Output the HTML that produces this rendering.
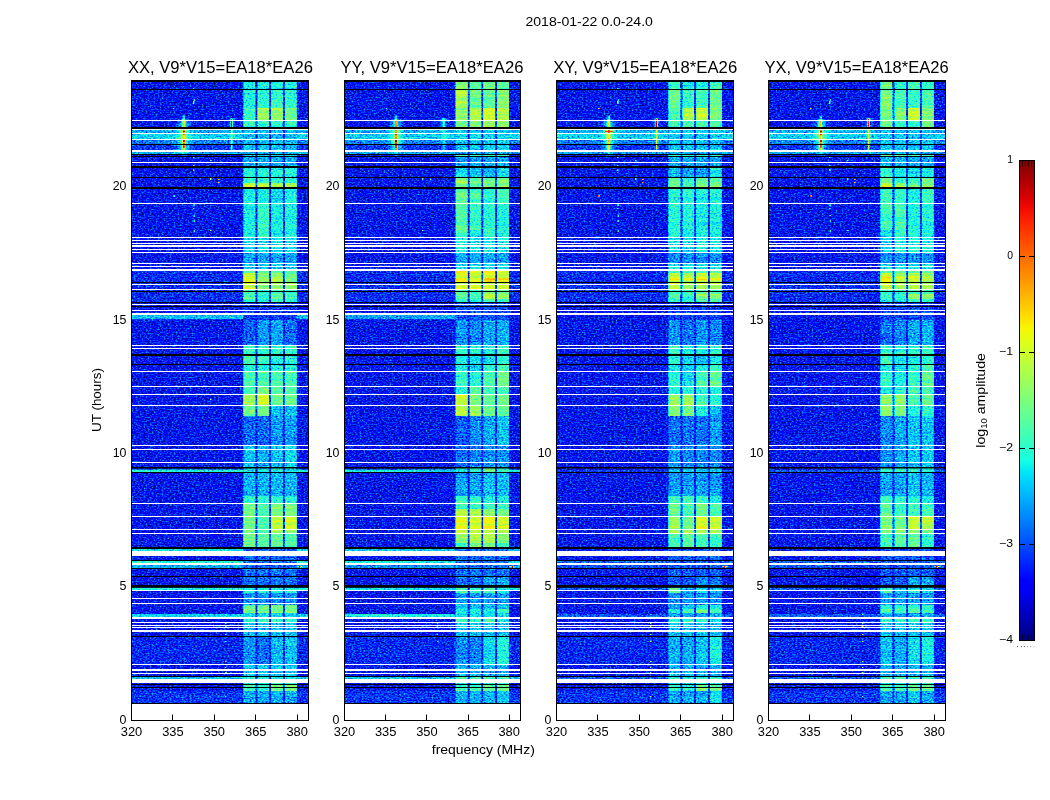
<!DOCTYPE html><html><head><meta charset="utf-8"><title>2018-01-22 0.0-24.0</title>
<style>html,body{margin:0;padding:0;background:#fff;overflow:hidden}svg{display:block}text{font-family:"Liberation Sans",sans-serif;fill:#000;opacity:.995}</style></head><body>
<svg width="1050" height="800" viewBox="0 0 1050 800">
<defs>
<filter id="jet0" filterUnits="userSpaceOnUse" x="131.5" y="80" width="177" height="623.2" color-interpolation-filters="sRGB">
<feTurbulence type="fractalNoise" baseFrequency="0.5 0.75" numOctaves="2" seed="3" result="n0"/>
<feColorMatrix in="n0" type="matrix" values="1 0 0 0 0 1 0 0 0 0 1 0 0 0 0 0 0 0 0 1" result="n1"/>
<feComponentTransfer in="n1" result="n2"><feFuncR type="gamma" exponent="0.55"/><feFuncG type="gamma" exponent="0.55"/><feFuncB type="gamma" exponent="0.55"/></feComponentTransfer>
<feTurbulence type="fractalNoise" baseFrequency="0.012 0.42" numOctaves="2" seed="11" result="m0"/>
<feColorMatrix in="m0" type="matrix" values="1 0 0 0 0 1 0 0 0 0 1 0 0 0 0 0 0 0 0 1" result="m1"/>
<feComposite in="SourceGraphic" in2="m1" operator="arithmetic" k1="0.3" k2="0.85" k3="0" k4="0" result="sA"/>
<feComposite in="sA" in2="n2" operator="arithmetic" k1="-0.936" k2="1.63648" k3="0.72" k4="-0.4896" result="c"/>
<feComponentTransfer in="c"><feFuncR type="table" tableValues="0 0 0 0 0 0 0 0 0 0 0 0 0 0 0 0 0 0 0 0 0 0 0 0 0 0 0 0 0 0 0 0 0 0 0 0 0.0323 0.0645 0.0968 0.129 0.161 0.194 0.226 0.258 0.29 0.323 0.355 0.387 0.419 0.452 0.484 0.516 0.548 0.581 0.613 0.645 0.677 0.71 0.742 0.774 0.806 0.839 0.871 0.903 0.935 0.968 1 1 1 1 1 1 1 1 1 1 1 1 1 1 1 1 1 1 1 1 1 1 1 1 0.955 0.909 0.864 0.818 0.773 0.727 0.682 0.636 0.591 0.545 0.5"/><feFuncG type="table" tableValues="0 0 0 0 0 0 0 0 0 0 0 0 0 0.02 0.06 0.1 0.14 0.18 0.22 0.26 0.3 0.34 0.38 0.42 0.46 0.5 0.54 0.58 0.62 0.66 0.7 0.74 0.78 0.82 0.86 0.9 0.94 0.98 1 1 1 1 1 1 1 1 1 1 1 1 1 1 1 1 1 1 1 1 1 1 1 1 1 1 1 0.963 0.926 0.889 0.852 0.815 0.778 0.741 0.704 0.667 0.63 0.593 0.556 0.519 0.481 0.444 0.407 0.37 0.333 0.296 0.259 0.222 0.185 0.148 0.111 0.0741 0.037 0 0 0 0 0 0 0 0 0 0"/><feFuncB type="table" tableValues="0.5 0.545 0.591 0.636 0.682 0.727 0.773 0.818 0.864 0.909 0.955 1 1 1 1 1 1 1 1 1 1 1 1 1 1 1 1 1 1 1 1 1 1 1 1 0.968 0.935 0.903 0.871 0.839 0.806 0.774 0.742 0.71 0.677 0.645 0.613 0.581 0.548 0.516 0.484 0.452 0.419 0.387 0.355 0.323 0.29 0.258 0.226 0.194 0.161 0.129 0.0968 0.0645 0.0323 0 0 0 0 0 0 0 0 0 0 0 0 0 0 0 0 0 0 0 0 0 0 0 0 0 0 0 0 0 0 0 0 0 0 0 0"/><feFuncA type="linear" slope="0" intercept="1"/></feComponentTransfer>
</filter>
<linearGradient id="p0b0" gradientUnits="userSpaceOnUse" x1="0" y1="80" x2="0" y2="703.2"><stop offset="0.0005" stop-color="#585858"/><stop offset="0.0140" stop-color="#585858"/><stop offset="0.0149" stop-color="#5a5a5a"/><stop offset="0.0444" stop-color="#5a5a5a"/><stop offset="0.0454" stop-color="#626262"/><stop offset="0.0637" stop-color="#626262"/><stop offset="0.0647" stop-color="#626262"/><stop offset="0.0754" stop-color="#626262"/><stop offset="0.0764" stop-color="#4a4a4a"/><stop offset="0.1151" stop-color="#4a4a4a"/><stop offset="0.1160" stop-color="#454545"/><stop offset="0.1186" stop-color="#454545"/><stop offset="0.1195" stop-color="#535353"/><stop offset="0.1223" stop-color="#535353"/><stop offset="0.1232" stop-color="#454545"/><stop offset="0.1383" stop-color="#454545"/><stop offset="0.1393" stop-color="#5b5b5b"/><stop offset="0.1560" stop-color="#5b5b5b"/><stop offset="0.1569" stop-color="#5e5e5e"/><stop offset="0.1648" stop-color="#5e5e5e"/><stop offset="0.1658" stop-color="#8e8e8e"/><stop offset="0.1717" stop-color="#8e8e8e"/><stop offset="0.1727" stop-color="#585858"/><stop offset="0.1977" stop-color="#585858"/><stop offset="0.1987" stop-color="#585858"/><stop offset="0.2402" stop-color="#585858"/><stop offset="0.2412" stop-color="#585858"/><stop offset="0.2514" stop-color="#585858"/><stop offset="0.2524" stop-color="#525252"/><stop offset="0.2771" stop-color="#525252"/><stop offset="0.2781" stop-color="#454545"/><stop offset="0.2940" stop-color="#454545"/><stop offset="0.2949" stop-color="#4c4c4c"/><stop offset="0.3060" stop-color="#4c4c4c"/><stop offset="0.3070" stop-color="#6a6a6a"/><stop offset="0.3092" stop-color="#6a6a6a"/><stop offset="0.3102" stop-color="#8e8e8e"/><stop offset="0.3164" stop-color="#8e8e8e"/><stop offset="0.3174" stop-color="#959595"/><stop offset="0.3212" stop-color="#959595"/><stop offset="0.3222" stop-color="#8e8e8e"/><stop offset="0.3253" stop-color="#8e8e8e"/><stop offset="0.3262" stop-color="#8e8e8e"/><stop offset="0.3357" stop-color="#8e8e8e"/><stop offset="0.3366" stop-color="#656565"/><stop offset="0.3429" stop-color="#656565"/><stop offset="0.3439" stop-color="#6a6a6a"/><stop offset="0.3509" stop-color="#6a6a6a"/><stop offset="0.3519" stop-color="#5e5e5e"/><stop offset="0.3562" stop-color="#5e5e5e"/><stop offset="0.3572" stop-color="#2b2b2b"/><stop offset="0.3846" stop-color="#2b2b2b"/><stop offset="0.3856" stop-color="#333333"/><stop offset="0.4252" stop-color="#333333"/><stop offset="0.4262" stop-color="#626262"/><stop offset="0.4400" stop-color="#626262"/><stop offset="0.4409" stop-color="#676767"/><stop offset="0.4552" stop-color="#676767"/><stop offset="0.4562" stop-color="#5b5b5b"/><stop offset="0.4673" stop-color="#5b5b5b"/><stop offset="0.4682" stop-color="#676767"/><stop offset="0.4913" stop-color="#676767"/><stop offset="0.4923" stop-color="#676767"/><stop offset="0.5042" stop-color="#676767"/><stop offset="0.5051" stop-color="#818181"/><stop offset="0.5218" stop-color="#818181"/><stop offset="0.5228" stop-color="#747474"/><stop offset="0.5387" stop-color="#747474"/><stop offset="0.5396" stop-color="#363636"/><stop offset="0.5852" stop-color="#363636"/><stop offset="0.5862" stop-color="#4c4c4c"/><stop offset="0.6224" stop-color="#4c4c4c"/><stop offset="0.6234" stop-color="#555555"/><stop offset="0.6293" stop-color="#555555"/><stop offset="0.6303" stop-color="#474747"/><stop offset="0.6670" stop-color="#474747"/><stop offset="0.6680" stop-color="#5e5e5e"/><stop offset="0.6791" stop-color="#5e5e5e"/><stop offset="0.6800" stop-color="#747474"/><stop offset="0.6879" stop-color="#747474"/><stop offset="0.6889" stop-color="#747474"/><stop offset="0.6999" stop-color="#747474"/><stop offset="0.7009" stop-color="#747474"/><stop offset="0.7208" stop-color="#747474"/><stop offset="0.7218" stop-color="#747474"/><stop offset="0.7272" stop-color="#747474"/><stop offset="0.7282" stop-color="#747474"/><stop offset="0.7425" stop-color="#747474"/><stop offset="0.7434" stop-color="#747474"/><stop offset="0.7492" stop-color="#747474"/><stop offset="0.7502" stop-color="#363636"/><stop offset="0.7954" stop-color="#363636"/><stop offset="0.7964" stop-color="#383838"/><stop offset="0.8147" stop-color="#383838"/><stop offset="0.8156" stop-color="#5b5b5b"/><stop offset="0.8227" stop-color="#5b5b5b"/><stop offset="0.8237" stop-color="#404040"/><stop offset="0.8419" stop-color="#404040"/><stop offset="0.8429" stop-color="#747474"/><stop offset="0.8484" stop-color="#747474"/><stop offset="0.8493" stop-color="#747474"/><stop offset="0.8548" stop-color="#747474"/><stop offset="0.8557" stop-color="#535353"/><stop offset="0.8612" stop-color="#535353"/><stop offset="0.8622" stop-color="#626262"/><stop offset="0.8692" stop-color="#626262"/><stop offset="0.8702" stop-color="#4c4c4c"/><stop offset="0.8925" stop-color="#4c4c4c"/><stop offset="0.8935" stop-color="#404040"/><stop offset="0.9366" stop-color="#404040"/><stop offset="0.9376" stop-color="#4c4c4c"/><stop offset="0.9575" stop-color="#4c4c4c"/><stop offset="0.9584" stop-color="#5e5e5e"/><stop offset="0.9615" stop-color="#5e5e5e"/><stop offset="0.9625" stop-color="#4c4c4c"/><stop offset="0.9679" stop-color="#4c4c4c"/><stop offset="0.9689" stop-color="#676767"/><stop offset="0.9799" stop-color="#676767"/><stop offset="0.9809" stop-color="#454545"/><stop offset="0.9997" stop-color="#454545"/></linearGradient>
<linearGradient id="p0b1" gradientUnits="userSpaceOnUse" x1="0" y1="80" x2="0" y2="703.2"><stop offset="0.0005" stop-color="#585858"/><stop offset="0.0140" stop-color="#585858"/><stop offset="0.0149" stop-color="#5e5e5e"/><stop offset="0.0444" stop-color="#5e5e5e"/><stop offset="0.0454" stop-color="#818181"/><stop offset="0.0637" stop-color="#818181"/><stop offset="0.0647" stop-color="#626262"/><stop offset="0.0754" stop-color="#626262"/><stop offset="0.0764" stop-color="#4a4a4a"/><stop offset="0.1151" stop-color="#4a4a4a"/><stop offset="0.1160" stop-color="#454545"/><stop offset="0.1186" stop-color="#454545"/><stop offset="0.1195" stop-color="#535353"/><stop offset="0.1223" stop-color="#535353"/><stop offset="0.1232" stop-color="#454545"/><stop offset="0.1383" stop-color="#454545"/><stop offset="0.1393" stop-color="#5b5b5b"/><stop offset="0.1560" stop-color="#5b5b5b"/><stop offset="0.1569" stop-color="#5e5e5e"/><stop offset="0.1648" stop-color="#5e5e5e"/><stop offset="0.1658" stop-color="#888888"/><stop offset="0.1717" stop-color="#888888"/><stop offset="0.1727" stop-color="#585858"/><stop offset="0.1977" stop-color="#585858"/><stop offset="0.1987" stop-color="#626262"/><stop offset="0.2402" stop-color="#626262"/><stop offset="0.2412" stop-color="#626262"/><stop offset="0.2514" stop-color="#626262"/><stop offset="0.2524" stop-color="#525252"/><stop offset="0.2771" stop-color="#525252"/><stop offset="0.2781" stop-color="#454545"/><stop offset="0.2940" stop-color="#454545"/><stop offset="0.2949" stop-color="#4c4c4c"/><stop offset="0.3060" stop-color="#4c4c4c"/><stop offset="0.3070" stop-color="#6a6a6a"/><stop offset="0.3092" stop-color="#6a6a6a"/><stop offset="0.3102" stop-color="#7c7c7c"/><stop offset="0.3164" stop-color="#7c7c7c"/><stop offset="0.3174" stop-color="#818181"/><stop offset="0.3212" stop-color="#818181"/><stop offset="0.3222" stop-color="#797979"/><stop offset="0.3253" stop-color="#797979"/><stop offset="0.3262" stop-color="#7c7c7c"/><stop offset="0.3357" stop-color="#7c7c7c"/><stop offset="0.3366" stop-color="#5e5e5e"/><stop offset="0.3429" stop-color="#5e5e5e"/><stop offset="0.3439" stop-color="#5e5e5e"/><stop offset="0.3509" stop-color="#5e5e5e"/><stop offset="0.3519" stop-color="#585858"/><stop offset="0.3562" stop-color="#585858"/><stop offset="0.3572" stop-color="#2b2b2b"/><stop offset="0.3846" stop-color="#2b2b2b"/><stop offset="0.3856" stop-color="#424242"/><stop offset="0.4252" stop-color="#424242"/><stop offset="0.4262" stop-color="#626262"/><stop offset="0.4400" stop-color="#626262"/><stop offset="0.4409" stop-color="#626262"/><stop offset="0.4552" stop-color="#626262"/><stop offset="0.4562" stop-color="#5b5b5b"/><stop offset="0.4673" stop-color="#5b5b5b"/><stop offset="0.4682" stop-color="#676767"/><stop offset="0.4913" stop-color="#676767"/><stop offset="0.4923" stop-color="#747474"/><stop offset="0.5042" stop-color="#747474"/><stop offset="0.5051" stop-color="#939393"/><stop offset="0.5218" stop-color="#939393"/><stop offset="0.5228" stop-color="#747474"/><stop offset="0.5387" stop-color="#747474"/><stop offset="0.5396" stop-color="#363636"/><stop offset="0.5852" stop-color="#363636"/><stop offset="0.5862" stop-color="#474747"/><stop offset="0.6224" stop-color="#474747"/><stop offset="0.6234" stop-color="#555555"/><stop offset="0.6293" stop-color="#555555"/><stop offset="0.6303" stop-color="#474747"/><stop offset="0.6670" stop-color="#474747"/><stop offset="0.6680" stop-color="#5e5e5e"/><stop offset="0.6791" stop-color="#5e5e5e"/><stop offset="0.6800" stop-color="#676767"/><stop offset="0.6879" stop-color="#676767"/><stop offset="0.6889" stop-color="#676767"/><stop offset="0.6999" stop-color="#676767"/><stop offset="0.7009" stop-color="#676767"/><stop offset="0.7208" stop-color="#676767"/><stop offset="0.7218" stop-color="#676767"/><stop offset="0.7272" stop-color="#676767"/><stop offset="0.7282" stop-color="#6c6c6c"/><stop offset="0.7425" stop-color="#6c6c6c"/><stop offset="0.7434" stop-color="#6c6c6c"/><stop offset="0.7492" stop-color="#6c6c6c"/><stop offset="0.7502" stop-color="#363636"/><stop offset="0.7954" stop-color="#363636"/><stop offset="0.7964" stop-color="#383838"/><stop offset="0.8147" stop-color="#383838"/><stop offset="0.8156" stop-color="#5b5b5b"/><stop offset="0.8227" stop-color="#5b5b5b"/><stop offset="0.8237" stop-color="#404040"/><stop offset="0.8419" stop-color="#404040"/><stop offset="0.8429" stop-color="#747474"/><stop offset="0.8484" stop-color="#747474"/><stop offset="0.8493" stop-color="#747474"/><stop offset="0.8548" stop-color="#747474"/><stop offset="0.8557" stop-color="#535353"/><stop offset="0.8612" stop-color="#535353"/><stop offset="0.8622" stop-color="#626262"/><stop offset="0.8692" stop-color="#626262"/><stop offset="0.8702" stop-color="#4c4c4c"/><stop offset="0.8925" stop-color="#4c4c4c"/><stop offset="0.8935" stop-color="#383838"/><stop offset="0.9366" stop-color="#383838"/><stop offset="0.9376" stop-color="#4c4c4c"/><stop offset="0.9575" stop-color="#4c4c4c"/><stop offset="0.9584" stop-color="#5e5e5e"/><stop offset="0.9615" stop-color="#5e5e5e"/><stop offset="0.9625" stop-color="#4c4c4c"/><stop offset="0.9679" stop-color="#4c4c4c"/><stop offset="0.9689" stop-color="#626262"/><stop offset="0.9799" stop-color="#626262"/><stop offset="0.9809" stop-color="#454545"/><stop offset="0.9997" stop-color="#454545"/></linearGradient>
<linearGradient id="p0b2" gradientUnits="userSpaceOnUse" x1="0" y1="80" x2="0" y2="703.2"><stop offset="0.0005" stop-color="#585858"/><stop offset="0.0140" stop-color="#585858"/><stop offset="0.0149" stop-color="#626262"/><stop offset="0.0444" stop-color="#626262"/><stop offset="0.0454" stop-color="#818181"/><stop offset="0.0637" stop-color="#818181"/><stop offset="0.0647" stop-color="#626262"/><stop offset="0.0754" stop-color="#626262"/><stop offset="0.0764" stop-color="#4a4a4a"/><stop offset="0.1151" stop-color="#4a4a4a"/><stop offset="0.1160" stop-color="#454545"/><stop offset="0.1186" stop-color="#454545"/><stop offset="0.1195" stop-color="#535353"/><stop offset="0.1223" stop-color="#535353"/><stop offset="0.1232" stop-color="#454545"/><stop offset="0.1383" stop-color="#454545"/><stop offset="0.1393" stop-color="#5b5b5b"/><stop offset="0.1560" stop-color="#5b5b5b"/><stop offset="0.1569" stop-color="#5e5e5e"/><stop offset="0.1648" stop-color="#5e5e5e"/><stop offset="0.1658" stop-color="#818181"/><stop offset="0.1717" stop-color="#818181"/><stop offset="0.1727" stop-color="#4f4f4f"/><stop offset="0.1977" stop-color="#4f4f4f"/><stop offset="0.1987" stop-color="#585858"/><stop offset="0.2402" stop-color="#585858"/><stop offset="0.2412" stop-color="#585858"/><stop offset="0.2514" stop-color="#585858"/><stop offset="0.2524" stop-color="#525252"/><stop offset="0.2771" stop-color="#525252"/><stop offset="0.2781" stop-color="#454545"/><stop offset="0.2940" stop-color="#454545"/><stop offset="0.2949" stop-color="#4c4c4c"/><stop offset="0.3060" stop-color="#4c4c4c"/><stop offset="0.3070" stop-color="#6a6a6a"/><stop offset="0.3092" stop-color="#6a6a6a"/><stop offset="0.3102" stop-color="#818181"/><stop offset="0.3164" stop-color="#818181"/><stop offset="0.3174" stop-color="#888888"/><stop offset="0.3212" stop-color="#888888"/><stop offset="0.3222" stop-color="#818181"/><stop offset="0.3253" stop-color="#818181"/><stop offset="0.3262" stop-color="#818181"/><stop offset="0.3357" stop-color="#818181"/><stop offset="0.3366" stop-color="#656565"/><stop offset="0.3429" stop-color="#656565"/><stop offset="0.3439" stop-color="#6f6f6f"/><stop offset="0.3509" stop-color="#6f6f6f"/><stop offset="0.3519" stop-color="#626262"/><stop offset="0.3562" stop-color="#626262"/><stop offset="0.3572" stop-color="#2b2b2b"/><stop offset="0.3846" stop-color="#2b2b2b"/><stop offset="0.3856" stop-color="#454545"/><stop offset="0.4252" stop-color="#454545"/><stop offset="0.4262" stop-color="#626262"/><stop offset="0.4400" stop-color="#626262"/><stop offset="0.4409" stop-color="#585858"/><stop offset="0.4552" stop-color="#585858"/><stop offset="0.4562" stop-color="#5b5b5b"/><stop offset="0.4673" stop-color="#5b5b5b"/><stop offset="0.4682" stop-color="#676767"/><stop offset="0.4913" stop-color="#676767"/><stop offset="0.4923" stop-color="#676767"/><stop offset="0.5042" stop-color="#676767"/><stop offset="0.5051" stop-color="#747474"/><stop offset="0.5218" stop-color="#747474"/><stop offset="0.5228" stop-color="#4c4c4c"/><stop offset="0.5387" stop-color="#4c4c4c"/><stop offset="0.5396" stop-color="#424242"/><stop offset="0.5852" stop-color="#424242"/><stop offset="0.5862" stop-color="#4c4c4c"/><stop offset="0.6224" stop-color="#4c4c4c"/><stop offset="0.6234" stop-color="#555555"/><stop offset="0.6293" stop-color="#555555"/><stop offset="0.6303" stop-color="#474747"/><stop offset="0.6670" stop-color="#474747"/><stop offset="0.6680" stop-color="#5e5e5e"/><stop offset="0.6791" stop-color="#5e5e5e"/><stop offset="0.6800" stop-color="#747474"/><stop offset="0.6879" stop-color="#747474"/><stop offset="0.6889" stop-color="#747474"/><stop offset="0.6999" stop-color="#747474"/><stop offset="0.7009" stop-color="#888888"/><stop offset="0.7208" stop-color="#888888"/><stop offset="0.7218" stop-color="#818181"/><stop offset="0.7272" stop-color="#818181"/><stop offset="0.7282" stop-color="#6f6f6f"/><stop offset="0.7425" stop-color="#6f6f6f"/><stop offset="0.7434" stop-color="#6f6f6f"/><stop offset="0.7492" stop-color="#6f6f6f"/><stop offset="0.7502" stop-color="#363636"/><stop offset="0.7954" stop-color="#363636"/><stop offset="0.7964" stop-color="#383838"/><stop offset="0.8147" stop-color="#383838"/><stop offset="0.8156" stop-color="#5b5b5b"/><stop offset="0.8227" stop-color="#5b5b5b"/><stop offset="0.8237" stop-color="#404040"/><stop offset="0.8419" stop-color="#404040"/><stop offset="0.8429" stop-color="#747474"/><stop offset="0.8484" stop-color="#747474"/><stop offset="0.8493" stop-color="#747474"/><stop offset="0.8548" stop-color="#747474"/><stop offset="0.8557" stop-color="#535353"/><stop offset="0.8612" stop-color="#535353"/><stop offset="0.8622" stop-color="#626262"/><stop offset="0.8692" stop-color="#626262"/><stop offset="0.8702" stop-color="#4c4c4c"/><stop offset="0.8925" stop-color="#4c4c4c"/><stop offset="0.8935" stop-color="#4a4a4a"/><stop offset="0.9366" stop-color="#4a4a4a"/><stop offset="0.9376" stop-color="#4c4c4c"/><stop offset="0.9575" stop-color="#4c4c4c"/><stop offset="0.9584" stop-color="#5e5e5e"/><stop offset="0.9615" stop-color="#5e5e5e"/><stop offset="0.9625" stop-color="#4c4c4c"/><stop offset="0.9679" stop-color="#4c4c4c"/><stop offset="0.9689" stop-color="#797979"/><stop offset="0.9799" stop-color="#797979"/><stop offset="0.9809" stop-color="#454545"/><stop offset="0.9997" stop-color="#454545"/></linearGradient>
<linearGradient id="p0b3" gradientUnits="userSpaceOnUse" x1="0" y1="80" x2="0" y2="703.2"><stop offset="0.0005" stop-color="#585858"/><stop offset="0.0140" stop-color="#585858"/><stop offset="0.0149" stop-color="#5e5e5e"/><stop offset="0.0444" stop-color="#5e5e5e"/><stop offset="0.0454" stop-color="#747474"/><stop offset="0.0637" stop-color="#747474"/><stop offset="0.0647" stop-color="#626262"/><stop offset="0.0754" stop-color="#626262"/><stop offset="0.0764" stop-color="#4a4a4a"/><stop offset="0.1151" stop-color="#4a4a4a"/><stop offset="0.1160" stop-color="#454545"/><stop offset="0.1186" stop-color="#454545"/><stop offset="0.1195" stop-color="#535353"/><stop offset="0.1223" stop-color="#535353"/><stop offset="0.1232" stop-color="#454545"/><stop offset="0.1383" stop-color="#454545"/><stop offset="0.1393" stop-color="#5b5b5b"/><stop offset="0.1560" stop-color="#5b5b5b"/><stop offset="0.1569" stop-color="#5e5e5e"/><stop offset="0.1648" stop-color="#5e5e5e"/><stop offset="0.1658" stop-color="#818181"/><stop offset="0.1717" stop-color="#818181"/><stop offset="0.1727" stop-color="#585858"/><stop offset="0.1977" stop-color="#585858"/><stop offset="0.1987" stop-color="#5b5b5b"/><stop offset="0.2402" stop-color="#5b5b5b"/><stop offset="0.2412" stop-color="#5b5b5b"/><stop offset="0.2514" stop-color="#5b5b5b"/><stop offset="0.2524" stop-color="#525252"/><stop offset="0.2771" stop-color="#525252"/><stop offset="0.2781" stop-color="#454545"/><stop offset="0.2940" stop-color="#454545"/><stop offset="0.2949" stop-color="#4c4c4c"/><stop offset="0.3060" stop-color="#4c4c4c"/><stop offset="0.3070" stop-color="#6a6a6a"/><stop offset="0.3092" stop-color="#6a6a6a"/><stop offset="0.3102" stop-color="#747474"/><stop offset="0.3164" stop-color="#747474"/><stop offset="0.3174" stop-color="#797979"/><stop offset="0.3212" stop-color="#797979"/><stop offset="0.3222" stop-color="#747474"/><stop offset="0.3253" stop-color="#747474"/><stop offset="0.3262" stop-color="#818181"/><stop offset="0.3357" stop-color="#818181"/><stop offset="0.3366" stop-color="#626262"/><stop offset="0.3429" stop-color="#626262"/><stop offset="0.3439" stop-color="#676767"/><stop offset="0.3509" stop-color="#676767"/><stop offset="0.3519" stop-color="#5e5e5e"/><stop offset="0.3562" stop-color="#5e5e5e"/><stop offset="0.3572" stop-color="#2b2b2b"/><stop offset="0.3846" stop-color="#2b2b2b"/><stop offset="0.3856" stop-color="#383838"/><stop offset="0.4252" stop-color="#383838"/><stop offset="0.4262" stop-color="#626262"/><stop offset="0.4400" stop-color="#626262"/><stop offset="0.4409" stop-color="#5b5b5b"/><stop offset="0.4552" stop-color="#5b5b5b"/><stop offset="0.4562" stop-color="#5b5b5b"/><stop offset="0.4673" stop-color="#5b5b5b"/><stop offset="0.4682" stop-color="#676767"/><stop offset="0.4913" stop-color="#676767"/><stop offset="0.4923" stop-color="#676767"/><stop offset="0.5042" stop-color="#676767"/><stop offset="0.5051" stop-color="#747474"/><stop offset="0.5218" stop-color="#747474"/><stop offset="0.5228" stop-color="#4c4c4c"/><stop offset="0.5387" stop-color="#4c4c4c"/><stop offset="0.5396" stop-color="#424242"/><stop offset="0.5852" stop-color="#424242"/><stop offset="0.5862" stop-color="#535353"/><stop offset="0.6224" stop-color="#535353"/><stop offset="0.6234" stop-color="#555555"/><stop offset="0.6293" stop-color="#555555"/><stop offset="0.6303" stop-color="#474747"/><stop offset="0.6670" stop-color="#474747"/><stop offset="0.6680" stop-color="#5e5e5e"/><stop offset="0.6791" stop-color="#5e5e5e"/><stop offset="0.6800" stop-color="#747474"/><stop offset="0.6879" stop-color="#747474"/><stop offset="0.6889" stop-color="#747474"/><stop offset="0.6999" stop-color="#747474"/><stop offset="0.7009" stop-color="#8e8e8e"/><stop offset="0.7208" stop-color="#8e8e8e"/><stop offset="0.7218" stop-color="#818181"/><stop offset="0.7272" stop-color="#818181"/><stop offset="0.7282" stop-color="#676767"/><stop offset="0.7425" stop-color="#676767"/><stop offset="0.7434" stop-color="#676767"/><stop offset="0.7492" stop-color="#676767"/><stop offset="0.7502" stop-color="#363636"/><stop offset="0.7954" stop-color="#363636"/><stop offset="0.7964" stop-color="#383838"/><stop offset="0.8147" stop-color="#383838"/><stop offset="0.8156" stop-color="#5b5b5b"/><stop offset="0.8227" stop-color="#5b5b5b"/><stop offset="0.8237" stop-color="#404040"/><stop offset="0.8419" stop-color="#404040"/><stop offset="0.8429" stop-color="#747474"/><stop offset="0.8484" stop-color="#747474"/><stop offset="0.8493" stop-color="#747474"/><stop offset="0.8548" stop-color="#747474"/><stop offset="0.8557" stop-color="#535353"/><stop offset="0.8612" stop-color="#535353"/><stop offset="0.8622" stop-color="#626262"/><stop offset="0.8692" stop-color="#626262"/><stop offset="0.8702" stop-color="#4c4c4c"/><stop offset="0.8925" stop-color="#4c4c4c"/><stop offset="0.8935" stop-color="#4c4c4c"/><stop offset="0.9366" stop-color="#4c4c4c"/><stop offset="0.9376" stop-color="#4c4c4c"/><stop offset="0.9575" stop-color="#4c4c4c"/><stop offset="0.9584" stop-color="#5e5e5e"/><stop offset="0.9615" stop-color="#5e5e5e"/><stop offset="0.9625" stop-color="#4c4c4c"/><stop offset="0.9679" stop-color="#4c4c4c"/><stop offset="0.9689" stop-color="#797979"/><stop offset="0.9799" stop-color="#797979"/><stop offset="0.9809" stop-color="#454545"/><stop offset="0.9997" stop-color="#454545"/></linearGradient>
<linearGradient id="p0g" gradientUnits="userSpaceOnUse" x1="0" y1="80" x2="0" y2="703.2"><stop offset="0.0005" stop-color="#252525"/><stop offset="0.0140" stop-color="#252525"/><stop offset="0.0149" stop-color="#262626"/><stop offset="0.0444" stop-color="#262626"/><stop offset="0.0454" stop-color="#282828"/><stop offset="0.0637" stop-color="#282828"/><stop offset="0.0647" stop-color="#262626"/><stop offset="0.0754" stop-color="#262626"/><stop offset="0.0764" stop-color="#242424"/><stop offset="0.1151" stop-color="#242424"/><stop offset="0.1160" stop-color="#242424"/><stop offset="0.1186" stop-color="#242424"/><stop offset="0.1195" stop-color="#252525"/><stop offset="0.1223" stop-color="#252525"/><stop offset="0.1232" stop-color="#242424"/><stop offset="0.1383" stop-color="#242424"/><stop offset="0.1393" stop-color="#262626"/><stop offset="0.1560" stop-color="#262626"/><stop offset="0.1569" stop-color="#262626"/><stop offset="0.1648" stop-color="#262626"/><stop offset="0.1658" stop-color="#2a2a2a"/><stop offset="0.1717" stop-color="#2a2a2a"/><stop offset="0.1727" stop-color="#252525"/><stop offset="0.1977" stop-color="#252525"/><stop offset="0.1987" stop-color="#262626"/><stop offset="0.2402" stop-color="#262626"/><stop offset="0.2412" stop-color="#262626"/><stop offset="0.2514" stop-color="#262626"/><stop offset="0.2524" stop-color="#252525"/><stop offset="0.2771" stop-color="#252525"/><stop offset="0.2781" stop-color="#242424"/><stop offset="0.2940" stop-color="#242424"/><stop offset="0.2949" stop-color="#242424"/><stop offset="0.3060" stop-color="#242424"/><stop offset="0.3070" stop-color="#272727"/><stop offset="0.3092" stop-color="#272727"/><stop offset="0.3102" stop-color="#292929"/><stop offset="0.3164" stop-color="#292929"/><stop offset="0.3174" stop-color="#2a2a2a"/><stop offset="0.3212" stop-color="#2a2a2a"/><stop offset="0.3222" stop-color="#292929"/><stop offset="0.3253" stop-color="#292929"/><stop offset="0.3262" stop-color="#2a2a2a"/><stop offset="0.3357" stop-color="#2a2a2a"/><stop offset="0.3366" stop-color="#272727"/><stop offset="0.3429" stop-color="#272727"/><stop offset="0.3439" stop-color="#272727"/><stop offset="0.3509" stop-color="#272727"/><stop offset="0.3519" stop-color="#262626"/><stop offset="0.3562" stop-color="#262626"/><stop offset="0.3572" stop-color="#212121"/><stop offset="0.3846" stop-color="#212121"/><stop offset="0.3856" stop-color="#232323"/><stop offset="0.4252" stop-color="#232323"/><stop offset="0.4262" stop-color="#262626"/><stop offset="0.4400" stop-color="#262626"/><stop offset="0.4409" stop-color="#262626"/><stop offset="0.4552" stop-color="#262626"/><stop offset="0.4562" stop-color="#262626"/><stop offset="0.4673" stop-color="#262626"/><stop offset="0.4682" stop-color="#272727"/><stop offset="0.4913" stop-color="#272727"/><stop offset="0.4923" stop-color="#272727"/><stop offset="0.5042" stop-color="#272727"/><stop offset="0.5051" stop-color="#292929"/><stop offset="0.5218" stop-color="#292929"/><stop offset="0.5228" stop-color="#262626"/><stop offset="0.5387" stop-color="#262626"/><stop offset="0.5396" stop-color="#232323"/><stop offset="0.5852" stop-color="#232323"/><stop offset="0.5862" stop-color="#242424"/><stop offset="0.6224" stop-color="#242424"/><stop offset="0.6234" stop-color="#252525"/><stop offset="0.6293" stop-color="#252525"/><stop offset="0.6303" stop-color="#242424"/><stop offset="0.6670" stop-color="#242424"/><stop offset="0.6680" stop-color="#262626"/><stop offset="0.6791" stop-color="#262626"/><stop offset="0.6800" stop-color="#282828"/><stop offset="0.6879" stop-color="#282828"/><stop offset="0.6889" stop-color="#282828"/><stop offset="0.6999" stop-color="#282828"/><stop offset="0.7009" stop-color="#292929"/><stop offset="0.7208" stop-color="#292929"/><stop offset="0.7218" stop-color="#292929"/><stop offset="0.7272" stop-color="#292929"/><stop offset="0.7282" stop-color="#282828"/><stop offset="0.7425" stop-color="#282828"/><stop offset="0.7434" stop-color="#282828"/><stop offset="0.7492" stop-color="#282828"/><stop offset="0.7502" stop-color="#222222"/><stop offset="0.7954" stop-color="#222222"/><stop offset="0.7964" stop-color="#222222"/><stop offset="0.8147" stop-color="#222222"/><stop offset="0.8156" stop-color="#262626"/><stop offset="0.8227" stop-color="#262626"/><stop offset="0.8237" stop-color="#232323"/><stop offset="0.8419" stop-color="#232323"/><stop offset="0.8429" stop-color="#282828"/><stop offset="0.8484" stop-color="#282828"/><stop offset="0.8493" stop-color="#282828"/><stop offset="0.8548" stop-color="#282828"/><stop offset="0.8557" stop-color="#252525"/><stop offset="0.8612" stop-color="#252525"/><stop offset="0.8622" stop-color="#262626"/><stop offset="0.8692" stop-color="#262626"/><stop offset="0.8702" stop-color="#242424"/><stop offset="0.8925" stop-color="#242424"/><stop offset="0.8935" stop-color="#232323"/><stop offset="0.9366" stop-color="#232323"/><stop offset="0.9376" stop-color="#242424"/><stop offset="0.9575" stop-color="#242424"/><stop offset="0.9584" stop-color="#262626"/><stop offset="0.9615" stop-color="#262626"/><stop offset="0.9625" stop-color="#242424"/><stop offset="0.9679" stop-color="#242424"/><stop offset="0.9689" stop-color="#282828"/><stop offset="0.9799" stop-color="#282828"/><stop offset="0.9809" stop-color="#242424"/><stop offset="0.9997" stop-color="#242424"/></linearGradient>
<filter id="jet1" filterUnits="userSpaceOnUse" x="344.5" y="80" width="176" height="623.2" color-interpolation-filters="sRGB">
<feTurbulence type="fractalNoise" baseFrequency="0.5 0.75" numOctaves="2" seed="10" result="n0"/>
<feColorMatrix in="n0" type="matrix" values="1 0 0 0 0 1 0 0 0 0 1 0 0 0 0 0 0 0 0 1" result="n1"/>
<feComponentTransfer in="n1" result="n2"><feFuncR type="gamma" exponent="0.55"/><feFuncG type="gamma" exponent="0.55"/><feFuncB type="gamma" exponent="0.55"/></feComponentTransfer>
<feTurbulence type="fractalNoise" baseFrequency="0.012 0.42" numOctaves="2" seed="12" result="m0"/>
<feColorMatrix in="m0" type="matrix" values="1 0 0 0 0 1 0 0 0 0 1 0 0 0 0 0 0 0 0 1" result="m1"/>
<feComposite in="SourceGraphic" in2="m1" operator="arithmetic" k1="0.3" k2="0.85" k3="0" k4="0" result="sA"/>
<feComposite in="sA" in2="n2" operator="arithmetic" k1="-0.936" k2="1.63648" k3="0.72" k4="-0.4896" result="c"/>
<feComponentTransfer in="c"><feFuncR type="table" tableValues="0 0 0 0 0 0 0 0 0 0 0 0 0 0 0 0 0 0 0 0 0 0 0 0 0 0 0 0 0 0 0 0 0 0 0 0 0.0323 0.0645 0.0968 0.129 0.161 0.194 0.226 0.258 0.29 0.323 0.355 0.387 0.419 0.452 0.484 0.516 0.548 0.581 0.613 0.645 0.677 0.71 0.742 0.774 0.806 0.839 0.871 0.903 0.935 0.968 1 1 1 1 1 1 1 1 1 1 1 1 1 1 1 1 1 1 1 1 1 1 1 1 0.955 0.909 0.864 0.818 0.773 0.727 0.682 0.636 0.591 0.545 0.5"/><feFuncG type="table" tableValues="0 0 0 0 0 0 0 0 0 0 0 0 0 0.02 0.06 0.1 0.14 0.18 0.22 0.26 0.3 0.34 0.38 0.42 0.46 0.5 0.54 0.58 0.62 0.66 0.7 0.74 0.78 0.82 0.86 0.9 0.94 0.98 1 1 1 1 1 1 1 1 1 1 1 1 1 1 1 1 1 1 1 1 1 1 1 1 1 1 1 0.963 0.926 0.889 0.852 0.815 0.778 0.741 0.704 0.667 0.63 0.593 0.556 0.519 0.481 0.444 0.407 0.37 0.333 0.296 0.259 0.222 0.185 0.148 0.111 0.0741 0.037 0 0 0 0 0 0 0 0 0 0"/><feFuncB type="table" tableValues="0.5 0.545 0.591 0.636 0.682 0.727 0.773 0.818 0.864 0.909 0.955 1 1 1 1 1 1 1 1 1 1 1 1 1 1 1 1 1 1 1 1 1 1 1 1 0.968 0.935 0.903 0.871 0.839 0.806 0.774 0.742 0.71 0.677 0.645 0.613 0.581 0.548 0.516 0.484 0.452 0.419 0.387 0.355 0.323 0.29 0.258 0.226 0.194 0.161 0.129 0.0968 0.0645 0.0323 0 0 0 0 0 0 0 0 0 0 0 0 0 0 0 0 0 0 0 0 0 0 0 0 0 0 0 0 0 0 0 0 0 0 0 0"/><feFuncA type="linear" slope="0" intercept="1"/></feComponentTransfer>
</filter>
<linearGradient id="p1b0" gradientUnits="userSpaceOnUse" x1="0" y1="80" x2="0" y2="703.2"><stop offset="0.0005" stop-color="#797979"/><stop offset="0.0140" stop-color="#797979"/><stop offset="0.0149" stop-color="#888888"/><stop offset="0.0444" stop-color="#888888"/><stop offset="0.0454" stop-color="#7c7c7c"/><stop offset="0.0637" stop-color="#7c7c7c"/><stop offset="0.0647" stop-color="#6f6f6f"/><stop offset="0.0754" stop-color="#6f6f6f"/><stop offset="0.0764" stop-color="#4f4f4f"/><stop offset="0.1151" stop-color="#4f4f4f"/><stop offset="0.1160" stop-color="#454545"/><stop offset="0.1186" stop-color="#454545"/><stop offset="0.1195" stop-color="#626262"/><stop offset="0.1223" stop-color="#626262"/><stop offset="0.1232" stop-color="#454545"/><stop offset="0.1383" stop-color="#454545"/><stop offset="0.1393" stop-color="#535353"/><stop offset="0.1560" stop-color="#535353"/><stop offset="0.1569" stop-color="#818181"/><stop offset="0.1648" stop-color="#818181"/><stop offset="0.1658" stop-color="#747474"/><stop offset="0.1717" stop-color="#747474"/><stop offset="0.1727" stop-color="#6f6f6f"/><stop offset="0.1977" stop-color="#6f6f6f"/><stop offset="0.1987" stop-color="#6c6c6c"/><stop offset="0.2402" stop-color="#6c6c6c"/><stop offset="0.2412" stop-color="#676767"/><stop offset="0.2514" stop-color="#676767"/><stop offset="0.2524" stop-color="#5b5b5b"/><stop offset="0.2771" stop-color="#5b5b5b"/><stop offset="0.2781" stop-color="#454545"/><stop offset="0.2940" stop-color="#454545"/><stop offset="0.2949" stop-color="#535353"/><stop offset="0.3060" stop-color="#535353"/><stop offset="0.3070" stop-color="#9d9d9d"/><stop offset="0.3092" stop-color="#9d9d9d"/><stop offset="0.3102" stop-color="#8e8e8e"/><stop offset="0.3164" stop-color="#8e8e8e"/><stop offset="0.3174" stop-color="#9f9f9f"/><stop offset="0.3212" stop-color="#9f9f9f"/><stop offset="0.3222" stop-color="#939393"/><stop offset="0.3253" stop-color="#939393"/><stop offset="0.3262" stop-color="#8e8e8e"/><stop offset="0.3357" stop-color="#8e8e8e"/><stop offset="0.3366" stop-color="#6a6a6a"/><stop offset="0.3429" stop-color="#6a6a6a"/><stop offset="0.3439" stop-color="#6c6c6c"/><stop offset="0.3509" stop-color="#6c6c6c"/><stop offset="0.3519" stop-color="#5e5e5e"/><stop offset="0.3562" stop-color="#5e5e5e"/><stop offset="0.3572" stop-color="#303030"/><stop offset="0.3846" stop-color="#303030"/><stop offset="0.3856" stop-color="#404040"/><stop offset="0.4252" stop-color="#404040"/><stop offset="0.4262" stop-color="#626262"/><stop offset="0.4400" stop-color="#626262"/><stop offset="0.4409" stop-color="#5b5b5b"/><stop offset="0.4552" stop-color="#5b5b5b"/><stop offset="0.4562" stop-color="#585858"/><stop offset="0.4673" stop-color="#585858"/><stop offset="0.4682" stop-color="#626262"/><stop offset="0.4913" stop-color="#626262"/><stop offset="0.4923" stop-color="#5e5e5e"/><stop offset="0.5042" stop-color="#5e5e5e"/><stop offset="0.5051" stop-color="#888888"/><stop offset="0.5218" stop-color="#888888"/><stop offset="0.5228" stop-color="#888888"/><stop offset="0.5387" stop-color="#888888"/><stop offset="0.5396" stop-color="#333333"/><stop offset="0.5852" stop-color="#333333"/><stop offset="0.5862" stop-color="#383838"/><stop offset="0.6224" stop-color="#383838"/><stop offset="0.6234" stop-color="#585858"/><stop offset="0.6293" stop-color="#585858"/><stop offset="0.6303" stop-color="#424242"/><stop offset="0.6670" stop-color="#424242"/><stop offset="0.6680" stop-color="#676767"/><stop offset="0.6791" stop-color="#676767"/><stop offset="0.6800" stop-color="#626262"/><stop offset="0.6879" stop-color="#626262"/><stop offset="0.6889" stop-color="#868686"/><stop offset="0.6999" stop-color="#868686"/><stop offset="0.7009" stop-color="#939393"/><stop offset="0.7208" stop-color="#939393"/><stop offset="0.7218" stop-color="#868686"/><stop offset="0.7272" stop-color="#868686"/><stop offset="0.7282" stop-color="#7e7e7e"/><stop offset="0.7425" stop-color="#7e7e7e"/><stop offset="0.7434" stop-color="#626262"/><stop offset="0.7492" stop-color="#626262"/><stop offset="0.7502" stop-color="#383838"/><stop offset="0.7954" stop-color="#383838"/><stop offset="0.7964" stop-color="#383838"/><stop offset="0.8147" stop-color="#383838"/><stop offset="0.8156" stop-color="#676767"/><stop offset="0.8227" stop-color="#676767"/><stop offset="0.8237" stop-color="#444444"/><stop offset="0.8419" stop-color="#444444"/><stop offset="0.8429" stop-color="#4c4c4c"/><stop offset="0.8484" stop-color="#4c4c4c"/><stop offset="0.8493" stop-color="#535353"/><stop offset="0.8548" stop-color="#535353"/><stop offset="0.8557" stop-color="#535353"/><stop offset="0.8612" stop-color="#535353"/><stop offset="0.8622" stop-color="#676767"/><stop offset="0.8692" stop-color="#676767"/><stop offset="0.8702" stop-color="#4c4c4c"/><stop offset="0.8925" stop-color="#4c4c4c"/><stop offset="0.8935" stop-color="#404040"/><stop offset="0.9366" stop-color="#404040"/><stop offset="0.9376" stop-color="#474747"/><stop offset="0.9575" stop-color="#474747"/><stop offset="0.9584" stop-color="#676767"/><stop offset="0.9615" stop-color="#676767"/><stop offset="0.9625" stop-color="#4c4c4c"/><stop offset="0.9679" stop-color="#4c4c4c"/><stop offset="0.9689" stop-color="#676767"/><stop offset="0.9799" stop-color="#676767"/><stop offset="0.9809" stop-color="#474747"/><stop offset="0.9997" stop-color="#474747"/></linearGradient>
<linearGradient id="p1b1" gradientUnits="userSpaceOnUse" x1="0" y1="80" x2="0" y2="703.2"><stop offset="0.0005" stop-color="#6c6c6c"/><stop offset="0.0140" stop-color="#6c6c6c"/><stop offset="0.0149" stop-color="#747474"/><stop offset="0.0444" stop-color="#747474"/><stop offset="0.0454" stop-color="#868686"/><stop offset="0.0637" stop-color="#868686"/><stop offset="0.0647" stop-color="#747474"/><stop offset="0.0754" stop-color="#747474"/><stop offset="0.0764" stop-color="#4f4f4f"/><stop offset="0.1151" stop-color="#4f4f4f"/><stop offset="0.1160" stop-color="#454545"/><stop offset="0.1186" stop-color="#454545"/><stop offset="0.1195" stop-color="#626262"/><stop offset="0.1223" stop-color="#626262"/><stop offset="0.1232" stop-color="#454545"/><stop offset="0.1383" stop-color="#454545"/><stop offset="0.1393" stop-color="#4c4c4c"/><stop offset="0.1560" stop-color="#4c4c4c"/><stop offset="0.1569" stop-color="#747474"/><stop offset="0.1648" stop-color="#747474"/><stop offset="0.1658" stop-color="#6a6a6a"/><stop offset="0.1717" stop-color="#6a6a6a"/><stop offset="0.1727" stop-color="#676767"/><stop offset="0.1977" stop-color="#676767"/><stop offset="0.1987" stop-color="#626262"/><stop offset="0.2402" stop-color="#626262"/><stop offset="0.2412" stop-color="#585858"/><stop offset="0.2514" stop-color="#585858"/><stop offset="0.2524" stop-color="#535353"/><stop offset="0.2771" stop-color="#535353"/><stop offset="0.2781" stop-color="#454545"/><stop offset="0.2940" stop-color="#454545"/><stop offset="0.2949" stop-color="#535353"/><stop offset="0.3060" stop-color="#535353"/><stop offset="0.3070" stop-color="#939393"/><stop offset="0.3092" stop-color="#939393"/><stop offset="0.3102" stop-color="#888888"/><stop offset="0.3164" stop-color="#888888"/><stop offset="0.3174" stop-color="#959595"/><stop offset="0.3212" stop-color="#959595"/><stop offset="0.3222" stop-color="#8e8e8e"/><stop offset="0.3253" stop-color="#8e8e8e"/><stop offset="0.3262" stop-color="#8e8e8e"/><stop offset="0.3357" stop-color="#8e8e8e"/><stop offset="0.3366" stop-color="#626262"/><stop offset="0.3429" stop-color="#626262"/><stop offset="0.3439" stop-color="#656565"/><stop offset="0.3509" stop-color="#656565"/><stop offset="0.3519" stop-color="#5b5b5b"/><stop offset="0.3562" stop-color="#5b5b5b"/><stop offset="0.3572" stop-color="#303030"/><stop offset="0.3846" stop-color="#303030"/><stop offset="0.3856" stop-color="#3d3d3d"/><stop offset="0.4252" stop-color="#3d3d3d"/><stop offset="0.4262" stop-color="#5e5e5e"/><stop offset="0.4400" stop-color="#5e5e5e"/><stop offset="0.4409" stop-color="#535353"/><stop offset="0.4552" stop-color="#535353"/><stop offset="0.4562" stop-color="#4c4c4c"/><stop offset="0.4673" stop-color="#4c4c4c"/><stop offset="0.4682" stop-color="#5b5b5b"/><stop offset="0.4913" stop-color="#5b5b5b"/><stop offset="0.4923" stop-color="#6f6f6f"/><stop offset="0.5042" stop-color="#6f6f6f"/><stop offset="0.5051" stop-color="#747474"/><stop offset="0.5218" stop-color="#747474"/><stop offset="0.5228" stop-color="#818181"/><stop offset="0.5387" stop-color="#818181"/><stop offset="0.5396" stop-color="#3d3d3d"/><stop offset="0.5852" stop-color="#3d3d3d"/><stop offset="0.5862" stop-color="#3d3d3d"/><stop offset="0.6224" stop-color="#3d3d3d"/><stop offset="0.6234" stop-color="#5e5e5e"/><stop offset="0.6293" stop-color="#5e5e5e"/><stop offset="0.6303" stop-color="#424242"/><stop offset="0.6670" stop-color="#424242"/><stop offset="0.6680" stop-color="#626262"/><stop offset="0.6791" stop-color="#626262"/><stop offset="0.6800" stop-color="#626262"/><stop offset="0.6879" stop-color="#626262"/><stop offset="0.6889" stop-color="#838383"/><stop offset="0.6999" stop-color="#838383"/><stop offset="0.7009" stop-color="#8e8e8e"/><stop offset="0.7208" stop-color="#8e8e8e"/><stop offset="0.7218" stop-color="#868686"/><stop offset="0.7272" stop-color="#868686"/><stop offset="0.7282" stop-color="#888888"/><stop offset="0.7425" stop-color="#888888"/><stop offset="0.7434" stop-color="#747474"/><stop offset="0.7492" stop-color="#747474"/><stop offset="0.7502" stop-color="#383838"/><stop offset="0.7954" stop-color="#383838"/><stop offset="0.7964" stop-color="#383838"/><stop offset="0.8147" stop-color="#383838"/><stop offset="0.8156" stop-color="#5e5e5e"/><stop offset="0.8227" stop-color="#5e5e5e"/><stop offset="0.8237" stop-color="#444444"/><stop offset="0.8419" stop-color="#444444"/><stop offset="0.8429" stop-color="#4c4c4c"/><stop offset="0.8484" stop-color="#4c4c4c"/><stop offset="0.8493" stop-color="#565656"/><stop offset="0.8548" stop-color="#565656"/><stop offset="0.8557" stop-color="#535353"/><stop offset="0.8612" stop-color="#535353"/><stop offset="0.8622" stop-color="#626262"/><stop offset="0.8692" stop-color="#626262"/><stop offset="0.8702" stop-color="#4c4c4c"/><stop offset="0.8925" stop-color="#4c4c4c"/><stop offset="0.8935" stop-color="#3d3d3d"/><stop offset="0.9366" stop-color="#3d3d3d"/><stop offset="0.9376" stop-color="#474747"/><stop offset="0.9575" stop-color="#474747"/><stop offset="0.9584" stop-color="#676767"/><stop offset="0.9615" stop-color="#676767"/><stop offset="0.9625" stop-color="#4c4c4c"/><stop offset="0.9679" stop-color="#4c4c4c"/><stop offset="0.9689" stop-color="#676767"/><stop offset="0.9799" stop-color="#676767"/><stop offset="0.9809" stop-color="#474747"/><stop offset="0.9997" stop-color="#474747"/></linearGradient>
<linearGradient id="p1b2" gradientUnits="userSpaceOnUse" x1="0" y1="80" x2="0" y2="703.2"><stop offset="0.0005" stop-color="#717171"/><stop offset="0.0140" stop-color="#717171"/><stop offset="0.0149" stop-color="#6f6f6f"/><stop offset="0.0444" stop-color="#6f6f6f"/><stop offset="0.0454" stop-color="#909090"/><stop offset="0.0637" stop-color="#909090"/><stop offset="0.0647" stop-color="#7c7c7c"/><stop offset="0.0754" stop-color="#7c7c7c"/><stop offset="0.0764" stop-color="#4f4f4f"/><stop offset="0.1151" stop-color="#4f4f4f"/><stop offset="0.1160" stop-color="#454545"/><stop offset="0.1186" stop-color="#454545"/><stop offset="0.1195" stop-color="#626262"/><stop offset="0.1223" stop-color="#626262"/><stop offset="0.1232" stop-color="#454545"/><stop offset="0.1383" stop-color="#454545"/><stop offset="0.1393" stop-color="#474747"/><stop offset="0.1560" stop-color="#474747"/><stop offset="0.1569" stop-color="#747474"/><stop offset="0.1648" stop-color="#747474"/><stop offset="0.1658" stop-color="#747474"/><stop offset="0.1717" stop-color="#747474"/><stop offset="0.1727" stop-color="#5e5e5e"/><stop offset="0.1977" stop-color="#5e5e5e"/><stop offset="0.1987" stop-color="#5e5e5e"/><stop offset="0.2402" stop-color="#5e5e5e"/><stop offset="0.2412" stop-color="#626262"/><stop offset="0.2514" stop-color="#626262"/><stop offset="0.2524" stop-color="#585858"/><stop offset="0.2771" stop-color="#585858"/><stop offset="0.2781" stop-color="#454545"/><stop offset="0.2940" stop-color="#454545"/><stop offset="0.2949" stop-color="#535353"/><stop offset="0.3060" stop-color="#535353"/><stop offset="0.3070" stop-color="#a2a2a2"/><stop offset="0.3092" stop-color="#a2a2a2"/><stop offset="0.3102" stop-color="#8e8e8e"/><stop offset="0.3164" stop-color="#8e8e8e"/><stop offset="0.3174" stop-color="#a7a7a7"/><stop offset="0.3212" stop-color="#a7a7a7"/><stop offset="0.3222" stop-color="#989898"/><stop offset="0.3253" stop-color="#989898"/><stop offset="0.3262" stop-color="#8e8e8e"/><stop offset="0.3357" stop-color="#8e8e8e"/><stop offset="0.3366" stop-color="#747474"/><stop offset="0.3429" stop-color="#747474"/><stop offset="0.3439" stop-color="#888888"/><stop offset="0.3509" stop-color="#888888"/><stop offset="0.3519" stop-color="#676767"/><stop offset="0.3562" stop-color="#676767"/><stop offset="0.3572" stop-color="#303030"/><stop offset="0.3846" stop-color="#303030"/><stop offset="0.3856" stop-color="#454545"/><stop offset="0.4252" stop-color="#454545"/><stop offset="0.4262" stop-color="#5b5b5b"/><stop offset="0.4400" stop-color="#5b5b5b"/><stop offset="0.4409" stop-color="#535353"/><stop offset="0.4552" stop-color="#535353"/><stop offset="0.4562" stop-color="#5e5e5e"/><stop offset="0.4673" stop-color="#5e5e5e"/><stop offset="0.4682" stop-color="#676767"/><stop offset="0.4913" stop-color="#676767"/><stop offset="0.4923" stop-color="#676767"/><stop offset="0.5042" stop-color="#676767"/><stop offset="0.5051" stop-color="#6f6f6f"/><stop offset="0.5218" stop-color="#6f6f6f"/><stop offset="0.5228" stop-color="#747474"/><stop offset="0.5387" stop-color="#747474"/><stop offset="0.5396" stop-color="#454545"/><stop offset="0.5852" stop-color="#454545"/><stop offset="0.5862" stop-color="#404040"/><stop offset="0.6224" stop-color="#404040"/><stop offset="0.6234" stop-color="#747474"/><stop offset="0.6293" stop-color="#747474"/><stop offset="0.6303" stop-color="#4a4a4a"/><stop offset="0.6670" stop-color="#4a4a4a"/><stop offset="0.6680" stop-color="#5b5b5b"/><stop offset="0.6791" stop-color="#5b5b5b"/><stop offset="0.6800" stop-color="#626262"/><stop offset="0.6879" stop-color="#626262"/><stop offset="0.6889" stop-color="#797979"/><stop offset="0.6999" stop-color="#797979"/><stop offset="0.7009" stop-color="#989898"/><stop offset="0.7208" stop-color="#989898"/><stop offset="0.7218" stop-color="#868686"/><stop offset="0.7272" stop-color="#868686"/><stop offset="0.7282" stop-color="#888888"/><stop offset="0.7425" stop-color="#888888"/><stop offset="0.7434" stop-color="#747474"/><stop offset="0.7492" stop-color="#747474"/><stop offset="0.7502" stop-color="#383838"/><stop offset="0.7954" stop-color="#383838"/><stop offset="0.7964" stop-color="#454545"/><stop offset="0.8147" stop-color="#454545"/><stop offset="0.8156" stop-color="#676767"/><stop offset="0.8227" stop-color="#676767"/><stop offset="0.8237" stop-color="#444444"/><stop offset="0.8419" stop-color="#444444"/><stop offset="0.8429" stop-color="#4c4c4c"/><stop offset="0.8484" stop-color="#4c4c4c"/><stop offset="0.8493" stop-color="#565656"/><stop offset="0.8548" stop-color="#565656"/><stop offset="0.8557" stop-color="#535353"/><stop offset="0.8612" stop-color="#535353"/><stop offset="0.8622" stop-color="#676767"/><stop offset="0.8692" stop-color="#676767"/><stop offset="0.8702" stop-color="#4c4c4c"/><stop offset="0.8925" stop-color="#4c4c4c"/><stop offset="0.8935" stop-color="#525252"/><stop offset="0.9366" stop-color="#525252"/><stop offset="0.9376" stop-color="#474747"/><stop offset="0.9575" stop-color="#474747"/><stop offset="0.9584" stop-color="#676767"/><stop offset="0.9615" stop-color="#676767"/><stop offset="0.9625" stop-color="#4c4c4c"/><stop offset="0.9679" stop-color="#4c4c4c"/><stop offset="0.9689" stop-color="#6f6f6f"/><stop offset="0.9799" stop-color="#6f6f6f"/><stop offset="0.9809" stop-color="#474747"/><stop offset="0.9997" stop-color="#474747"/></linearGradient>
<linearGradient id="p1b3" gradientUnits="userSpaceOnUse" x1="0" y1="80" x2="0" y2="703.2"><stop offset="0.0005" stop-color="#6c6c6c"/><stop offset="0.0140" stop-color="#6c6c6c"/><stop offset="0.0149" stop-color="#797979"/><stop offset="0.0444" stop-color="#797979"/><stop offset="0.0454" stop-color="#888888"/><stop offset="0.0637" stop-color="#888888"/><stop offset="0.0647" stop-color="#7c7c7c"/><stop offset="0.0754" stop-color="#7c7c7c"/><stop offset="0.0764" stop-color="#4f4f4f"/><stop offset="0.1151" stop-color="#4f4f4f"/><stop offset="0.1160" stop-color="#454545"/><stop offset="0.1186" stop-color="#454545"/><stop offset="0.1195" stop-color="#626262"/><stop offset="0.1223" stop-color="#626262"/><stop offset="0.1232" stop-color="#454545"/><stop offset="0.1383" stop-color="#454545"/><stop offset="0.1393" stop-color="#535353"/><stop offset="0.1560" stop-color="#535353"/><stop offset="0.1569" stop-color="#797979"/><stop offset="0.1648" stop-color="#797979"/><stop offset="0.1658" stop-color="#797979"/><stop offset="0.1717" stop-color="#797979"/><stop offset="0.1727" stop-color="#676767"/><stop offset="0.1977" stop-color="#676767"/><stop offset="0.1987" stop-color="#5a5a5a"/><stop offset="0.2402" stop-color="#5a5a5a"/><stop offset="0.2412" stop-color="#5b5b5b"/><stop offset="0.2514" stop-color="#5b5b5b"/><stop offset="0.2524" stop-color="#585858"/><stop offset="0.2771" stop-color="#585858"/><stop offset="0.2781" stop-color="#454545"/><stop offset="0.2940" stop-color="#454545"/><stop offset="0.2949" stop-color="#535353"/><stop offset="0.3060" stop-color="#535353"/><stop offset="0.3070" stop-color="#989898"/><stop offset="0.3092" stop-color="#989898"/><stop offset="0.3102" stop-color="#888888"/><stop offset="0.3164" stop-color="#888888"/><stop offset="0.3174" stop-color="#9f9f9f"/><stop offset="0.3212" stop-color="#9f9f9f"/><stop offset="0.3222" stop-color="#909090"/><stop offset="0.3253" stop-color="#909090"/><stop offset="0.3262" stop-color="#8e8e8e"/><stop offset="0.3357" stop-color="#8e8e8e"/><stop offset="0.3366" stop-color="#6f6f6f"/><stop offset="0.3429" stop-color="#6f6f6f"/><stop offset="0.3439" stop-color="#818181"/><stop offset="0.3509" stop-color="#818181"/><stop offset="0.3519" stop-color="#626262"/><stop offset="0.3562" stop-color="#626262"/><stop offset="0.3572" stop-color="#303030"/><stop offset="0.3846" stop-color="#303030"/><stop offset="0.3856" stop-color="#474747"/><stop offset="0.4252" stop-color="#474747"/><stop offset="0.4262" stop-color="#626262"/><stop offset="0.4400" stop-color="#626262"/><stop offset="0.4409" stop-color="#5e5e5e"/><stop offset="0.4552" stop-color="#5e5e5e"/><stop offset="0.4562" stop-color="#676767"/><stop offset="0.4673" stop-color="#676767"/><stop offset="0.4682" stop-color="#747474"/><stop offset="0.4913" stop-color="#747474"/><stop offset="0.4923" stop-color="#676767"/><stop offset="0.5042" stop-color="#676767"/><stop offset="0.5051" stop-color="#747474"/><stop offset="0.5218" stop-color="#747474"/><stop offset="0.5228" stop-color="#6f6f6f"/><stop offset="0.5387" stop-color="#6f6f6f"/><stop offset="0.5396" stop-color="#4c4c4c"/><stop offset="0.5852" stop-color="#4c4c4c"/><stop offset="0.5862" stop-color="#404040"/><stop offset="0.6224" stop-color="#404040"/><stop offset="0.6234" stop-color="#626262"/><stop offset="0.6293" stop-color="#626262"/><stop offset="0.6303" stop-color="#4a4a4a"/><stop offset="0.6670" stop-color="#4a4a4a"/><stop offset="0.6680" stop-color="#585858"/><stop offset="0.6791" stop-color="#585858"/><stop offset="0.6800" stop-color="#626262"/><stop offset="0.6879" stop-color="#626262"/><stop offset="0.6889" stop-color="#747474"/><stop offset="0.6999" stop-color="#747474"/><stop offset="0.7009" stop-color="#909090"/><stop offset="0.7208" stop-color="#909090"/><stop offset="0.7218" stop-color="#868686"/><stop offset="0.7272" stop-color="#868686"/><stop offset="0.7282" stop-color="#797979"/><stop offset="0.7425" stop-color="#797979"/><stop offset="0.7434" stop-color="#626262"/><stop offset="0.7492" stop-color="#626262"/><stop offset="0.7502" stop-color="#383838"/><stop offset="0.7954" stop-color="#383838"/><stop offset="0.7964" stop-color="#454545"/><stop offset="0.8147" stop-color="#454545"/><stop offset="0.8156" stop-color="#585858"/><stop offset="0.8227" stop-color="#585858"/><stop offset="0.8237" stop-color="#444444"/><stop offset="0.8419" stop-color="#444444"/><stop offset="0.8429" stop-color="#4c4c4c"/><stop offset="0.8484" stop-color="#4c4c4c"/><stop offset="0.8493" stop-color="#626262"/><stop offset="0.8548" stop-color="#626262"/><stop offset="0.8557" stop-color="#535353"/><stop offset="0.8612" stop-color="#535353"/><stop offset="0.8622" stop-color="#585858"/><stop offset="0.8692" stop-color="#585858"/><stop offset="0.8702" stop-color="#4c4c4c"/><stop offset="0.8925" stop-color="#4c4c4c"/><stop offset="0.8935" stop-color="#5b5b5b"/><stop offset="0.9366" stop-color="#5b5b5b"/><stop offset="0.9376" stop-color="#474747"/><stop offset="0.9575" stop-color="#474747"/><stop offset="0.9584" stop-color="#676767"/><stop offset="0.9615" stop-color="#676767"/><stop offset="0.9625" stop-color="#4c4c4c"/><stop offset="0.9679" stop-color="#4c4c4c"/><stop offset="0.9689" stop-color="#747474"/><stop offset="0.9799" stop-color="#747474"/><stop offset="0.9809" stop-color="#4c4c4c"/><stop offset="0.9997" stop-color="#4c4c4c"/></linearGradient>
<linearGradient id="p1g" gradientUnits="userSpaceOnUse" x1="0" y1="80" x2="0" y2="703.2"><stop offset="0.0005" stop-color="#282828"/><stop offset="0.0140" stop-color="#282828"/><stop offset="0.0149" stop-color="#292929"/><stop offset="0.0444" stop-color="#292929"/><stop offset="0.0454" stop-color="#2a2a2a"/><stop offset="0.0637" stop-color="#2a2a2a"/><stop offset="0.0647" stop-color="#292929"/><stop offset="0.0754" stop-color="#292929"/><stop offset="0.0764" stop-color="#252525"/><stop offset="0.1151" stop-color="#252525"/><stop offset="0.1160" stop-color="#242424"/><stop offset="0.1186" stop-color="#242424"/><stop offset="0.1195" stop-color="#262626"/><stop offset="0.1223" stop-color="#262626"/><stop offset="0.1232" stop-color="#242424"/><stop offset="0.1383" stop-color="#242424"/><stop offset="0.1393" stop-color="#252525"/><stop offset="0.1560" stop-color="#252525"/><stop offset="0.1569" stop-color="#292929"/><stop offset="0.1648" stop-color="#292929"/><stop offset="0.1658" stop-color="#282828"/><stop offset="0.1717" stop-color="#282828"/><stop offset="0.1727" stop-color="#272727"/><stop offset="0.1977" stop-color="#272727"/><stop offset="0.1987" stop-color="#262626"/><stop offset="0.2402" stop-color="#262626"/><stop offset="0.2412" stop-color="#262626"/><stop offset="0.2514" stop-color="#262626"/><stop offset="0.2524" stop-color="#252525"/><stop offset="0.2771" stop-color="#252525"/><stop offset="0.2781" stop-color="#242424"/><stop offset="0.2940" stop-color="#242424"/><stop offset="0.2949" stop-color="#252525"/><stop offset="0.3060" stop-color="#252525"/><stop offset="0.3070" stop-color="#2c2c2c"/><stop offset="0.3092" stop-color="#2c2c2c"/><stop offset="0.3102" stop-color="#2b2b2b"/><stop offset="0.3164" stop-color="#2b2b2b"/><stop offset="0.3174" stop-color="#2d2d2d"/><stop offset="0.3212" stop-color="#2d2d2d"/><stop offset="0.3222" stop-color="#2b2b2b"/><stop offset="0.3253" stop-color="#2b2b2b"/><stop offset="0.3262" stop-color="#2b2b2b"/><stop offset="0.3357" stop-color="#2b2b2b"/><stop offset="0.3366" stop-color="#272727"/><stop offset="0.3429" stop-color="#272727"/><stop offset="0.3439" stop-color="#292929"/><stop offset="0.3509" stop-color="#292929"/><stop offset="0.3519" stop-color="#262626"/><stop offset="0.3562" stop-color="#262626"/><stop offset="0.3572" stop-color="#222222"/><stop offset="0.3846" stop-color="#222222"/><stop offset="0.3856" stop-color="#232323"/><stop offset="0.4252" stop-color="#232323"/><stop offset="0.4262" stop-color="#262626"/><stop offset="0.4400" stop-color="#262626"/><stop offset="0.4409" stop-color="#252525"/><stop offset="0.4552" stop-color="#252525"/><stop offset="0.4562" stop-color="#262626"/><stop offset="0.4673" stop-color="#262626"/><stop offset="0.4682" stop-color="#272727"/><stop offset="0.4913" stop-color="#272727"/><stop offset="0.4923" stop-color="#272727"/><stop offset="0.5042" stop-color="#272727"/><stop offset="0.5051" stop-color="#292929"/><stop offset="0.5218" stop-color="#292929"/><stop offset="0.5228" stop-color="#292929"/><stop offset="0.5387" stop-color="#292929"/><stop offset="0.5396" stop-color="#232323"/><stop offset="0.5852" stop-color="#232323"/><stop offset="0.5862" stop-color="#232323"/><stop offset="0.6224" stop-color="#232323"/><stop offset="0.6234" stop-color="#272727"/><stop offset="0.6293" stop-color="#272727"/><stop offset="0.6303" stop-color="#242424"/><stop offset="0.6670" stop-color="#242424"/><stop offset="0.6680" stop-color="#262626"/><stop offset="0.6791" stop-color="#262626"/><stop offset="0.6800" stop-color="#262626"/><stop offset="0.6879" stop-color="#262626"/><stop offset="0.6889" stop-color="#292929"/><stop offset="0.6999" stop-color="#292929"/><stop offset="0.7009" stop-color="#2b2b2b"/><stop offset="0.7208" stop-color="#2b2b2b"/><stop offset="0.7218" stop-color="#2a2a2a"/><stop offset="0.7272" stop-color="#2a2a2a"/><stop offset="0.7282" stop-color="#2a2a2a"/><stop offset="0.7425" stop-color="#2a2a2a"/><stop offset="0.7434" stop-color="#272727"/><stop offset="0.7492" stop-color="#272727"/><stop offset="0.7502" stop-color="#222222"/><stop offset="0.7954" stop-color="#222222"/><stop offset="0.7964" stop-color="#232323"/><stop offset="0.8147" stop-color="#232323"/><stop offset="0.8156" stop-color="#262626"/><stop offset="0.8227" stop-color="#262626"/><stop offset="0.8237" stop-color="#232323"/><stop offset="0.8419" stop-color="#232323"/><stop offset="0.8429" stop-color="#242424"/><stop offset="0.8484" stop-color="#242424"/><stop offset="0.8493" stop-color="#262626"/><stop offset="0.8548" stop-color="#262626"/><stop offset="0.8557" stop-color="#252525"/><stop offset="0.8612" stop-color="#252525"/><stop offset="0.8622" stop-color="#262626"/><stop offset="0.8692" stop-color="#262626"/><stop offset="0.8702" stop-color="#242424"/><stop offset="0.8925" stop-color="#242424"/><stop offset="0.8935" stop-color="#242424"/><stop offset="0.9366" stop-color="#242424"/><stop offset="0.9376" stop-color="#242424"/><stop offset="0.9575" stop-color="#242424"/><stop offset="0.9584" stop-color="#272727"/><stop offset="0.9615" stop-color="#272727"/><stop offset="0.9625" stop-color="#242424"/><stop offset="0.9679" stop-color="#242424"/><stop offset="0.9689" stop-color="#282828"/><stop offset="0.9799" stop-color="#282828"/><stop offset="0.9809" stop-color="#242424"/><stop offset="0.9997" stop-color="#242424"/></linearGradient>
<filter id="jet2" filterUnits="userSpaceOnUse" x="556.5" y="80" width="177" height="623.2" color-interpolation-filters="sRGB">
<feTurbulence type="fractalNoise" baseFrequency="0.5 0.75" numOctaves="2" seed="17" result="n0"/>
<feColorMatrix in="n0" type="matrix" values="1 0 0 0 0 1 0 0 0 0 1 0 0 0 0 0 0 0 0 1" result="n1"/>
<feComponentTransfer in="n1" result="n2"><feFuncR type="gamma" exponent="0.55"/><feFuncG type="gamma" exponent="0.55"/><feFuncB type="gamma" exponent="0.55"/></feComponentTransfer>
<feTurbulence type="fractalNoise" baseFrequency="0.012 0.42" numOctaves="2" seed="13" result="m0"/>
<feColorMatrix in="m0" type="matrix" values="1 0 0 0 0 1 0 0 0 0 1 0 0 0 0 0 0 0 0 1" result="m1"/>
<feComposite in="SourceGraphic" in2="m1" operator="arithmetic" k1="0.3" k2="0.85" k3="0" k4="0" result="sA"/>
<feComposite in="sA" in2="n2" operator="arithmetic" k1="-0.936" k2="1.63648" k3="0.72" k4="-0.4896" result="c"/>
<feComponentTransfer in="c"><feFuncR type="table" tableValues="0 0 0 0 0 0 0 0 0 0 0 0 0 0 0 0 0 0 0 0 0 0 0 0 0 0 0 0 0 0 0 0 0 0 0 0 0.0323 0.0645 0.0968 0.129 0.161 0.194 0.226 0.258 0.29 0.323 0.355 0.387 0.419 0.452 0.484 0.516 0.548 0.581 0.613 0.645 0.677 0.71 0.742 0.774 0.806 0.839 0.871 0.903 0.935 0.968 1 1 1 1 1 1 1 1 1 1 1 1 1 1 1 1 1 1 1 1 1 1 1 1 0.955 0.909 0.864 0.818 0.773 0.727 0.682 0.636 0.591 0.545 0.5"/><feFuncG type="table" tableValues="0 0 0 0 0 0 0 0 0 0 0 0 0 0.02 0.06 0.1 0.14 0.18 0.22 0.26 0.3 0.34 0.38 0.42 0.46 0.5 0.54 0.58 0.62 0.66 0.7 0.74 0.78 0.82 0.86 0.9 0.94 0.98 1 1 1 1 1 1 1 1 1 1 1 1 1 1 1 1 1 1 1 1 1 1 1 1 1 1 1 0.963 0.926 0.889 0.852 0.815 0.778 0.741 0.704 0.667 0.63 0.593 0.556 0.519 0.481 0.444 0.407 0.37 0.333 0.296 0.259 0.222 0.185 0.148 0.111 0.0741 0.037 0 0 0 0 0 0 0 0 0 0"/><feFuncB type="table" tableValues="0.5 0.545 0.591 0.636 0.682 0.727 0.773 0.818 0.864 0.909 0.955 1 1 1 1 1 1 1 1 1 1 1 1 1 1 1 1 1 1 1 1 1 1 1 1 0.968 0.935 0.903 0.871 0.839 0.806 0.774 0.742 0.71 0.677 0.645 0.613 0.581 0.548 0.516 0.484 0.452 0.419 0.387 0.355 0.323 0.29 0.258 0.226 0.194 0.161 0.129 0.0968 0.0645 0.0323 0 0 0 0 0 0 0 0 0 0 0 0 0 0 0 0 0 0 0 0 0 0 0 0 0 0 0 0 0 0 0 0 0 0 0 0"/><feFuncA type="linear" slope="0" intercept="1"/></feComponentTransfer>
</filter>
<linearGradient id="p2b0" gradientUnits="userSpaceOnUse" x1="0" y1="80" x2="0" y2="703.2"><stop offset="0.0005" stop-color="#626262"/><stop offset="0.0140" stop-color="#626262"/><stop offset="0.0149" stop-color="#747474"/><stop offset="0.0444" stop-color="#747474"/><stop offset="0.0454" stop-color="#676767"/><stop offset="0.0637" stop-color="#676767"/><stop offset="0.0647" stop-color="#676767"/><stop offset="0.0754" stop-color="#676767"/><stop offset="0.0764" stop-color="#4c4c4c"/><stop offset="0.1151" stop-color="#4c4c4c"/><stop offset="0.1160" stop-color="#454545"/><stop offset="0.1186" stop-color="#454545"/><stop offset="0.1195" stop-color="#5e5e5e"/><stop offset="0.1223" stop-color="#5e5e5e"/><stop offset="0.1232" stop-color="#454545"/><stop offset="0.1383" stop-color="#454545"/><stop offset="0.1393" stop-color="#4c4c4c"/><stop offset="0.1560" stop-color="#4c4c4c"/><stop offset="0.1569" stop-color="#747474"/><stop offset="0.1648" stop-color="#747474"/><stop offset="0.1658" stop-color="#747474"/><stop offset="0.1717" stop-color="#747474"/><stop offset="0.1727" stop-color="#5e5e5e"/><stop offset="0.1977" stop-color="#5e5e5e"/><stop offset="0.1987" stop-color="#5e5e5e"/><stop offset="0.2402" stop-color="#5e5e5e"/><stop offset="0.2412" stop-color="#5e5e5e"/><stop offset="0.2514" stop-color="#5e5e5e"/><stop offset="0.2524" stop-color="#535353"/><stop offset="0.2771" stop-color="#535353"/><stop offset="0.2781" stop-color="#3d3d3d"/><stop offset="0.2940" stop-color="#3d3d3d"/><stop offset="0.2949" stop-color="#585858"/><stop offset="0.3060" stop-color="#585858"/><stop offset="0.3070" stop-color="#6a6a6a"/><stop offset="0.3092" stop-color="#6a6a6a"/><stop offset="0.3102" stop-color="#888888"/><stop offset="0.3164" stop-color="#888888"/><stop offset="0.3174" stop-color="#989898"/><stop offset="0.3212" stop-color="#989898"/><stop offset="0.3222" stop-color="#888888"/><stop offset="0.3253" stop-color="#888888"/><stop offset="0.3262" stop-color="#8e8e8e"/><stop offset="0.3357" stop-color="#8e8e8e"/><stop offset="0.3366" stop-color="#626262"/><stop offset="0.3429" stop-color="#626262"/><stop offset="0.3439" stop-color="#6c6c6c"/><stop offset="0.3509" stop-color="#6c6c6c"/><stop offset="0.3519" stop-color="#5e5e5e"/><stop offset="0.3562" stop-color="#5e5e5e"/><stop offset="0.3572" stop-color="#2b2b2b"/><stop offset="0.3846" stop-color="#2b2b2b"/><stop offset="0.3856" stop-color="#404040"/><stop offset="0.4252" stop-color="#404040"/><stop offset="0.4262" stop-color="#676767"/><stop offset="0.4400" stop-color="#676767"/><stop offset="0.4409" stop-color="#5e5e5e"/><stop offset="0.4552" stop-color="#5e5e5e"/><stop offset="0.4562" stop-color="#535353"/><stop offset="0.4673" stop-color="#535353"/><stop offset="0.4682" stop-color="#5e5e5e"/><stop offset="0.4913" stop-color="#5e5e5e"/><stop offset="0.4923" stop-color="#5b5b5b"/><stop offset="0.5042" stop-color="#5b5b5b"/><stop offset="0.5051" stop-color="#818181"/><stop offset="0.5218" stop-color="#818181"/><stop offset="0.5228" stop-color="#797979"/><stop offset="0.5387" stop-color="#797979"/><stop offset="0.5396" stop-color="#383838"/><stop offset="0.5852" stop-color="#383838"/><stop offset="0.5862" stop-color="#424242"/><stop offset="0.6224" stop-color="#424242"/><stop offset="0.6234" stop-color="#4c4c4c"/><stop offset="0.6293" stop-color="#4c4c4c"/><stop offset="0.6303" stop-color="#424242"/><stop offset="0.6670" stop-color="#424242"/><stop offset="0.6680" stop-color="#676767"/><stop offset="0.6791" stop-color="#676767"/><stop offset="0.6800" stop-color="#747474"/><stop offset="0.6879" stop-color="#747474"/><stop offset="0.6889" stop-color="#747474"/><stop offset="0.6999" stop-color="#747474"/><stop offset="0.7009" stop-color="#818181"/><stop offset="0.7208" stop-color="#818181"/><stop offset="0.7218" stop-color="#818181"/><stop offset="0.7272" stop-color="#818181"/><stop offset="0.7282" stop-color="#676767"/><stop offset="0.7425" stop-color="#676767"/><stop offset="0.7434" stop-color="#676767"/><stop offset="0.7492" stop-color="#676767"/><stop offset="0.7502" stop-color="#333333"/><stop offset="0.7954" stop-color="#333333"/><stop offset="0.7964" stop-color="#333333"/><stop offset="0.8147" stop-color="#333333"/><stop offset="0.8156" stop-color="#6f6f6f"/><stop offset="0.8227" stop-color="#6f6f6f"/><stop offset="0.8237" stop-color="#404040"/><stop offset="0.8419" stop-color="#404040"/><stop offset="0.8429" stop-color="#454545"/><stop offset="0.8484" stop-color="#454545"/><stop offset="0.8493" stop-color="#585858"/><stop offset="0.8548" stop-color="#585858"/><stop offset="0.8557" stop-color="#454545"/><stop offset="0.8612" stop-color="#454545"/><stop offset="0.8622" stop-color="#626262"/><stop offset="0.8692" stop-color="#626262"/><stop offset="0.8702" stop-color="#4c4c4c"/><stop offset="0.8925" stop-color="#4c4c4c"/><stop offset="0.8935" stop-color="#474747"/><stop offset="0.9366" stop-color="#474747"/><stop offset="0.9376" stop-color="#474747"/><stop offset="0.9575" stop-color="#474747"/><stop offset="0.9584" stop-color="#626262"/><stop offset="0.9615" stop-color="#626262"/><stop offset="0.9625" stop-color="#4c4c4c"/><stop offset="0.9679" stop-color="#4c4c4c"/><stop offset="0.9689" stop-color="#626262"/><stop offset="0.9799" stop-color="#626262"/><stop offset="0.9809" stop-color="#454545"/><stop offset="0.9997" stop-color="#454545"/></linearGradient>
<linearGradient id="p2b1" gradientUnits="userSpaceOnUse" x1="0" y1="80" x2="0" y2="703.2"><stop offset="0.0005" stop-color="#585858"/><stop offset="0.0140" stop-color="#585858"/><stop offset="0.0149" stop-color="#626262"/><stop offset="0.0444" stop-color="#626262"/><stop offset="0.0454" stop-color="#888888"/><stop offset="0.0637" stop-color="#888888"/><stop offset="0.0647" stop-color="#676767"/><stop offset="0.0754" stop-color="#676767"/><stop offset="0.0764" stop-color="#4c4c4c"/><stop offset="0.1151" stop-color="#4c4c4c"/><stop offset="0.1160" stop-color="#454545"/><stop offset="0.1186" stop-color="#454545"/><stop offset="0.1195" stop-color="#5e5e5e"/><stop offset="0.1223" stop-color="#5e5e5e"/><stop offset="0.1232" stop-color="#454545"/><stop offset="0.1383" stop-color="#454545"/><stop offset="0.1393" stop-color="#454545"/><stop offset="0.1560" stop-color="#454545"/><stop offset="0.1569" stop-color="#676767"/><stop offset="0.1648" stop-color="#676767"/><stop offset="0.1658" stop-color="#676767"/><stop offset="0.1717" stop-color="#676767"/><stop offset="0.1727" stop-color="#5e5e5e"/><stop offset="0.1977" stop-color="#5e5e5e"/><stop offset="0.1987" stop-color="#5a5a5a"/><stop offset="0.2402" stop-color="#5a5a5a"/><stop offset="0.2412" stop-color="#565656"/><stop offset="0.2514" stop-color="#565656"/><stop offset="0.2524" stop-color="#535353"/><stop offset="0.2771" stop-color="#535353"/><stop offset="0.2781" stop-color="#3d3d3d"/><stop offset="0.2940" stop-color="#3d3d3d"/><stop offset="0.2949" stop-color="#585858"/><stop offset="0.3060" stop-color="#585858"/><stop offset="0.3070" stop-color="#6a6a6a"/><stop offset="0.3092" stop-color="#6a6a6a"/><stop offset="0.3102" stop-color="#818181"/><stop offset="0.3164" stop-color="#818181"/><stop offset="0.3174" stop-color="#939393"/><stop offset="0.3212" stop-color="#939393"/><stop offset="0.3222" stop-color="#818181"/><stop offset="0.3253" stop-color="#818181"/><stop offset="0.3262" stop-color="#838383"/><stop offset="0.3357" stop-color="#838383"/><stop offset="0.3366" stop-color="#5e5e5e"/><stop offset="0.3429" stop-color="#5e5e5e"/><stop offset="0.3439" stop-color="#626262"/><stop offset="0.3509" stop-color="#626262"/><stop offset="0.3519" stop-color="#5b5b5b"/><stop offset="0.3562" stop-color="#5b5b5b"/><stop offset="0.3572" stop-color="#2b2b2b"/><stop offset="0.3846" stop-color="#2b2b2b"/><stop offset="0.3856" stop-color="#383838"/><stop offset="0.4252" stop-color="#383838"/><stop offset="0.4262" stop-color="#5e5e5e"/><stop offset="0.4400" stop-color="#5e5e5e"/><stop offset="0.4409" stop-color="#535353"/><stop offset="0.4552" stop-color="#535353"/><stop offset="0.4562" stop-color="#4c4c4c"/><stop offset="0.4673" stop-color="#4c4c4c"/><stop offset="0.4682" stop-color="#535353"/><stop offset="0.4913" stop-color="#535353"/><stop offset="0.4923" stop-color="#626262"/><stop offset="0.5042" stop-color="#626262"/><stop offset="0.5051" stop-color="#818181"/><stop offset="0.5218" stop-color="#818181"/><stop offset="0.5228" stop-color="#747474"/><stop offset="0.5387" stop-color="#747474"/><stop offset="0.5396" stop-color="#383838"/><stop offset="0.5852" stop-color="#383838"/><stop offset="0.5862" stop-color="#3d3d3d"/><stop offset="0.6224" stop-color="#3d3d3d"/><stop offset="0.6234" stop-color="#4c4c4c"/><stop offset="0.6293" stop-color="#4c4c4c"/><stop offset="0.6303" stop-color="#424242"/><stop offset="0.6670" stop-color="#424242"/><stop offset="0.6680" stop-color="#676767"/><stop offset="0.6791" stop-color="#676767"/><stop offset="0.6800" stop-color="#676767"/><stop offset="0.6879" stop-color="#676767"/><stop offset="0.6889" stop-color="#676767"/><stop offset="0.6999" stop-color="#676767"/><stop offset="0.7009" stop-color="#747474"/><stop offset="0.7208" stop-color="#747474"/><stop offset="0.7218" stop-color="#818181"/><stop offset="0.7272" stop-color="#818181"/><stop offset="0.7282" stop-color="#6f6f6f"/><stop offset="0.7425" stop-color="#6f6f6f"/><stop offset="0.7434" stop-color="#6f6f6f"/><stop offset="0.7492" stop-color="#6f6f6f"/><stop offset="0.7502" stop-color="#333333"/><stop offset="0.7954" stop-color="#333333"/><stop offset="0.7964" stop-color="#333333"/><stop offset="0.8147" stop-color="#333333"/><stop offset="0.8156" stop-color="#4c4c4c"/><stop offset="0.8227" stop-color="#4c4c4c"/><stop offset="0.8237" stop-color="#404040"/><stop offset="0.8419" stop-color="#404040"/><stop offset="0.8429" stop-color="#535353"/><stop offset="0.8484" stop-color="#535353"/><stop offset="0.8493" stop-color="#676767"/><stop offset="0.8548" stop-color="#676767"/><stop offset="0.8557" stop-color="#454545"/><stop offset="0.8612" stop-color="#454545"/><stop offset="0.8622" stop-color="#626262"/><stop offset="0.8692" stop-color="#626262"/><stop offset="0.8702" stop-color="#4c4c4c"/><stop offset="0.8925" stop-color="#4c4c4c"/><stop offset="0.8935" stop-color="#454545"/><stop offset="0.9366" stop-color="#454545"/><stop offset="0.9376" stop-color="#474747"/><stop offset="0.9575" stop-color="#474747"/><stop offset="0.9584" stop-color="#626262"/><stop offset="0.9615" stop-color="#626262"/><stop offset="0.9625" stop-color="#4c4c4c"/><stop offset="0.9679" stop-color="#4c4c4c"/><stop offset="0.9689" stop-color="#5e5e5e"/><stop offset="0.9799" stop-color="#5e5e5e"/><stop offset="0.9809" stop-color="#454545"/><stop offset="0.9997" stop-color="#454545"/></linearGradient>
<linearGradient id="p2b2" gradientUnits="userSpaceOnUse" x1="0" y1="80" x2="0" y2="703.2"><stop offset="0.0005" stop-color="#5b5b5b"/><stop offset="0.0140" stop-color="#5b5b5b"/><stop offset="0.0149" stop-color="#676767"/><stop offset="0.0444" stop-color="#676767"/><stop offset="0.0454" stop-color="#8e8e8e"/><stop offset="0.0637" stop-color="#8e8e8e"/><stop offset="0.0647" stop-color="#676767"/><stop offset="0.0754" stop-color="#676767"/><stop offset="0.0764" stop-color="#4c4c4c"/><stop offset="0.1151" stop-color="#4c4c4c"/><stop offset="0.1160" stop-color="#454545"/><stop offset="0.1186" stop-color="#454545"/><stop offset="0.1195" stop-color="#5e5e5e"/><stop offset="0.1223" stop-color="#5e5e5e"/><stop offset="0.1232" stop-color="#454545"/><stop offset="0.1383" stop-color="#454545"/><stop offset="0.1393" stop-color="#454545"/><stop offset="0.1560" stop-color="#454545"/><stop offset="0.1569" stop-color="#747474"/><stop offset="0.1648" stop-color="#747474"/><stop offset="0.1658" stop-color="#747474"/><stop offset="0.1717" stop-color="#747474"/><stop offset="0.1727" stop-color="#585858"/><stop offset="0.1977" stop-color="#585858"/><stop offset="0.1987" stop-color="#565656"/><stop offset="0.2402" stop-color="#565656"/><stop offset="0.2412" stop-color="#585858"/><stop offset="0.2514" stop-color="#585858"/><stop offset="0.2524" stop-color="#585858"/><stop offset="0.2771" stop-color="#585858"/><stop offset="0.2781" stop-color="#3d3d3d"/><stop offset="0.2940" stop-color="#3d3d3d"/><stop offset="0.2949" stop-color="#585858"/><stop offset="0.3060" stop-color="#585858"/><stop offset="0.3070" stop-color="#6a6a6a"/><stop offset="0.3092" stop-color="#6a6a6a"/><stop offset="0.3102" stop-color="#888888"/><stop offset="0.3164" stop-color="#888888"/><stop offset="0.3174" stop-color="#989898"/><stop offset="0.3212" stop-color="#989898"/><stop offset="0.3222" stop-color="#888888"/><stop offset="0.3253" stop-color="#888888"/><stop offset="0.3262" stop-color="#888888"/><stop offset="0.3357" stop-color="#888888"/><stop offset="0.3366" stop-color="#676767"/><stop offset="0.3429" stop-color="#676767"/><stop offset="0.3439" stop-color="#7e7e7e"/><stop offset="0.3509" stop-color="#7e7e7e"/><stop offset="0.3519" stop-color="#626262"/><stop offset="0.3562" stop-color="#626262"/><stop offset="0.3572" stop-color="#2b2b2b"/><stop offset="0.3846" stop-color="#2b2b2b"/><stop offset="0.3856" stop-color="#404040"/><stop offset="0.4252" stop-color="#404040"/><stop offset="0.4262" stop-color="#5e5e5e"/><stop offset="0.4400" stop-color="#5e5e5e"/><stop offset="0.4409" stop-color="#4c4c4c"/><stop offset="0.4552" stop-color="#4c4c4c"/><stop offset="0.4562" stop-color="#585858"/><stop offset="0.4673" stop-color="#585858"/><stop offset="0.4682" stop-color="#676767"/><stop offset="0.4913" stop-color="#676767"/><stop offset="0.4923" stop-color="#5e5e5e"/><stop offset="0.5042" stop-color="#5e5e5e"/><stop offset="0.5051" stop-color="#676767"/><stop offset="0.5218" stop-color="#676767"/><stop offset="0.5228" stop-color="#585858"/><stop offset="0.5387" stop-color="#585858"/><stop offset="0.5396" stop-color="#383838"/><stop offset="0.5852" stop-color="#383838"/><stop offset="0.5862" stop-color="#3d3d3d"/><stop offset="0.6224" stop-color="#3d3d3d"/><stop offset="0.6234" stop-color="#4c4c4c"/><stop offset="0.6293" stop-color="#4c4c4c"/><stop offset="0.6303" stop-color="#424242"/><stop offset="0.6670" stop-color="#424242"/><stop offset="0.6680" stop-color="#626262"/><stop offset="0.6791" stop-color="#626262"/><stop offset="0.6800" stop-color="#747474"/><stop offset="0.6879" stop-color="#747474"/><stop offset="0.6889" stop-color="#747474"/><stop offset="0.6999" stop-color="#747474"/><stop offset="0.7009" stop-color="#939393"/><stop offset="0.7208" stop-color="#939393"/><stop offset="0.7218" stop-color="#818181"/><stop offset="0.7272" stop-color="#818181"/><stop offset="0.7282" stop-color="#676767"/><stop offset="0.7425" stop-color="#676767"/><stop offset="0.7434" stop-color="#676767"/><stop offset="0.7492" stop-color="#676767"/><stop offset="0.7502" stop-color="#333333"/><stop offset="0.7954" stop-color="#333333"/><stop offset="0.7964" stop-color="#404040"/><stop offset="0.8147" stop-color="#404040"/><stop offset="0.8156" stop-color="#535353"/><stop offset="0.8227" stop-color="#535353"/><stop offset="0.8237" stop-color="#404040"/><stop offset="0.8419" stop-color="#404040"/><stop offset="0.8429" stop-color="#5e5e5e"/><stop offset="0.8484" stop-color="#5e5e5e"/><stop offset="0.8493" stop-color="#747474"/><stop offset="0.8548" stop-color="#747474"/><stop offset="0.8557" stop-color="#454545"/><stop offset="0.8612" stop-color="#454545"/><stop offset="0.8622" stop-color="#626262"/><stop offset="0.8692" stop-color="#626262"/><stop offset="0.8702" stop-color="#4c4c4c"/><stop offset="0.8925" stop-color="#4c4c4c"/><stop offset="0.8935" stop-color="#4c4c4c"/><stop offset="0.9366" stop-color="#4c4c4c"/><stop offset="0.9376" stop-color="#474747"/><stop offset="0.9575" stop-color="#474747"/><stop offset="0.9584" stop-color="#626262"/><stop offset="0.9615" stop-color="#626262"/><stop offset="0.9625" stop-color="#4c4c4c"/><stop offset="0.9679" stop-color="#4c4c4c"/><stop offset="0.9689" stop-color="#797979"/><stop offset="0.9799" stop-color="#797979"/><stop offset="0.9809" stop-color="#454545"/><stop offset="0.9997" stop-color="#454545"/></linearGradient>
<linearGradient id="p2b3" gradientUnits="userSpaceOnUse" x1="0" y1="80" x2="0" y2="703.2"><stop offset="0.0005" stop-color="#676767"/><stop offset="0.0140" stop-color="#676767"/><stop offset="0.0149" stop-color="#747474"/><stop offset="0.0444" stop-color="#747474"/><stop offset="0.0454" stop-color="#797979"/><stop offset="0.0637" stop-color="#797979"/><stop offset="0.0647" stop-color="#676767"/><stop offset="0.0754" stop-color="#676767"/><stop offset="0.0764" stop-color="#4c4c4c"/><stop offset="0.1151" stop-color="#4c4c4c"/><stop offset="0.1160" stop-color="#454545"/><stop offset="0.1186" stop-color="#454545"/><stop offset="0.1195" stop-color="#5e5e5e"/><stop offset="0.1223" stop-color="#5e5e5e"/><stop offset="0.1232" stop-color="#454545"/><stop offset="0.1383" stop-color="#454545"/><stop offset="0.1393" stop-color="#585858"/><stop offset="0.1560" stop-color="#585858"/><stop offset="0.1569" stop-color="#747474"/><stop offset="0.1648" stop-color="#747474"/><stop offset="0.1658" stop-color="#747474"/><stop offset="0.1717" stop-color="#747474"/><stop offset="0.1727" stop-color="#5b5b5b"/><stop offset="0.1977" stop-color="#5b5b5b"/><stop offset="0.1987" stop-color="#585858"/><stop offset="0.2402" stop-color="#585858"/><stop offset="0.2412" stop-color="#585858"/><stop offset="0.2514" stop-color="#585858"/><stop offset="0.2524" stop-color="#535353"/><stop offset="0.2771" stop-color="#535353"/><stop offset="0.2781" stop-color="#3d3d3d"/><stop offset="0.2940" stop-color="#3d3d3d"/><stop offset="0.2949" stop-color="#585858"/><stop offset="0.3060" stop-color="#585858"/><stop offset="0.3070" stop-color="#6a6a6a"/><stop offset="0.3092" stop-color="#6a6a6a"/><stop offset="0.3102" stop-color="#838383"/><stop offset="0.3164" stop-color="#838383"/><stop offset="0.3174" stop-color="#8e8e8e"/><stop offset="0.3212" stop-color="#8e8e8e"/><stop offset="0.3222" stop-color="#818181"/><stop offset="0.3253" stop-color="#818181"/><stop offset="0.3262" stop-color="#868686"/><stop offset="0.3357" stop-color="#868686"/><stop offset="0.3366" stop-color="#676767"/><stop offset="0.3429" stop-color="#676767"/><stop offset="0.3439" stop-color="#7e7e7e"/><stop offset="0.3509" stop-color="#7e7e7e"/><stop offset="0.3519" stop-color="#626262"/><stop offset="0.3562" stop-color="#626262"/><stop offset="0.3572" stop-color="#2b2b2b"/><stop offset="0.3846" stop-color="#2b2b2b"/><stop offset="0.3856" stop-color="#3d3d3d"/><stop offset="0.4252" stop-color="#3d3d3d"/><stop offset="0.4262" stop-color="#626262"/><stop offset="0.4400" stop-color="#626262"/><stop offset="0.4409" stop-color="#585858"/><stop offset="0.4552" stop-color="#585858"/><stop offset="0.4562" stop-color="#626262"/><stop offset="0.4673" stop-color="#626262"/><stop offset="0.4682" stop-color="#6f6f6f"/><stop offset="0.4913" stop-color="#6f6f6f"/><stop offset="0.4923" stop-color="#5b5b5b"/><stop offset="0.5042" stop-color="#5b5b5b"/><stop offset="0.5051" stop-color="#5e5e5e"/><stop offset="0.5218" stop-color="#5e5e5e"/><stop offset="0.5228" stop-color="#474747"/><stop offset="0.5387" stop-color="#474747"/><stop offset="0.5396" stop-color="#424242"/><stop offset="0.5852" stop-color="#424242"/><stop offset="0.5862" stop-color="#3d3d3d"/><stop offset="0.6224" stop-color="#3d3d3d"/><stop offset="0.6234" stop-color="#4c4c4c"/><stop offset="0.6293" stop-color="#4c4c4c"/><stop offset="0.6303" stop-color="#424242"/><stop offset="0.6670" stop-color="#424242"/><stop offset="0.6680" stop-color="#585858"/><stop offset="0.6791" stop-color="#585858"/><stop offset="0.6800" stop-color="#676767"/><stop offset="0.6879" stop-color="#676767"/><stop offset="0.6889" stop-color="#676767"/><stop offset="0.6999" stop-color="#676767"/><stop offset="0.7009" stop-color="#8e8e8e"/><stop offset="0.7208" stop-color="#8e8e8e"/><stop offset="0.7218" stop-color="#818181"/><stop offset="0.7272" stop-color="#818181"/><stop offset="0.7282" stop-color="#626262"/><stop offset="0.7425" stop-color="#626262"/><stop offset="0.7434" stop-color="#626262"/><stop offset="0.7492" stop-color="#626262"/><stop offset="0.7502" stop-color="#333333"/><stop offset="0.7954" stop-color="#333333"/><stop offset="0.7964" stop-color="#383838"/><stop offset="0.8147" stop-color="#383838"/><stop offset="0.8156" stop-color="#4c4c4c"/><stop offset="0.8227" stop-color="#4c4c4c"/><stop offset="0.8237" stop-color="#404040"/><stop offset="0.8419" stop-color="#404040"/><stop offset="0.8429" stop-color="#585858"/><stop offset="0.8484" stop-color="#585858"/><stop offset="0.8493" stop-color="#6a6a6a"/><stop offset="0.8548" stop-color="#6a6a6a"/><stop offset="0.8557" stop-color="#454545"/><stop offset="0.8612" stop-color="#454545"/><stop offset="0.8622" stop-color="#535353"/><stop offset="0.8692" stop-color="#535353"/><stop offset="0.8702" stop-color="#4c4c4c"/><stop offset="0.8925" stop-color="#4c4c4c"/><stop offset="0.8935" stop-color="#585858"/><stop offset="0.9366" stop-color="#585858"/><stop offset="0.9376" stop-color="#474747"/><stop offset="0.9575" stop-color="#474747"/><stop offset="0.9584" stop-color="#626262"/><stop offset="0.9615" stop-color="#626262"/><stop offset="0.9625" stop-color="#4c4c4c"/><stop offset="0.9679" stop-color="#4c4c4c"/><stop offset="0.9689" stop-color="#747474"/><stop offset="0.9799" stop-color="#747474"/><stop offset="0.9809" stop-color="#535353"/><stop offset="0.9997" stop-color="#535353"/></linearGradient>
<linearGradient id="p2g" gradientUnits="userSpaceOnUse" x1="0" y1="80" x2="0" y2="703.2"><stop offset="0.0005" stop-color="#262626"/><stop offset="0.0140" stop-color="#262626"/><stop offset="0.0149" stop-color="#282828"/><stop offset="0.0444" stop-color="#282828"/><stop offset="0.0454" stop-color="#292929"/><stop offset="0.0637" stop-color="#292929"/><stop offset="0.0647" stop-color="#272727"/><stop offset="0.0754" stop-color="#272727"/><stop offset="0.0764" stop-color="#242424"/><stop offset="0.1151" stop-color="#242424"/><stop offset="0.1160" stop-color="#242424"/><stop offset="0.1186" stop-color="#242424"/><stop offset="0.1195" stop-color="#262626"/><stop offset="0.1223" stop-color="#262626"/><stop offset="0.1232" stop-color="#242424"/><stop offset="0.1383" stop-color="#242424"/><stop offset="0.1393" stop-color="#242424"/><stop offset="0.1560" stop-color="#242424"/><stop offset="0.1569" stop-color="#282828"/><stop offset="0.1648" stop-color="#282828"/><stop offset="0.1658" stop-color="#282828"/><stop offset="0.1717" stop-color="#282828"/><stop offset="0.1727" stop-color="#262626"/><stop offset="0.1977" stop-color="#262626"/><stop offset="0.1987" stop-color="#262626"/><stop offset="0.2402" stop-color="#262626"/><stop offset="0.2412" stop-color="#262626"/><stop offset="0.2514" stop-color="#262626"/><stop offset="0.2524" stop-color="#252525"/><stop offset="0.2771" stop-color="#252525"/><stop offset="0.2781" stop-color="#232323"/><stop offset="0.2940" stop-color="#232323"/><stop offset="0.2949" stop-color="#252525"/><stop offset="0.3060" stop-color="#252525"/><stop offset="0.3070" stop-color="#272727"/><stop offset="0.3092" stop-color="#272727"/><stop offset="0.3102" stop-color="#2a2a2a"/><stop offset="0.3164" stop-color="#2a2a2a"/><stop offset="0.3174" stop-color="#2b2b2b"/><stop offset="0.3212" stop-color="#2b2b2b"/><stop offset="0.3222" stop-color="#2a2a2a"/><stop offset="0.3253" stop-color="#2a2a2a"/><stop offset="0.3262" stop-color="#2a2a2a"/><stop offset="0.3357" stop-color="#2a2a2a"/><stop offset="0.3366" stop-color="#272727"/><stop offset="0.3429" stop-color="#272727"/><stop offset="0.3439" stop-color="#282828"/><stop offset="0.3509" stop-color="#282828"/><stop offset="0.3519" stop-color="#262626"/><stop offset="0.3562" stop-color="#262626"/><stop offset="0.3572" stop-color="#212121"/><stop offset="0.3846" stop-color="#212121"/><stop offset="0.3856" stop-color="#232323"/><stop offset="0.4252" stop-color="#232323"/><stop offset="0.4262" stop-color="#262626"/><stop offset="0.4400" stop-color="#262626"/><stop offset="0.4409" stop-color="#252525"/><stop offset="0.4552" stop-color="#252525"/><stop offset="0.4562" stop-color="#252525"/><stop offset="0.4673" stop-color="#252525"/><stop offset="0.4682" stop-color="#262626"/><stop offset="0.4913" stop-color="#262626"/><stop offset="0.4923" stop-color="#262626"/><stop offset="0.5042" stop-color="#262626"/><stop offset="0.5051" stop-color="#282828"/><stop offset="0.5218" stop-color="#282828"/><stop offset="0.5228" stop-color="#272727"/><stop offset="0.5387" stop-color="#272727"/><stop offset="0.5396" stop-color="#232323"/><stop offset="0.5852" stop-color="#232323"/><stop offset="0.5862" stop-color="#232323"/><stop offset="0.6224" stop-color="#232323"/><stop offset="0.6234" stop-color="#242424"/><stop offset="0.6293" stop-color="#242424"/><stop offset="0.6303" stop-color="#232323"/><stop offset="0.6670" stop-color="#232323"/><stop offset="0.6680" stop-color="#262626"/><stop offset="0.6791" stop-color="#262626"/><stop offset="0.6800" stop-color="#282828"/><stop offset="0.6879" stop-color="#282828"/><stop offset="0.6889" stop-color="#282828"/><stop offset="0.6999" stop-color="#282828"/><stop offset="0.7009" stop-color="#2a2a2a"/><stop offset="0.7208" stop-color="#2a2a2a"/><stop offset="0.7218" stop-color="#2a2a2a"/><stop offset="0.7272" stop-color="#2a2a2a"/><stop offset="0.7282" stop-color="#272727"/><stop offset="0.7425" stop-color="#272727"/><stop offset="0.7434" stop-color="#272727"/><stop offset="0.7492" stop-color="#272727"/><stop offset="0.7502" stop-color="#222222"/><stop offset="0.7954" stop-color="#222222"/><stop offset="0.7964" stop-color="#222222"/><stop offset="0.8147" stop-color="#222222"/><stop offset="0.8156" stop-color="#252525"/><stop offset="0.8227" stop-color="#252525"/><stop offset="0.8237" stop-color="#232323"/><stop offset="0.8419" stop-color="#232323"/><stop offset="0.8429" stop-color="#252525"/><stop offset="0.8484" stop-color="#252525"/><stop offset="0.8493" stop-color="#272727"/><stop offset="0.8548" stop-color="#272727"/><stop offset="0.8557" stop-color="#242424"/><stop offset="0.8612" stop-color="#242424"/><stop offset="0.8622" stop-color="#262626"/><stop offset="0.8692" stop-color="#262626"/><stop offset="0.8702" stop-color="#242424"/><stop offset="0.8925" stop-color="#242424"/><stop offset="0.8935" stop-color="#242424"/><stop offset="0.9366" stop-color="#242424"/><stop offset="0.9376" stop-color="#242424"/><stop offset="0.9575" stop-color="#242424"/><stop offset="0.9584" stop-color="#262626"/><stop offset="0.9615" stop-color="#262626"/><stop offset="0.9625" stop-color="#242424"/><stop offset="0.9679" stop-color="#242424"/><stop offset="0.9689" stop-color="#272727"/><stop offset="0.9799" stop-color="#272727"/><stop offset="0.9809" stop-color="#242424"/><stop offset="0.9997" stop-color="#242424"/></linearGradient>
<filter id="jet3" filterUnits="userSpaceOnUse" x="768.5" y="80" width="177" height="623.2" color-interpolation-filters="sRGB">
<feTurbulence type="fractalNoise" baseFrequency="0.5 0.75" numOctaves="2" seed="24" result="n0"/>
<feColorMatrix in="n0" type="matrix" values="1 0 0 0 0 1 0 0 0 0 1 0 0 0 0 0 0 0 0 1" result="n1"/>
<feComponentTransfer in="n1" result="n2"><feFuncR type="gamma" exponent="0.55"/><feFuncG type="gamma" exponent="0.55"/><feFuncB type="gamma" exponent="0.55"/></feComponentTransfer>
<feTurbulence type="fractalNoise" baseFrequency="0.012 0.42" numOctaves="2" seed="14" result="m0"/>
<feColorMatrix in="m0" type="matrix" values="1 0 0 0 0 1 0 0 0 0 1 0 0 0 0 0 0 0 0 1" result="m1"/>
<feComposite in="SourceGraphic" in2="m1" operator="arithmetic" k1="0.3" k2="0.85" k3="0" k4="0" result="sA"/>
<feComposite in="sA" in2="n2" operator="arithmetic" k1="-0.936" k2="1.63648" k3="0.72" k4="-0.4896" result="c"/>
<feComponentTransfer in="c"><feFuncR type="table" tableValues="0 0 0 0 0 0 0 0 0 0 0 0 0 0 0 0 0 0 0 0 0 0 0 0 0 0 0 0 0 0 0 0 0 0 0 0 0.0323 0.0645 0.0968 0.129 0.161 0.194 0.226 0.258 0.29 0.323 0.355 0.387 0.419 0.452 0.484 0.516 0.548 0.581 0.613 0.645 0.677 0.71 0.742 0.774 0.806 0.839 0.871 0.903 0.935 0.968 1 1 1 1 1 1 1 1 1 1 1 1 1 1 1 1 1 1 1 1 1 1 1 1 0.955 0.909 0.864 0.818 0.773 0.727 0.682 0.636 0.591 0.545 0.5"/><feFuncG type="table" tableValues="0 0 0 0 0 0 0 0 0 0 0 0 0 0.02 0.06 0.1 0.14 0.18 0.22 0.26 0.3 0.34 0.38 0.42 0.46 0.5 0.54 0.58 0.62 0.66 0.7 0.74 0.78 0.82 0.86 0.9 0.94 0.98 1 1 1 1 1 1 1 1 1 1 1 1 1 1 1 1 1 1 1 1 1 1 1 1 1 1 1 0.963 0.926 0.889 0.852 0.815 0.778 0.741 0.704 0.667 0.63 0.593 0.556 0.519 0.481 0.444 0.407 0.37 0.333 0.296 0.259 0.222 0.185 0.148 0.111 0.0741 0.037 0 0 0 0 0 0 0 0 0 0"/><feFuncB type="table" tableValues="0.5 0.545 0.591 0.636 0.682 0.727 0.773 0.818 0.864 0.909 0.955 1 1 1 1 1 1 1 1 1 1 1 1 1 1 1 1 1 1 1 1 1 1 1 1 0.968 0.935 0.903 0.871 0.839 0.806 0.774 0.742 0.71 0.677 0.645 0.613 0.581 0.548 0.516 0.484 0.452 0.419 0.387 0.355 0.323 0.29 0.258 0.226 0.194 0.161 0.129 0.0968 0.0645 0.0323 0 0 0 0 0 0 0 0 0 0 0 0 0 0 0 0 0 0 0 0 0 0 0 0 0 0 0 0 0 0 0 0 0 0 0 0"/><feFuncA type="linear" slope="0" intercept="1"/></feComponentTransfer>
</filter>
<linearGradient id="p3b0" gradientUnits="userSpaceOnUse" x1="0" y1="80" x2="0" y2="703.2"><stop offset="0.0005" stop-color="#747474"/><stop offset="0.0140" stop-color="#747474"/><stop offset="0.0149" stop-color="#797979"/><stop offset="0.0444" stop-color="#797979"/><stop offset="0.0454" stop-color="#747474"/><stop offset="0.0637" stop-color="#747474"/><stop offset="0.0647" stop-color="#747474"/><stop offset="0.0754" stop-color="#747474"/><stop offset="0.0764" stop-color="#4c4c4c"/><stop offset="0.1151" stop-color="#4c4c4c"/><stop offset="0.1160" stop-color="#474747"/><stop offset="0.1186" stop-color="#474747"/><stop offset="0.1195" stop-color="#676767"/><stop offset="0.1223" stop-color="#676767"/><stop offset="0.1232" stop-color="#474747"/><stop offset="0.1383" stop-color="#474747"/><stop offset="0.1393" stop-color="#626262"/><stop offset="0.1560" stop-color="#626262"/><stop offset="0.1569" stop-color="#747474"/><stop offset="0.1648" stop-color="#747474"/><stop offset="0.1658" stop-color="#939393"/><stop offset="0.1717" stop-color="#939393"/><stop offset="0.1727" stop-color="#676767"/><stop offset="0.1977" stop-color="#676767"/><stop offset="0.1987" stop-color="#676767"/><stop offset="0.2402" stop-color="#676767"/><stop offset="0.2412" stop-color="#535353"/><stop offset="0.2514" stop-color="#535353"/><stop offset="0.2524" stop-color="#4c4c4c"/><stop offset="0.2771" stop-color="#4c4c4c"/><stop offset="0.2781" stop-color="#404040"/><stop offset="0.2940" stop-color="#404040"/><stop offset="0.2949" stop-color="#535353"/><stop offset="0.3060" stop-color="#535353"/><stop offset="0.3070" stop-color="#6a6a6a"/><stop offset="0.3092" stop-color="#6a6a6a"/><stop offset="0.3102" stop-color="#8e8e8e"/><stop offset="0.3164" stop-color="#8e8e8e"/><stop offset="0.3174" stop-color="#989898"/><stop offset="0.3212" stop-color="#989898"/><stop offset="0.3222" stop-color="#8e8e8e"/><stop offset="0.3253" stop-color="#8e8e8e"/><stop offset="0.3262" stop-color="#8e8e8e"/><stop offset="0.3357" stop-color="#8e8e8e"/><stop offset="0.3366" stop-color="#626262"/><stop offset="0.3429" stop-color="#626262"/><stop offset="0.3439" stop-color="#676767"/><stop offset="0.3509" stop-color="#676767"/><stop offset="0.3519" stop-color="#5e5e5e"/><stop offset="0.3562" stop-color="#5e5e5e"/><stop offset="0.3572" stop-color="#2e2e2e"/><stop offset="0.3846" stop-color="#2e2e2e"/><stop offset="0.3856" stop-color="#383838"/><stop offset="0.4252" stop-color="#383838"/><stop offset="0.4262" stop-color="#626262"/><stop offset="0.4400" stop-color="#626262"/><stop offset="0.4409" stop-color="#676767"/><stop offset="0.4552" stop-color="#676767"/><stop offset="0.4562" stop-color="#585858"/><stop offset="0.4673" stop-color="#585858"/><stop offset="0.4682" stop-color="#626262"/><stop offset="0.4913" stop-color="#626262"/><stop offset="0.4923" stop-color="#585858"/><stop offset="0.5042" stop-color="#585858"/><stop offset="0.5051" stop-color="#797979"/><stop offset="0.5218" stop-color="#797979"/><stop offset="0.5228" stop-color="#818181"/><stop offset="0.5387" stop-color="#818181"/><stop offset="0.5396" stop-color="#3d3d3d"/><stop offset="0.5852" stop-color="#3d3d3d"/><stop offset="0.5862" stop-color="#404040"/><stop offset="0.6224" stop-color="#404040"/><stop offset="0.6234" stop-color="#5e5e5e"/><stop offset="0.6293" stop-color="#5e5e5e"/><stop offset="0.6303" stop-color="#454545"/><stop offset="0.6670" stop-color="#454545"/><stop offset="0.6680" stop-color="#626262"/><stop offset="0.6791" stop-color="#626262"/><stop offset="0.6800" stop-color="#6f6f6f"/><stop offset="0.6879" stop-color="#6f6f6f"/><stop offset="0.6889" stop-color="#6f6f6f"/><stop offset="0.6999" stop-color="#6f6f6f"/><stop offset="0.7009" stop-color="#797979"/><stop offset="0.7208" stop-color="#797979"/><stop offset="0.7218" stop-color="#747474"/><stop offset="0.7272" stop-color="#747474"/><stop offset="0.7282" stop-color="#676767"/><stop offset="0.7425" stop-color="#676767"/><stop offset="0.7434" stop-color="#676767"/><stop offset="0.7492" stop-color="#676767"/><stop offset="0.7502" stop-color="#333333"/><stop offset="0.7954" stop-color="#333333"/><stop offset="0.7964" stop-color="#333333"/><stop offset="0.8147" stop-color="#333333"/><stop offset="0.8156" stop-color="#676767"/><stop offset="0.8227" stop-color="#676767"/><stop offset="0.8237" stop-color="#424242"/><stop offset="0.8419" stop-color="#424242"/><stop offset="0.8429" stop-color="#5b5b5b"/><stop offset="0.8484" stop-color="#5b5b5b"/><stop offset="0.8493" stop-color="#6a6a6a"/><stop offset="0.8548" stop-color="#6a6a6a"/><stop offset="0.8557" stop-color="#454545"/><stop offset="0.8612" stop-color="#454545"/><stop offset="0.8622" stop-color="#676767"/><stop offset="0.8692" stop-color="#676767"/><stop offset="0.8702" stop-color="#4c4c4c"/><stop offset="0.8925" stop-color="#4c4c4c"/><stop offset="0.8935" stop-color="#4c4c4c"/><stop offset="0.9366" stop-color="#4c4c4c"/><stop offset="0.9376" stop-color="#474747"/><stop offset="0.9575" stop-color="#474747"/><stop offset="0.9584" stop-color="#676767"/><stop offset="0.9615" stop-color="#676767"/><stop offset="0.9625" stop-color="#4c4c4c"/><stop offset="0.9679" stop-color="#4c4c4c"/><stop offset="0.9689" stop-color="#676767"/><stop offset="0.9799" stop-color="#676767"/><stop offset="0.9809" stop-color="#454545"/><stop offset="0.9997" stop-color="#454545"/></linearGradient>
<linearGradient id="p3b1" gradientUnits="userSpaceOnUse" x1="0" y1="80" x2="0" y2="703.2"><stop offset="0.0005" stop-color="#5e5e5e"/><stop offset="0.0140" stop-color="#5e5e5e"/><stop offset="0.0149" stop-color="#676767"/><stop offset="0.0444" stop-color="#676767"/><stop offset="0.0454" stop-color="#797979"/><stop offset="0.0637" stop-color="#797979"/><stop offset="0.0647" stop-color="#626262"/><stop offset="0.0754" stop-color="#626262"/><stop offset="0.0764" stop-color="#4c4c4c"/><stop offset="0.1151" stop-color="#4c4c4c"/><stop offset="0.1160" stop-color="#474747"/><stop offset="0.1186" stop-color="#474747"/><stop offset="0.1195" stop-color="#676767"/><stop offset="0.1223" stop-color="#676767"/><stop offset="0.1232" stop-color="#474747"/><stop offset="0.1383" stop-color="#474747"/><stop offset="0.1393" stop-color="#585858"/><stop offset="0.1560" stop-color="#585858"/><stop offset="0.1569" stop-color="#626262"/><stop offset="0.1648" stop-color="#626262"/><stop offset="0.1658" stop-color="#818181"/><stop offset="0.1717" stop-color="#818181"/><stop offset="0.1727" stop-color="#626262"/><stop offset="0.1977" stop-color="#626262"/><stop offset="0.1987" stop-color="#676767"/><stop offset="0.2402" stop-color="#676767"/><stop offset="0.2412" stop-color="#626262"/><stop offset="0.2514" stop-color="#626262"/><stop offset="0.2524" stop-color="#585858"/><stop offset="0.2771" stop-color="#585858"/><stop offset="0.2781" stop-color="#404040"/><stop offset="0.2940" stop-color="#404040"/><stop offset="0.2949" stop-color="#535353"/><stop offset="0.3060" stop-color="#535353"/><stop offset="0.3070" stop-color="#6a6a6a"/><stop offset="0.3092" stop-color="#6a6a6a"/><stop offset="0.3102" stop-color="#818181"/><stop offset="0.3164" stop-color="#818181"/><stop offset="0.3174" stop-color="#8e8e8e"/><stop offset="0.3212" stop-color="#8e8e8e"/><stop offset="0.3222" stop-color="#818181"/><stop offset="0.3253" stop-color="#818181"/><stop offset="0.3262" stop-color="#838383"/><stop offset="0.3357" stop-color="#838383"/><stop offset="0.3366" stop-color="#5e5e5e"/><stop offset="0.3429" stop-color="#5e5e5e"/><stop offset="0.3439" stop-color="#626262"/><stop offset="0.3509" stop-color="#626262"/><stop offset="0.3519" stop-color="#5b5b5b"/><stop offset="0.3562" stop-color="#5b5b5b"/><stop offset="0.3572" stop-color="#2e2e2e"/><stop offset="0.3846" stop-color="#2e2e2e"/><stop offset="0.3856" stop-color="#3d3d3d"/><stop offset="0.4252" stop-color="#3d3d3d"/><stop offset="0.4262" stop-color="#5e5e5e"/><stop offset="0.4400" stop-color="#5e5e5e"/><stop offset="0.4409" stop-color="#585858"/><stop offset="0.4552" stop-color="#585858"/><stop offset="0.4562" stop-color="#535353"/><stop offset="0.4673" stop-color="#535353"/><stop offset="0.4682" stop-color="#585858"/><stop offset="0.4913" stop-color="#585858"/><stop offset="0.4923" stop-color="#5e5e5e"/><stop offset="0.5042" stop-color="#5e5e5e"/><stop offset="0.5051" stop-color="#797979"/><stop offset="0.5218" stop-color="#797979"/><stop offset="0.5228" stop-color="#797979"/><stop offset="0.5387" stop-color="#797979"/><stop offset="0.5396" stop-color="#454545"/><stop offset="0.5852" stop-color="#454545"/><stop offset="0.5862" stop-color="#454545"/><stop offset="0.6224" stop-color="#454545"/><stop offset="0.6234" stop-color="#5e5e5e"/><stop offset="0.6293" stop-color="#5e5e5e"/><stop offset="0.6303" stop-color="#454545"/><stop offset="0.6670" stop-color="#454545"/><stop offset="0.6680" stop-color="#5e5e5e"/><stop offset="0.6791" stop-color="#5e5e5e"/><stop offset="0.6800" stop-color="#626262"/><stop offset="0.6879" stop-color="#626262"/><stop offset="0.6889" stop-color="#626262"/><stop offset="0.6999" stop-color="#626262"/><stop offset="0.7009" stop-color="#747474"/><stop offset="0.7208" stop-color="#747474"/><stop offset="0.7218" stop-color="#747474"/><stop offset="0.7272" stop-color="#747474"/><stop offset="0.7282" stop-color="#6f6f6f"/><stop offset="0.7425" stop-color="#6f6f6f"/><stop offset="0.7434" stop-color="#6f6f6f"/><stop offset="0.7492" stop-color="#6f6f6f"/><stop offset="0.7502" stop-color="#333333"/><stop offset="0.7954" stop-color="#333333"/><stop offset="0.7964" stop-color="#333333"/><stop offset="0.8147" stop-color="#333333"/><stop offset="0.8156" stop-color="#4c4c4c"/><stop offset="0.8227" stop-color="#4c4c4c"/><stop offset="0.8237" stop-color="#424242"/><stop offset="0.8419" stop-color="#424242"/><stop offset="0.8429" stop-color="#5e5e5e"/><stop offset="0.8484" stop-color="#5e5e5e"/><stop offset="0.8493" stop-color="#676767"/><stop offset="0.8548" stop-color="#676767"/><stop offset="0.8557" stop-color="#454545"/><stop offset="0.8612" stop-color="#454545"/><stop offset="0.8622" stop-color="#676767"/><stop offset="0.8692" stop-color="#676767"/><stop offset="0.8702" stop-color="#4c4c4c"/><stop offset="0.8925" stop-color="#4c4c4c"/><stop offset="0.8935" stop-color="#474747"/><stop offset="0.9366" stop-color="#474747"/><stop offset="0.9376" stop-color="#474747"/><stop offset="0.9575" stop-color="#474747"/><stop offset="0.9584" stop-color="#676767"/><stop offset="0.9615" stop-color="#676767"/><stop offset="0.9625" stop-color="#4c4c4c"/><stop offset="0.9679" stop-color="#4c4c4c"/><stop offset="0.9689" stop-color="#676767"/><stop offset="0.9799" stop-color="#676767"/><stop offset="0.9809" stop-color="#454545"/><stop offset="0.9997" stop-color="#454545"/></linearGradient>
<linearGradient id="p3b2" gradientUnits="userSpaceOnUse" x1="0" y1="80" x2="0" y2="703.2"><stop offset="0.0005" stop-color="#676767"/><stop offset="0.0140" stop-color="#676767"/><stop offset="0.0149" stop-color="#626262"/><stop offset="0.0444" stop-color="#626262"/><stop offset="0.0454" stop-color="#8e8e8e"/><stop offset="0.0637" stop-color="#8e8e8e"/><stop offset="0.0647" stop-color="#626262"/><stop offset="0.0754" stop-color="#626262"/><stop offset="0.0764" stop-color="#4c4c4c"/><stop offset="0.1151" stop-color="#4c4c4c"/><stop offset="0.1160" stop-color="#474747"/><stop offset="0.1186" stop-color="#474747"/><stop offset="0.1195" stop-color="#676767"/><stop offset="0.1223" stop-color="#676767"/><stop offset="0.1232" stop-color="#474747"/><stop offset="0.1383" stop-color="#474747"/><stop offset="0.1393" stop-color="#535353"/><stop offset="0.1560" stop-color="#535353"/><stop offset="0.1569" stop-color="#626262"/><stop offset="0.1648" stop-color="#626262"/><stop offset="0.1658" stop-color="#747474"/><stop offset="0.1717" stop-color="#747474"/><stop offset="0.1727" stop-color="#585858"/><stop offset="0.1977" stop-color="#585858"/><stop offset="0.1987" stop-color="#5b5b5b"/><stop offset="0.2402" stop-color="#5b5b5b"/><stop offset="0.2412" stop-color="#5e5e5e"/><stop offset="0.2514" stop-color="#5e5e5e"/><stop offset="0.2524" stop-color="#5b5b5b"/><stop offset="0.2771" stop-color="#5b5b5b"/><stop offset="0.2781" stop-color="#404040"/><stop offset="0.2940" stop-color="#404040"/><stop offset="0.2949" stop-color="#535353"/><stop offset="0.3060" stop-color="#535353"/><stop offset="0.3070" stop-color="#6a6a6a"/><stop offset="0.3092" stop-color="#6a6a6a"/><stop offset="0.3102" stop-color="#888888"/><stop offset="0.3164" stop-color="#888888"/><stop offset="0.3174" stop-color="#939393"/><stop offset="0.3212" stop-color="#939393"/><stop offset="0.3222" stop-color="#888888"/><stop offset="0.3253" stop-color="#888888"/><stop offset="0.3262" stop-color="#888888"/><stop offset="0.3357" stop-color="#888888"/><stop offset="0.3366" stop-color="#676767"/><stop offset="0.3429" stop-color="#676767"/><stop offset="0.3439" stop-color="#7e7e7e"/><stop offset="0.3509" stop-color="#7e7e7e"/><stop offset="0.3519" stop-color="#626262"/><stop offset="0.3562" stop-color="#626262"/><stop offset="0.3572" stop-color="#2e2e2e"/><stop offset="0.3846" stop-color="#2e2e2e"/><stop offset="0.3856" stop-color="#454545"/><stop offset="0.4252" stop-color="#454545"/><stop offset="0.4262" stop-color="#5e5e5e"/><stop offset="0.4400" stop-color="#5e5e5e"/><stop offset="0.4409" stop-color="#585858"/><stop offset="0.4552" stop-color="#585858"/><stop offset="0.4562" stop-color="#5e5e5e"/><stop offset="0.4673" stop-color="#5e5e5e"/><stop offset="0.4682" stop-color="#626262"/><stop offset="0.4913" stop-color="#626262"/><stop offset="0.4923" stop-color="#676767"/><stop offset="0.5042" stop-color="#676767"/><stop offset="0.5051" stop-color="#676767"/><stop offset="0.5218" stop-color="#676767"/><stop offset="0.5228" stop-color="#5b5b5b"/><stop offset="0.5387" stop-color="#5b5b5b"/><stop offset="0.5396" stop-color="#4c4c4c"/><stop offset="0.5852" stop-color="#4c4c4c"/><stop offset="0.5862" stop-color="#4c4c4c"/><stop offset="0.6224" stop-color="#4c4c4c"/><stop offset="0.6234" stop-color="#5e5e5e"/><stop offset="0.6293" stop-color="#5e5e5e"/><stop offset="0.6303" stop-color="#4c4c4c"/><stop offset="0.6670" stop-color="#4c4c4c"/><stop offset="0.6680" stop-color="#5e5e5e"/><stop offset="0.6791" stop-color="#5e5e5e"/><stop offset="0.6800" stop-color="#676767"/><stop offset="0.6879" stop-color="#676767"/><stop offset="0.6889" stop-color="#676767"/><stop offset="0.6999" stop-color="#676767"/><stop offset="0.7009" stop-color="#8e8e8e"/><stop offset="0.7208" stop-color="#8e8e8e"/><stop offset="0.7218" stop-color="#747474"/><stop offset="0.7272" stop-color="#747474"/><stop offset="0.7282" stop-color="#6f6f6f"/><stop offset="0.7425" stop-color="#6f6f6f"/><stop offset="0.7434" stop-color="#6f6f6f"/><stop offset="0.7492" stop-color="#6f6f6f"/><stop offset="0.7502" stop-color="#333333"/><stop offset="0.7954" stop-color="#333333"/><stop offset="0.7964" stop-color="#454545"/><stop offset="0.8147" stop-color="#454545"/><stop offset="0.8156" stop-color="#5e5e5e"/><stop offset="0.8227" stop-color="#5e5e5e"/><stop offset="0.8237" stop-color="#424242"/><stop offset="0.8419" stop-color="#424242"/><stop offset="0.8429" stop-color="#626262"/><stop offset="0.8484" stop-color="#626262"/><stop offset="0.8493" stop-color="#6f6f6f"/><stop offset="0.8548" stop-color="#6f6f6f"/><stop offset="0.8557" stop-color="#454545"/><stop offset="0.8612" stop-color="#454545"/><stop offset="0.8622" stop-color="#676767"/><stop offset="0.8692" stop-color="#676767"/><stop offset="0.8702" stop-color="#4c4c4c"/><stop offset="0.8925" stop-color="#4c4c4c"/><stop offset="0.8935" stop-color="#535353"/><stop offset="0.9366" stop-color="#535353"/><stop offset="0.9376" stop-color="#474747"/><stop offset="0.9575" stop-color="#474747"/><stop offset="0.9584" stop-color="#676767"/><stop offset="0.9615" stop-color="#676767"/><stop offset="0.9625" stop-color="#4c4c4c"/><stop offset="0.9679" stop-color="#4c4c4c"/><stop offset="0.9689" stop-color="#747474"/><stop offset="0.9799" stop-color="#747474"/><stop offset="0.9809" stop-color="#4c4c4c"/><stop offset="0.9997" stop-color="#4c4c4c"/></linearGradient>
<linearGradient id="p3b3" gradientUnits="userSpaceOnUse" x1="0" y1="80" x2="0" y2="703.2"><stop offset="0.0005" stop-color="#5e5e5e"/><stop offset="0.0140" stop-color="#5e5e5e"/><stop offset="0.0149" stop-color="#676767"/><stop offset="0.0444" stop-color="#676767"/><stop offset="0.0454" stop-color="#797979"/><stop offset="0.0637" stop-color="#797979"/><stop offset="0.0647" stop-color="#747474"/><stop offset="0.0754" stop-color="#747474"/><stop offset="0.0764" stop-color="#4c4c4c"/><stop offset="0.1151" stop-color="#4c4c4c"/><stop offset="0.1160" stop-color="#474747"/><stop offset="0.1186" stop-color="#474747"/><stop offset="0.1195" stop-color="#676767"/><stop offset="0.1223" stop-color="#676767"/><stop offset="0.1232" stop-color="#474747"/><stop offset="0.1383" stop-color="#474747"/><stop offset="0.1393" stop-color="#585858"/><stop offset="0.1560" stop-color="#585858"/><stop offset="0.1569" stop-color="#747474"/><stop offset="0.1648" stop-color="#747474"/><stop offset="0.1658" stop-color="#797979"/><stop offset="0.1717" stop-color="#797979"/><stop offset="0.1727" stop-color="#626262"/><stop offset="0.1977" stop-color="#626262"/><stop offset="0.1987" stop-color="#5b5b5b"/><stop offset="0.2402" stop-color="#5b5b5b"/><stop offset="0.2412" stop-color="#5b5b5b"/><stop offset="0.2514" stop-color="#5b5b5b"/><stop offset="0.2524" stop-color="#585858"/><stop offset="0.2771" stop-color="#585858"/><stop offset="0.2781" stop-color="#404040"/><stop offset="0.2940" stop-color="#404040"/><stop offset="0.2949" stop-color="#535353"/><stop offset="0.3060" stop-color="#535353"/><stop offset="0.3070" stop-color="#6a6a6a"/><stop offset="0.3092" stop-color="#6a6a6a"/><stop offset="0.3102" stop-color="#818181"/><stop offset="0.3164" stop-color="#818181"/><stop offset="0.3174" stop-color="#8e8e8e"/><stop offset="0.3212" stop-color="#8e8e8e"/><stop offset="0.3222" stop-color="#818181"/><stop offset="0.3253" stop-color="#818181"/><stop offset="0.3262" stop-color="#838383"/><stop offset="0.3357" stop-color="#838383"/><stop offset="0.3366" stop-color="#676767"/><stop offset="0.3429" stop-color="#676767"/><stop offset="0.3439" stop-color="#797979"/><stop offset="0.3509" stop-color="#797979"/><stop offset="0.3519" stop-color="#5e5e5e"/><stop offset="0.3562" stop-color="#5e5e5e"/><stop offset="0.3572" stop-color="#2e2e2e"/><stop offset="0.3846" stop-color="#2e2e2e"/><stop offset="0.3856" stop-color="#474747"/><stop offset="0.4252" stop-color="#474747"/><stop offset="0.4262" stop-color="#626262"/><stop offset="0.4400" stop-color="#626262"/><stop offset="0.4409" stop-color="#5e5e5e"/><stop offset="0.4552" stop-color="#5e5e5e"/><stop offset="0.4562" stop-color="#676767"/><stop offset="0.4673" stop-color="#676767"/><stop offset="0.4682" stop-color="#6f6f6f"/><stop offset="0.4913" stop-color="#6f6f6f"/><stop offset="0.4923" stop-color="#676767"/><stop offset="0.5042" stop-color="#676767"/><stop offset="0.5051" stop-color="#6f6f6f"/><stop offset="0.5218" stop-color="#6f6f6f"/><stop offset="0.5228" stop-color="#5e5e5e"/><stop offset="0.5387" stop-color="#5e5e5e"/><stop offset="0.5396" stop-color="#4c4c4c"/><stop offset="0.5852" stop-color="#4c4c4c"/><stop offset="0.5862" stop-color="#4c4c4c"/><stop offset="0.6224" stop-color="#4c4c4c"/><stop offset="0.6234" stop-color="#5e5e5e"/><stop offset="0.6293" stop-color="#5e5e5e"/><stop offset="0.6303" stop-color="#474747"/><stop offset="0.6670" stop-color="#474747"/><stop offset="0.6680" stop-color="#585858"/><stop offset="0.6791" stop-color="#585858"/><stop offset="0.6800" stop-color="#676767"/><stop offset="0.6879" stop-color="#676767"/><stop offset="0.6889" stop-color="#676767"/><stop offset="0.6999" stop-color="#676767"/><stop offset="0.7009" stop-color="#888888"/><stop offset="0.7208" stop-color="#888888"/><stop offset="0.7218" stop-color="#747474"/><stop offset="0.7272" stop-color="#747474"/><stop offset="0.7282" stop-color="#5e5e5e"/><stop offset="0.7425" stop-color="#5e5e5e"/><stop offset="0.7434" stop-color="#5e5e5e"/><stop offset="0.7492" stop-color="#5e5e5e"/><stop offset="0.7502" stop-color="#333333"/><stop offset="0.7954" stop-color="#333333"/><stop offset="0.7964" stop-color="#454545"/><stop offset="0.8147" stop-color="#454545"/><stop offset="0.8156" stop-color="#535353"/><stop offset="0.8227" stop-color="#535353"/><stop offset="0.8237" stop-color="#424242"/><stop offset="0.8419" stop-color="#424242"/><stop offset="0.8429" stop-color="#5e5e5e"/><stop offset="0.8484" stop-color="#5e5e5e"/><stop offset="0.8493" stop-color="#6a6a6a"/><stop offset="0.8548" stop-color="#6a6a6a"/><stop offset="0.8557" stop-color="#454545"/><stop offset="0.8612" stop-color="#454545"/><stop offset="0.8622" stop-color="#676767"/><stop offset="0.8692" stop-color="#676767"/><stop offset="0.8702" stop-color="#4c4c4c"/><stop offset="0.8925" stop-color="#4c4c4c"/><stop offset="0.8935" stop-color="#585858"/><stop offset="0.9366" stop-color="#585858"/><stop offset="0.9376" stop-color="#474747"/><stop offset="0.9575" stop-color="#474747"/><stop offset="0.9584" stop-color="#676767"/><stop offset="0.9615" stop-color="#676767"/><stop offset="0.9625" stop-color="#4c4c4c"/><stop offset="0.9679" stop-color="#4c4c4c"/><stop offset="0.9689" stop-color="#747474"/><stop offset="0.9799" stop-color="#747474"/><stop offset="0.9809" stop-color="#454545"/><stop offset="0.9997" stop-color="#454545"/></linearGradient>
<linearGradient id="p3g" gradientUnits="userSpaceOnUse" x1="0" y1="80" x2="0" y2="703.2"><stop offset="0.0005" stop-color="#272727"/><stop offset="0.0140" stop-color="#272727"/><stop offset="0.0149" stop-color="#272727"/><stop offset="0.0444" stop-color="#272727"/><stop offset="0.0454" stop-color="#292929"/><stop offset="0.0637" stop-color="#292929"/><stop offset="0.0647" stop-color="#272727"/><stop offset="0.0754" stop-color="#272727"/><stop offset="0.0764" stop-color="#242424"/><stop offset="0.1151" stop-color="#242424"/><stop offset="0.1160" stop-color="#242424"/><stop offset="0.1186" stop-color="#242424"/><stop offset="0.1195" stop-color="#272727"/><stop offset="0.1223" stop-color="#272727"/><stop offset="0.1232" stop-color="#242424"/><stop offset="0.1383" stop-color="#242424"/><stop offset="0.1393" stop-color="#262626"/><stop offset="0.1560" stop-color="#262626"/><stop offset="0.1569" stop-color="#272727"/><stop offset="0.1648" stop-color="#272727"/><stop offset="0.1658" stop-color="#2a2a2a"/><stop offset="0.1717" stop-color="#2a2a2a"/><stop offset="0.1727" stop-color="#262626"/><stop offset="0.1977" stop-color="#262626"/><stop offset="0.1987" stop-color="#262626"/><stop offset="0.2402" stop-color="#262626"/><stop offset="0.2412" stop-color="#262626"/><stop offset="0.2514" stop-color="#262626"/><stop offset="0.2524" stop-color="#252525"/><stop offset="0.2771" stop-color="#252525"/><stop offset="0.2781" stop-color="#232323"/><stop offset="0.2940" stop-color="#232323"/><stop offset="0.2949" stop-color="#252525"/><stop offset="0.3060" stop-color="#252525"/><stop offset="0.3070" stop-color="#272727"/><stop offset="0.3092" stop-color="#272727"/><stop offset="0.3102" stop-color="#2a2a2a"/><stop offset="0.3164" stop-color="#2a2a2a"/><stop offset="0.3174" stop-color="#2b2b2b"/><stop offset="0.3212" stop-color="#2b2b2b"/><stop offset="0.3222" stop-color="#2a2a2a"/><stop offset="0.3253" stop-color="#2a2a2a"/><stop offset="0.3262" stop-color="#2a2a2a"/><stop offset="0.3357" stop-color="#2a2a2a"/><stop offset="0.3366" stop-color="#272727"/><stop offset="0.3429" stop-color="#272727"/><stop offset="0.3439" stop-color="#282828"/><stop offset="0.3509" stop-color="#282828"/><stop offset="0.3519" stop-color="#262626"/><stop offset="0.3562" stop-color="#262626"/><stop offset="0.3572" stop-color="#212121"/><stop offset="0.3846" stop-color="#212121"/><stop offset="0.3856" stop-color="#232323"/><stop offset="0.4252" stop-color="#232323"/><stop offset="0.4262" stop-color="#262626"/><stop offset="0.4400" stop-color="#262626"/><stop offset="0.4409" stop-color="#262626"/><stop offset="0.4552" stop-color="#262626"/><stop offset="0.4562" stop-color="#262626"/><stop offset="0.4673" stop-color="#262626"/><stop offset="0.4682" stop-color="#272727"/><stop offset="0.4913" stop-color="#272727"/><stop offset="0.4923" stop-color="#262626"/><stop offset="0.5042" stop-color="#262626"/><stop offset="0.5051" stop-color="#282828"/><stop offset="0.5218" stop-color="#282828"/><stop offset="0.5228" stop-color="#282828"/><stop offset="0.5387" stop-color="#282828"/><stop offset="0.5396" stop-color="#242424"/><stop offset="0.5852" stop-color="#242424"/><stop offset="0.5862" stop-color="#242424"/><stop offset="0.6224" stop-color="#242424"/><stop offset="0.6234" stop-color="#262626"/><stop offset="0.6293" stop-color="#262626"/><stop offset="0.6303" stop-color="#242424"/><stop offset="0.6670" stop-color="#242424"/><stop offset="0.6680" stop-color="#262626"/><stop offset="0.6791" stop-color="#262626"/><stop offset="0.6800" stop-color="#272727"/><stop offset="0.6879" stop-color="#272727"/><stop offset="0.6889" stop-color="#272727"/><stop offset="0.6999" stop-color="#272727"/><stop offset="0.7009" stop-color="#2a2a2a"/><stop offset="0.7208" stop-color="#2a2a2a"/><stop offset="0.7218" stop-color="#282828"/><stop offset="0.7272" stop-color="#282828"/><stop offset="0.7282" stop-color="#272727"/><stop offset="0.7425" stop-color="#272727"/><stop offset="0.7434" stop-color="#272727"/><stop offset="0.7492" stop-color="#272727"/><stop offset="0.7502" stop-color="#222222"/><stop offset="0.7954" stop-color="#222222"/><stop offset="0.7964" stop-color="#232323"/><stop offset="0.8147" stop-color="#232323"/><stop offset="0.8156" stop-color="#262626"/><stop offset="0.8227" stop-color="#262626"/><stop offset="0.8237" stop-color="#232323"/><stop offset="0.8419" stop-color="#232323"/><stop offset="0.8429" stop-color="#262626"/><stop offset="0.8484" stop-color="#262626"/><stop offset="0.8493" stop-color="#272727"/><stop offset="0.8548" stop-color="#272727"/><stop offset="0.8557" stop-color="#242424"/><stop offset="0.8612" stop-color="#242424"/><stop offset="0.8622" stop-color="#272727"/><stop offset="0.8692" stop-color="#272727"/><stop offset="0.8702" stop-color="#242424"/><stop offset="0.8925" stop-color="#242424"/><stop offset="0.8935" stop-color="#252525"/><stop offset="0.9366" stop-color="#252525"/><stop offset="0.9376" stop-color="#242424"/><stop offset="0.9575" stop-color="#242424"/><stop offset="0.9584" stop-color="#272727"/><stop offset="0.9615" stop-color="#272727"/><stop offset="0.9625" stop-color="#242424"/><stop offset="0.9679" stop-color="#242424"/><stop offset="0.9689" stop-color="#282828"/><stop offset="0.9799" stop-color="#282828"/><stop offset="0.9809" stop-color="#242424"/><stop offset="0.9997" stop-color="#242424"/></linearGradient>
<linearGradient id="halo" x1="0" y1="0" x2="1" y2="0"><stop offset="0" stop-color="#fff" stop-opacity="0"/><stop offset=".2" stop-color="#fff" stop-opacity=".05"/><stop offset=".37" stop-color="#fff" stop-opacity=".17"/><stop offset=".45" stop-color="#fff" stop-opacity=".29"/><stop offset=".55" stop-color="#fff" stop-opacity=".29"/><stop offset=".63" stop-color="#fff" stop-opacity=".17"/><stop offset=".8" stop-color="#fff" stop-opacity=".05"/><stop offset="1" stop-color="#fff" stop-opacity="0"/></linearGradient>
<linearGradient id="cb" x1="0" y1="1" x2="0" y2="0">
<stop offset="0.000" stop-color="#000080"/>
<stop offset="0.025" stop-color="#00009c"/>
<stop offset="0.050" stop-color="#0000b9"/>
<stop offset="0.075" stop-color="#0000d6"/>
<stop offset="0.100" stop-color="#0000f3"/>
<stop offset="0.125" stop-color="#0000ff"/>
<stop offset="0.150" stop-color="#0019ff"/>
<stop offset="0.175" stop-color="#0033ff"/>
<stop offset="0.200" stop-color="#004dff"/>
<stop offset="0.225" stop-color="#0066ff"/>
<stop offset="0.250" stop-color="#0080ff"/>
<stop offset="0.275" stop-color="#0099ff"/>
<stop offset="0.300" stop-color="#00b2ff"/>
<stop offset="0.325" stop-color="#00ccff"/>
<stop offset="0.350" stop-color="#00e5f7"/>
<stop offset="0.375" stop-color="#15ffe2"/>
<stop offset="0.400" stop-color="#29ffce"/>
<stop offset="0.425" stop-color="#3effb9"/>
<stop offset="0.450" stop-color="#52ffa5"/>
<stop offset="0.475" stop-color="#67ff90"/>
<stop offset="0.500" stop-color="#7bff7b"/>
<stop offset="0.525" stop-color="#90ff67"/>
<stop offset="0.550" stop-color="#a5ff52"/>
<stop offset="0.575" stop-color="#b9ff3e"/>
<stop offset="0.600" stop-color="#ceff29"/>
<stop offset="0.625" stop-color="#e2ff15"/>
<stop offset="0.650" stop-color="#f7f600"/>
<stop offset="0.675" stop-color="#ffde00"/>
<stop offset="0.700" stop-color="#ffc600"/>
<stop offset="0.725" stop-color="#ffaf00"/>
<stop offset="0.750" stop-color="#ff9700"/>
<stop offset="0.775" stop-color="#ff8000"/>
<stop offset="0.800" stop-color="#ff6800"/>
<stop offset="0.825" stop-color="#ff5000"/>
<stop offset="0.850" stop-color="#ff3900"/>
<stop offset="0.875" stop-color="#ff2100"/>
<stop offset="0.900" stop-color="#f30900"/>
<stop offset="0.925" stop-color="#d60000"/>
<stop offset="0.950" stop-color="#b90000"/>
<stop offset="0.975" stop-color="#9c0000"/>
<stop offset="1.000" stop-color="#800000"/>
</linearGradient>
</defs>
<g filter="url(#jet0)">
<rect x="130.5" y="79" width="179" height="625.2" fill="#202020"/>
<rect x="130.5" y="127.2" width="179.0" height="2.8" fill="#2b2b2b"/>
<rect x="130.5" y="130" width="179.0" height="3" fill="#454545"/>
<rect x="130.5" y="134" width="179.0" height="5" fill="#4f4f4f"/>
<rect x="130.5" y="140" width="179.0" height="4" fill="#3b3b3b"/>
<rect x="130.5" y="144.7" width="179.0" height="5.3" fill="#292929"/>
<rect x="130.5" y="152" width="179.0" height="2.2" fill="#454545"/>
<rect x="130.5" y="315" width="179.0" height="4.2" fill="#4a4a4a"/>
<rect x="130.5" y="469.4" width="179.0" height="2.6" fill="#5c5c5c"/>
<rect x="130.5" y="549" width="179.0" height="2" fill="#545454"/>
<rect x="130.5" y="561" width="179.0" height="2" fill="#595959"/>
<rect x="130.5" y="565" width="179.0" height="3" fill="#454545"/>
<rect x="130.5" y="587.6" width="179.0" height="2.4" fill="#595959"/>
<rect x="130.5" y="614" width="179.0" height="3" fill="#4f4f4f"/>
<rect x="130.5" y="677" width="179.0" height="2" fill="#4c4c4c"/>
<rect x="130.5" y="691" width="179.0" height="12.3" fill="#292929"/>
<rect x="130.5" y="636.6" width="179.0" height="27.4" fill="#252525"/>
<rect x="130.5" y="271" width="179.0" height="31" fill="#262626"/>
<rect x="243.4" y="80" width="53.4" height="623.2" fill="url(#p0g)"/>
<rect x="243.4" y="80" width="12" height="623.2" fill="url(#p0b0)"/>
<rect x="257.5" y="80" width="11.6" height="623.2" fill="url(#p0b1)"/>
<rect x="271.1" y="80" width="11.8" height="623.2" fill="url(#p0b2)"/>
<rect x="284.9" y="80" width="11.9" height="623.2" fill="url(#p0b3)"/>
<rect x="172.8" y="119.5" width="22" height="32" fill="url(#halo)" opacity="1"/>
<rect x="176.8" y="151.5" width="14" height="4.5" fill="url(#halo)" opacity="0.45"/>
<rect x="225.6" y="118" width="12" height="10" fill="url(#halo)" opacity="0.55"/>
<rect x="226.6" y="128" width="10" height="22" fill="url(#halo)" opacity="0.3"/>
<rect x="182.5" y="115.5" width="2.6" height="5.5" fill="#5c5c5c"/>
<rect x="182.8" y="119.5" width="2" height="31.5" fill="#9e9e9e"/>
<rect x="182.8" y="130.5" width="2" height="2" fill="#e0e0e0"/>
<rect x="182.8" y="134" width="2" height="1.2" fill="#cccccc"/>
<rect x="182.8" y="140" width="2" height="2" fill="#dbdbdb"/>
<rect x="182.8" y="142.7" width="2" height="1.3" fill="#c2c2c2"/>
<rect x="182.8" y="145.3" width="2" height="2.5" fill="#d1d1d1"/>
<rect x="230.9" y="118.6" width="1.4" height="8.6" fill="#e0e0e0"/>
<rect x="231.0" y="129.5" width="1.2" height="20" fill="#999999"/>
<rect x="193.0" y="88" width="1.35" height="1" fill="#808080"/>
<rect x="193.0" y="99" width="1.35" height="2" fill="#d9d9d9"/>
<rect x="193.0" y="101" width="1.35" height="3" fill="#999999"/>
<rect x="193.0" y="157" width="1.35" height="1" fill="#999999"/>
<rect x="193.0" y="165" width="1.35" height="1" fill="#808080"/>
<rect x="193.0" y="169" width="1.35" height="2" fill="#737373"/>
<rect x="193.0" y="204" width="1.35" height="2" fill="#bfbfbf"/>
<rect x="193.0" y="208" width="1.35" height="1" fill="#a6a6a6"/>
<rect x="193.0" y="215" width="1.35" height="2" fill="#d1d1d1"/>
<rect x="193.0" y="220" width="1.35" height="2" fill="#cccccc"/>
<rect x="193.0" y="230" width="1.35" height="2" fill="#d9d9d9"/>
<rect x="173.0" y="108" width="1.35" height="1" fill="#9e9e9e"/>
<rect x="210.0" y="160" width="1.35" height="1" fill="#808080"/>
<rect x="210.0" y="178" width="1.35" height="2" fill="#8c8c8c"/>
<rect x="218.0" y="179" width="1.35" height="1" fill="#a8a8a8"/>
<rect x="218.0" y="182" width="1.35" height="1" fill="#a8a8a8"/>
<rect x="173.0" y="195" width="1.35" height="2" fill="#bfbfbf"/>
<rect x="210.0" y="230" width="1.35" height="1" fill="#8c8c8c"/>
<rect x="210.0" y="399" width="1.35" height="1" fill="#8c8c8c"/>
<rect x="297.0" y="566" width="6.5" height="1" fill="#5c5c5c"/>
<rect x="298.6" y="566" width="3.2" height="1" fill="#9e9e9e"/>
<rect x="299.0" y="566" width="1.35" height="2" fill="#dbdbdb"/>
<rect x="225.0" y="614" width="1.35" height="1" fill="#737373"/>
<rect x="225.0" y="623" width="1.35" height="1" fill="#808080"/>
<rect x="225.0" y="626" width="1.35" height="2" fill="#808080"/>
<rect x="225.0" y="634" width="1.35" height="1" fill="#8c8c8c"/>
<rect x="225.0" y="641" width="1.35" height="1" fill="#808080"/>
<rect x="225.0" y="661" width="1.35" height="1" fill="#8c8c8c"/>
<rect x="225.0" y="667" width="1.35" height="1" fill="#808080"/>
<rect x="225.0" y="672" width="1.35" height="1" fill="#808080"/>
<rect x="225.0" y="696" width="1.35" height="1" fill="#808080"/>
</g>
<rect x="131.5" y="120" width="177" height="1" fill="#fff"/>
<rect x="131.5" y="129" width="177" height="1" fill="#fff"/>
<rect x="131.5" y="133" width="177" height="1" fill="#fff"/>
<rect x="131.5" y="139" width="177" height="1" fill="#fff"/>
<rect x="131.5" y="150" width="177" height="2" fill="#fff"/>
<rect x="131.5" y="162" width="177" height="1" fill="#fff"/>
<rect x="131.5" y="203" width="177" height="1" fill="#fff"/>
<rect x="131.5" y="237" width="177" height="1" fill="#fff"/>
<rect x="131.5" y="240" width="177" height="1" fill="#fff"/>
<rect x="131.5" y="243" width="177" height="1" fill="#fff"/>
<rect x="131.5" y="245" width="177" height="2" fill="#fff"/>
<rect x="131.5" y="249" width="177" height="1" fill="#fff"/>
<rect x="131.5" y="252" width="177" height="1" fill="#fff"/>
<rect x="131.5" y="263" width="177" height="1" fill="#fff"/>
<rect x="131.5" y="266" width="177" height="1" fill="#fff"/>
<rect x="131.5" y="269" width="177" height="2" fill="#fff"/>
<rect x="131.5" y="284" width="177" height="1" fill="#fff"/>
<rect x="131.5" y="289" width="177" height="1" fill="#fff"/>
<rect x="131.5" y="304" width="177" height="1" fill="#fff"/>
<rect x="131.5" y="310" width="177" height="1" fill="#fff"/>
<rect x="131.5" y="313" width="177" height="2" fill="#fff"/>
<rect x="131.5" y="345" width="177" height="1" fill="#fff"/>
<rect x="131.5" y="348" width="177" height="1" fill="#fff"/>
<rect x="131.5" y="371" width="177" height="1" fill="#fff"/>
<rect x="131.5" y="386" width="177" height="1" fill="#fff"/>
<rect x="131.5" y="394" width="177" height="1" fill="#fff"/>
<rect x="131.5" y="405" width="177" height="1" fill="#fff"/>
<rect x="131.5" y="445" width="177" height="1" fill="#fff"/>
<rect x="131.5" y="449" width="177" height="1" fill="#fff"/>
<rect x="131.5" y="462" width="177" height="1" fill="#fff"/>
<rect x="131.5" y="503" width="177" height="1" fill="#fff"/>
<rect x="131.5" y="516" width="177" height="1" fill="#fff"/>
<rect x="131.5" y="529" width="177" height="1" fill="#fff"/>
<rect x="131.5" y="533" width="177" height="1" fill="#fff"/>
<rect x="131.5" y="551" width="177" height="5" fill="#fff"/>
<rect x="131.5" y="563" width="177" height="2" fill="#fff"/>
<rect x="131.5" y="590" width="177" height="1" fill="#fff"/>
<rect x="131.5" y="598" width="177" height="1" fill="#fff"/>
<rect x="131.5" y="603" width="177" height="1" fill="#fff"/>
<rect x="131.5" y="617" width="177" height="2" fill="#fff"/>
<rect x="131.5" y="622" width="177" height="1" fill="#fff"/>
<rect x="131.5" y="625" width="177" height="1" fill="#fff"/>
<rect x="131.5" y="627" width="177" height="1" fill="#fff"/>
<rect x="131.5" y="630" width="177" height="2" fill="#fff"/>
<rect x="131.5" y="664" width="177" height="1" fill="#fff"/>
<rect x="131.5" y="669" width="177" height="2" fill="#fff"/>
<rect x="131.5" y="673" width="177" height="1" fill="#fff"/>
<rect x="131.5" y="679" width="177" height="4" fill="#fff"/>
<rect x="131.5" y="80" width="177" height="2" fill="#000"/>
<rect x="131.5" y="89" width="177" height="1" fill="#000"/>
<rect x="131.5" y="127" width="177" height="2" fill="#000"/>
<rect x="131.5" y="144" width="177" height="1" fill="#000"/>
<rect x="131.5" y="154" width="177" height="1" fill="#000"/>
<rect x="131.5" y="156" width="177" height="1" fill="#000"/>
<rect x="131.5" y="166" width="177" height="2" fill="#000"/>
<rect x="131.5" y="177" width="177" height="1" fill="#000"/>
<rect x="131.5" y="187" width="177" height="2" fill="#000"/>
<rect x="131.5" y="282" width="177" height="1" fill="#000"/>
<rect x="131.5" y="291" width="177" height="1" fill="#000"/>
<rect x="131.5" y="302" width="177" height="1" fill="#000"/>
<rect x="131.5" y="306" width="177" height="1" fill="#000"/>
<rect x="131.5" y="354" width="177" height="2" fill="#000"/>
<rect x="131.5" y="364" width="177" height="1" fill="#000"/>
<rect x="131.5" y="467" width="177" height="1" fill="#000"/>
<rect x="131.5" y="468.5" width="177" height="0.6" fill="#000"/>
<rect x="131.5" y="472" width="177" height="1" fill="#000"/>
<rect x="131.5" y="547" width="177" height="2" fill="#000"/>
<rect x="131.5" y="560" width="177" height="1" fill="#000"/>
<rect x="131.5" y="568" width="177" height="1" fill="#000"/>
<rect x="131.5" y="576" width="177" height="1" fill="#000"/>
<rect x="131.5" y="585" width="177" height="2.7" fill="#000"/>
<rect x="131.5" y="636" width="177" height="1" fill="#000"/>
<rect x="131.5" y="676" width="177" height="1" fill="#000"/>
<rect x="131.5" y="684" width="177" height="1" fill="#000"/>
<rect x="131.5" y="687" width="177" height="1" fill="#000"/>
<rect x="131.5" y="703" width="177" height="1" fill="#000"/>
<rect x="131.5" y="80.5" width="177" height="640" fill="none" stroke="#000" stroke-width="1"/>
<path d="M172.5 720.5 v-6" stroke="#000" stroke-width="1" fill="none"/><path d="M172.5 81 v6" stroke="#000" stroke-width="1" stroke-opacity=".5" fill="none"/>
<path d="M214.5 720.5 v-6" stroke="#000" stroke-width="1" fill="none"/><path d="M214.5 81 v6" stroke="#000" stroke-width="1" stroke-opacity=".5" fill="none"/>
<path d="M255.5 720.5 v-6" stroke="#000" stroke-width="1" fill="none"/><path d="M255.5 81 v6" stroke="#000" stroke-width="1" stroke-opacity=".5" fill="none"/>
<path d="M297.5 720.5 v-6" stroke="#000" stroke-width="1" fill="none"/><path d="M297.5 81 v6" stroke="#000" stroke-width="1" stroke-opacity=".5" fill="none"/>
<text x="131.5" y="736" font-size="12.4" text-anchor="middle" textLength="21.5" lengthAdjust="spacingAndGlyphs">320</text>
<text x="172.9" y="736" font-size="12.4" text-anchor="middle" textLength="21.5" lengthAdjust="spacingAndGlyphs">335</text>
<text x="214.3" y="736" font-size="12.4" text-anchor="middle" textLength="21.5" lengthAdjust="spacingAndGlyphs">350</text>
<text x="255.8" y="736" font-size="12.4" text-anchor="middle" textLength="21.5" lengthAdjust="spacingAndGlyphs">365</text>
<text x="297.2" y="736" font-size="12.4" text-anchor="middle" textLength="21.5" lengthAdjust="spacingAndGlyphs">380</text>
<text x="126.5" y="723.6" font-size="12.4" text-anchor="end">0</text>
<text x="126.5" y="590.3" font-size="12.4" text-anchor="end">5</text>
<text x="126.5" y="456.9" font-size="12.4" text-anchor="end">10</text>
<text x="126.5" y="323.6" font-size="12.4" text-anchor="end">15</text>
<text x="126.5" y="190.3" font-size="12.4" text-anchor="end">20</text>
<text x="220.4" y="73" font-size="15.8" text-anchor="middle" textLength="185" lengthAdjust="spacingAndGlyphs">XX, V9*V15=EA18*EA26</text>
<g filter="url(#jet1)">
<rect x="343.5" y="79" width="178" height="625.2" fill="#202020"/>
<rect x="343.5" y="127.2" width="178.0" height="2.8" fill="#2b2b2b"/>
<rect x="343.5" y="130" width="178.0" height="3" fill="#454545"/>
<rect x="343.5" y="134" width="178.0" height="5" fill="#4f4f4f"/>
<rect x="343.5" y="140" width="178.0" height="4" fill="#3b3b3b"/>
<rect x="343.5" y="144.7" width="178.0" height="5.3" fill="#292929"/>
<rect x="343.5" y="152" width="178.0" height="2.2" fill="#454545"/>
<rect x="343.5" y="315" width="124.6" height="4.2" fill="#454545"/>
<rect x="343.5" y="469.4" width="178.0" height="2.6" fill="#545454"/>
<rect x="343.5" y="549" width="178.0" height="2" fill="#4c4c4c"/>
<rect x="343.5" y="561" width="178.0" height="2" fill="#545454"/>
<rect x="343.5" y="565" width="178.0" height="3" fill="#404040"/>
<rect x="343.5" y="587.6" width="178.0" height="2.4" fill="#545454"/>
<rect x="343.5" y="614" width="113.9" height="3" fill="#545454"/>
<rect x="343.5" y="677" width="178.0" height="2" fill="#4c4c4c"/>
<rect x="343.5" y="691" width="178.0" height="12.3" fill="#292929"/>
<rect x="343.5" y="636.6" width="178.0" height="27.4" fill="#252525"/>
<rect x="343.5" y="271" width="178.0" height="31" fill="#262626"/>
<rect x="455.6" y="80" width="53.4" height="623.2" fill="url(#p1g)"/>
<rect x="455.6" y="80" width="12" height="623.2" fill="url(#p1b0)"/>
<rect x="469.7" y="80" width="11.6" height="623.2" fill="url(#p1b1)"/>
<rect x="483.3" y="80" width="11.8" height="623.2" fill="url(#p1b2)"/>
<rect x="497.1" y="80" width="11.9" height="623.2" fill="url(#p1b3)"/>
<rect x="385.0" y="119.5" width="22" height="32" fill="url(#halo)" opacity="1"/>
<rect x="389.0" y="151.5" width="14" height="4.5" fill="url(#halo)" opacity="0.45"/>
<rect x="437.8" y="118" width="12" height="10" fill="url(#halo)" opacity="0.8"/>
<rect x="438.8" y="128" width="10" height="22" fill="url(#halo)" opacity="0.45"/>
<rect x="394.7" y="115.5" width="2.6" height="5.5" fill="#575757"/>
<rect x="395.0" y="119.5" width="2" height="31.5" fill="#b8b8b8"/>
<rect x="395.0" y="130.5" width="2" height="2" fill="#ededed"/>
<rect x="395.0" y="134" width="2" height="1.2" fill="#dbdbdb"/>
<rect x="395.0" y="140" width="2" height="2" fill="#dbdbdb"/>
<rect x="395.0" y="142.7" width="2" height="1.3" fill="#d6d6d6"/>
<rect x="395.0" y="145.3" width="2" height="2.5" fill="#d1d1d1"/>
<rect x="392.0" y="130.8" width="8" height="1.4" fill="#808080"/>
<rect x="443.1" y="118.6" width="1.4" height="8.6" fill="#6b6b6b"/>
<rect x="443.2" y="129.5" width="1.2" height="20" fill="#575757"/>
<rect x="386.0" y="108" width="1.35" height="1" fill="#666666"/>
<rect x="422.0" y="178" width="1.35" height="2" fill="#666666"/>
<rect x="430.0" y="179" width="1.35" height="1" fill="#737373"/>
<rect x="422.0" y="230" width="1.35" height="1" fill="#808080"/>
<rect x="509.2" y="566" width="6.5" height="1" fill="#5c5c5c"/>
<rect x="510.8" y="566" width="3.2" height="1" fill="#9e9e9e"/>
<rect x="512.0" y="566" width="1.35" height="2" fill="#dbdbdb"/>
<rect x="437.0" y="614" width="1.35" height="1" fill="#737373"/>
<rect x="437.0" y="623" width="1.35" height="1" fill="#666666"/>
<rect x="437.0" y="626" width="1.35" height="2" fill="#666666"/>
<rect x="437.0" y="634" width="1.35" height="1" fill="#737373"/>
<rect x="437.0" y="641" width="1.35" height="1" fill="#737373"/>
</g>
<rect x="344.5" y="120" width="176" height="1" fill="#fff"/>
<rect x="344.5" y="129" width="176" height="1" fill="#fff"/>
<rect x="344.5" y="133" width="176" height="1" fill="#fff"/>
<rect x="344.5" y="139" width="176" height="1" fill="#fff"/>
<rect x="344.5" y="150" width="176" height="2" fill="#fff"/>
<rect x="344.5" y="162" width="176" height="1" fill="#fff"/>
<rect x="344.5" y="203" width="176" height="1" fill="#fff"/>
<rect x="344.5" y="237" width="176" height="1" fill="#fff"/>
<rect x="344.5" y="240" width="176" height="1" fill="#fff"/>
<rect x="344.5" y="243" width="176" height="1" fill="#fff"/>
<rect x="344.5" y="245" width="176" height="2" fill="#fff"/>
<rect x="344.5" y="249" width="176" height="1" fill="#fff"/>
<rect x="344.5" y="252" width="176" height="1" fill="#fff"/>
<rect x="344.5" y="263" width="176" height="1" fill="#fff"/>
<rect x="344.5" y="266" width="176" height="1" fill="#fff"/>
<rect x="344.5" y="269" width="176" height="2" fill="#fff"/>
<rect x="344.5" y="284" width="176" height="1" fill="#fff"/>
<rect x="344.5" y="289" width="176" height="1" fill="#fff"/>
<rect x="344.5" y="304" width="176" height="1" fill="#fff"/>
<rect x="344.5" y="310" width="176" height="1" fill="#fff"/>
<rect x="344.5" y="313" width="176" height="2" fill="#fff"/>
<rect x="344.5" y="345" width="176" height="1" fill="#fff"/>
<rect x="344.5" y="348" width="176" height="1" fill="#fff"/>
<rect x="344.5" y="371" width="176" height="1" fill="#fff"/>
<rect x="344.5" y="386" width="176" height="1" fill="#fff"/>
<rect x="344.5" y="394" width="176" height="1" fill="#fff"/>
<rect x="344.5" y="405" width="176" height="1" fill="#fff"/>
<rect x="344.5" y="445" width="176" height="1" fill="#fff"/>
<rect x="344.5" y="449" width="176" height="1" fill="#fff"/>
<rect x="344.5" y="462" width="176" height="1" fill="#fff"/>
<rect x="344.5" y="503" width="176" height="1" fill="#fff"/>
<rect x="344.5" y="516" width="176" height="1" fill="#fff"/>
<rect x="344.5" y="529" width="176" height="1" fill="#fff"/>
<rect x="344.5" y="533" width="176" height="1" fill="#fff"/>
<rect x="344.5" y="551" width="176" height="5" fill="#fff"/>
<rect x="344.5" y="563" width="176" height="2" fill="#fff"/>
<rect x="344.5" y="590" width="176" height="1" fill="#fff"/>
<rect x="344.5" y="598" width="176" height="1" fill="#fff"/>
<rect x="344.5" y="603" width="176" height="1" fill="#fff"/>
<rect x="344.5" y="617" width="176" height="2" fill="#fff"/>
<rect x="344.5" y="622" width="176" height="1" fill="#fff"/>
<rect x="344.5" y="625" width="176" height="1" fill="#fff"/>
<rect x="344.5" y="627" width="176" height="1" fill="#fff"/>
<rect x="344.5" y="630" width="176" height="2" fill="#fff"/>
<rect x="344.5" y="664" width="176" height="1" fill="#fff"/>
<rect x="344.5" y="669" width="176" height="2" fill="#fff"/>
<rect x="344.5" y="673" width="176" height="1" fill="#fff"/>
<rect x="344.5" y="679" width="176" height="4" fill="#fff"/>
<rect x="344.5" y="80" width="176" height="2" fill="#000"/>
<rect x="344.5" y="89" width="176" height="1" fill="#000"/>
<rect x="344.5" y="127" width="176" height="2" fill="#000"/>
<rect x="344.5" y="144" width="176" height="1" fill="#000"/>
<rect x="344.5" y="154" width="176" height="1" fill="#000"/>
<rect x="344.5" y="156" width="176" height="1" fill="#000"/>
<rect x="344.5" y="166" width="176" height="2" fill="#000"/>
<rect x="344.5" y="177" width="176" height="1" fill="#000"/>
<rect x="344.5" y="187" width="176" height="2" fill="#000"/>
<rect x="344.5" y="282" width="176" height="1" fill="#000"/>
<rect x="344.5" y="291" width="176" height="1" fill="#000"/>
<rect x="344.5" y="302" width="176" height="1" fill="#000"/>
<rect x="344.5" y="306" width="176" height="1" fill="#000"/>
<rect x="344.5" y="354" width="176" height="2" fill="#000"/>
<rect x="344.5" y="364" width="176" height="1" fill="#000"/>
<rect x="344.5" y="467" width="176" height="1" fill="#000"/>
<rect x="344.5" y="468.5" width="176" height="0.6" fill="#000"/>
<rect x="344.5" y="472" width="176" height="1" fill="#000"/>
<rect x="344.5" y="547" width="176" height="2" fill="#000"/>
<rect x="344.5" y="560" width="176" height="1" fill="#000"/>
<rect x="344.5" y="568" width="176" height="1" fill="#000"/>
<rect x="344.5" y="576" width="176" height="1" fill="#000"/>
<rect x="344.5" y="585" width="176" height="2.7" fill="#000"/>
<rect x="344.5" y="636" width="176" height="1" fill="#000"/>
<rect x="344.5" y="676" width="176" height="1" fill="#000"/>
<rect x="344.5" y="684" width="176" height="1" fill="#000"/>
<rect x="344.5" y="687" width="176" height="1" fill="#000"/>
<rect x="344.5" y="703" width="176" height="1" fill="#000"/>
<rect x="344.5" y="80.5" width="176" height="640" fill="none" stroke="#000" stroke-width="1"/>
<path d="M385.5 720.5 v-6" stroke="#000" stroke-width="1" fill="none"/><path d="M385.5 81 v6" stroke="#000" stroke-width="1" stroke-opacity=".5" fill="none"/>
<path d="M426.5 720.5 v-6" stroke="#000" stroke-width="1" fill="none"/><path d="M426.5 81 v6" stroke="#000" stroke-width="1" stroke-opacity=".5" fill="none"/>
<path d="M468.5 720.5 v-6" stroke="#000" stroke-width="1" fill="none"/><path d="M468.5 81 v6" stroke="#000" stroke-width="1" stroke-opacity=".5" fill="none"/>
<path d="M509.5 720.5 v-6" stroke="#000" stroke-width="1" fill="none"/><path d="M509.5 81 v6" stroke="#000" stroke-width="1" stroke-opacity=".5" fill="none"/>
<text x="344.5" y="736" font-size="12.4" text-anchor="middle" textLength="21.5" lengthAdjust="spacingAndGlyphs">320</text>
<text x="385.7" y="736" font-size="12.4" text-anchor="middle" textLength="21.5" lengthAdjust="spacingAndGlyphs">335</text>
<text x="426.9" y="736" font-size="12.4" text-anchor="middle" textLength="21.5" lengthAdjust="spacingAndGlyphs">350</text>
<text x="468.1" y="736" font-size="12.4" text-anchor="middle" textLength="21.5" lengthAdjust="spacingAndGlyphs">365</text>
<text x="509.2" y="736" font-size="12.4" text-anchor="middle" textLength="21.5" lengthAdjust="spacingAndGlyphs">380</text>
<text x="339.5" y="723.6" font-size="12.4" text-anchor="end">0</text>
<text x="339.5" y="590.3" font-size="12.4" text-anchor="end">5</text>
<text x="339.5" y="456.9" font-size="12.4" text-anchor="end">10</text>
<text x="339.5" y="323.6" font-size="12.4" text-anchor="end">15</text>
<text x="339.5" y="190.3" font-size="12.4" text-anchor="end">20</text>
<text x="431.9" y="73" font-size="15.8" text-anchor="middle" textLength="183" lengthAdjust="spacingAndGlyphs">YY, V9*V15=EA18*EA26</text>
<g filter="url(#jet2)">
<rect x="555.5" y="79" width="179" height="625.2" fill="#202020"/>
<rect x="555.5" y="127.2" width="179.0" height="2.8" fill="#2b2b2b"/>
<rect x="555.5" y="130" width="179.0" height="3" fill="#454545"/>
<rect x="555.5" y="134" width="179.0" height="5" fill="#4f4f4f"/>
<rect x="555.5" y="140" width="179.0" height="4" fill="#3b3b3b"/>
<rect x="555.5" y="144.7" width="179.0" height="5.3" fill="#292929"/>
<rect x="555.5" y="152" width="179.0" height="2.2" fill="#454545"/>
<rect x="555.5" y="469.4" width="179.0" height="2.6" fill="#2b2b2b"/>
<rect x="555.5" y="561" width="179.0" height="2" fill="#363636"/>
<rect x="555.5" y="565" width="179.0" height="3" fill="#2e2e2e"/>
<rect x="555.5" y="587.6" width="179.0" height="2.4" fill="#333333"/>
<rect x="555.5" y="614" width="179.0" height="3" fill="#333333"/>
<rect x="555.5" y="677" width="179.0" height="2" fill="#333333"/>
<rect x="555.5" y="691" width="179.0" height="12.3" fill="#292929"/>
<rect x="555.5" y="636.6" width="179.0" height="27.4" fill="#252525"/>
<rect x="555.5" y="271" width="179.0" height="31" fill="#262626"/>
<rect x="668.4" y="80" width="53.4" height="623.2" fill="url(#p2g)"/>
<rect x="668.4" y="80" width="12" height="623.2" fill="url(#p2b0)"/>
<rect x="682.5" y="80" width="11.6" height="623.2" fill="url(#p2b1)"/>
<rect x="696.1" y="80" width="11.8" height="623.2" fill="url(#p2b2)"/>
<rect x="709.9" y="80" width="11.9" height="623.2" fill="url(#p2b3)"/>
<rect x="597.8" y="119.5" width="22" height="32" fill="url(#halo)" opacity="1"/>
<rect x="601.8" y="151.5" width="14" height="4.5" fill="url(#halo)" opacity="0.45"/>
<rect x="650.5" y="118" width="12" height="10" fill="url(#halo)" opacity="0.55"/>
<rect x="651.5" y="128" width="10" height="22" fill="url(#halo)" opacity="0.3"/>
<rect x="607.5" y="115.5" width="2.6" height="5.5" fill="#5c5c5c"/>
<rect x="607.8" y="119.5" width="2" height="31.5" fill="#9e9e9e"/>
<rect x="607.8" y="130.5" width="2" height="2" fill="#e6e6e6"/>
<rect x="607.8" y="134" width="2" height="1.2" fill="#a8a8a8"/>
<rect x="607.8" y="140" width="2" height="2" fill="#b2b2b2"/>
<rect x="607.8" y="142.7" width="2" height="1.3" fill="#a3a3a3"/>
<rect x="607.8" y="145.3" width="2" height="2.5" fill="#a3a3a3"/>
<rect x="604.8" y="130.8" width="8" height="1.4" fill="#cccccc"/>
<rect x="655.9" y="118.6" width="1.4" height="8.6" fill="#e0e0e0"/>
<rect x="656.0" y="129.5" width="1.2" height="20" fill="#999999"/>
<rect x="617.0" y="88" width="1.35" height="1" fill="#808080"/>
<rect x="617.0" y="99" width="1.35" height="2" fill="#d9d9d9"/>
<rect x="617.0" y="101" width="1.35" height="3" fill="#999999"/>
<rect x="617.0" y="157" width="1.35" height="1" fill="#999999"/>
<rect x="617.0" y="165" width="1.35" height="1" fill="#808080"/>
<rect x="617.0" y="169" width="1.35" height="2" fill="#737373"/>
<rect x="617.0" y="204" width="1.35" height="2" fill="#bfbfbf"/>
<rect x="617.0" y="208" width="1.35" height="1" fill="#a6a6a6"/>
<rect x="617.0" y="215" width="1.35" height="2" fill="#d1d1d1"/>
<rect x="617.0" y="220" width="1.35" height="2" fill="#cccccc"/>
<rect x="617.0" y="230" width="1.35" height="2" fill="#d9d9d9"/>
<rect x="598.0" y="108" width="1.35" height="1" fill="#9e9e9e"/>
<rect x="635.0" y="160" width="1.35" height="1" fill="#808080"/>
<rect x="635.0" y="178" width="1.35" height="2" fill="#949494"/>
<rect x="642.0" y="179" width="1.35" height="1" fill="#a8a8a8"/>
<rect x="642.0" y="182" width="1.35" height="1" fill="#a8a8a8"/>
<rect x="598.0" y="195" width="1.35" height="2" fill="#bfbfbf"/>
<rect x="635.0" y="230" width="1.35" height="1" fill="#8c8c8c"/>
<rect x="635.0" y="399" width="1.35" height="1" fill="#999999"/>
<rect x="722.0" y="566" width="6.5" height="1" fill="#5c5c5c"/>
<rect x="723.6" y="566" width="3.2" height="1" fill="#9e9e9e"/>
<rect x="724.0" y="566" width="1.35" height="2" fill="#dbdbdb"/>
<rect x="650.0" y="614" width="1.35" height="1" fill="#666666"/>
<rect x="650.0" y="623" width="1.35" height="1" fill="#808080"/>
<rect x="650.0" y="626" width="1.35" height="2" fill="#808080"/>
<rect x="650.0" y="634" width="1.35" height="1" fill="#808080"/>
<rect x="650.0" y="641" width="1.35" height="1" fill="#808080"/>
<rect x="650.0" y="661" width="1.35" height="1" fill="#8c8c8c"/>
<rect x="650.0" y="667" width="1.35" height="1" fill="#808080"/>
<rect x="650.0" y="672" width="1.35" height="1" fill="#808080"/>
<rect x="650.0" y="696" width="1.35" height="1" fill="#737373"/>
</g>
<rect x="556.5" y="120" width="177" height="1" fill="#fff"/>
<rect x="556.5" y="129" width="177" height="1" fill="#fff"/>
<rect x="556.5" y="133" width="177" height="1" fill="#fff"/>
<rect x="556.5" y="139" width="177" height="1" fill="#fff"/>
<rect x="556.5" y="150" width="177" height="2" fill="#fff"/>
<rect x="556.5" y="162" width="177" height="1" fill="#fff"/>
<rect x="556.5" y="203" width="177" height="1" fill="#fff"/>
<rect x="556.5" y="237" width="177" height="1" fill="#fff"/>
<rect x="556.5" y="240" width="177" height="1" fill="#fff"/>
<rect x="556.5" y="243" width="177" height="1" fill="#fff"/>
<rect x="556.5" y="245" width="177" height="2" fill="#fff"/>
<rect x="556.5" y="249" width="177" height="1" fill="#fff"/>
<rect x="556.5" y="252" width="177" height="1" fill="#fff"/>
<rect x="556.5" y="263" width="177" height="1" fill="#fff"/>
<rect x="556.5" y="266" width="177" height="1" fill="#fff"/>
<rect x="556.5" y="269" width="177" height="2" fill="#fff"/>
<rect x="556.5" y="284" width="177" height="1" fill="#fff"/>
<rect x="556.5" y="289" width="177" height="1" fill="#fff"/>
<rect x="556.5" y="304" width="177" height="1" fill="#fff"/>
<rect x="556.5" y="310" width="177" height="1" fill="#fff"/>
<rect x="556.5" y="313" width="177" height="2" fill="#fff"/>
<rect x="556.5" y="345" width="177" height="1" fill="#fff"/>
<rect x="556.5" y="348" width="177" height="1" fill="#fff"/>
<rect x="556.5" y="371" width="177" height="1" fill="#fff"/>
<rect x="556.5" y="386" width="177" height="1" fill="#fff"/>
<rect x="556.5" y="394" width="177" height="1" fill="#fff"/>
<rect x="556.5" y="405" width="177" height="1" fill="#fff"/>
<rect x="556.5" y="445" width="177" height="1" fill="#fff"/>
<rect x="556.5" y="449" width="177" height="1" fill="#fff"/>
<rect x="556.5" y="462" width="177" height="1" fill="#fff"/>
<rect x="556.5" y="503" width="177" height="1" fill="#fff"/>
<rect x="556.5" y="516" width="177" height="1" fill="#fff"/>
<rect x="556.5" y="529" width="177" height="1" fill="#fff"/>
<rect x="556.5" y="533" width="177" height="1" fill="#fff"/>
<rect x="556.5" y="551" width="177" height="5" fill="#fff"/>
<rect x="556.5" y="563" width="177" height="2" fill="#fff"/>
<rect x="556.5" y="590" width="177" height="1" fill="#fff"/>
<rect x="556.5" y="598" width="177" height="1" fill="#fff"/>
<rect x="556.5" y="603" width="177" height="1" fill="#fff"/>
<rect x="556.5" y="617" width="177" height="2" fill="#fff"/>
<rect x="556.5" y="622" width="177" height="1" fill="#fff"/>
<rect x="556.5" y="625" width="177" height="1" fill="#fff"/>
<rect x="556.5" y="627" width="177" height="1" fill="#fff"/>
<rect x="556.5" y="630" width="177" height="2" fill="#fff"/>
<rect x="556.5" y="664" width="177" height="1" fill="#fff"/>
<rect x="556.5" y="669" width="177" height="2" fill="#fff"/>
<rect x="556.5" y="673" width="177" height="1" fill="#fff"/>
<rect x="556.5" y="679" width="177" height="4" fill="#fff"/>
<rect x="556.5" y="80" width="177" height="2" fill="#000"/>
<rect x="556.5" y="89" width="177" height="1" fill="#000"/>
<rect x="556.5" y="127" width="177" height="2" fill="#000"/>
<rect x="556.5" y="144" width="177" height="1" fill="#000"/>
<rect x="556.5" y="154" width="177" height="1" fill="#000"/>
<rect x="556.5" y="156" width="177" height="1" fill="#000"/>
<rect x="556.5" y="166" width="177" height="2" fill="#000"/>
<rect x="556.5" y="177" width="177" height="1" fill="#000"/>
<rect x="556.5" y="187" width="177" height="2" fill="#000"/>
<rect x="556.5" y="282" width="177" height="1" fill="#000"/>
<rect x="556.5" y="291" width="177" height="1" fill="#000"/>
<rect x="556.5" y="302" width="177" height="1" fill="#000"/>
<rect x="556.5" y="306" width="177" height="1" fill="#000"/>
<rect x="556.5" y="354" width="177" height="2" fill="#000"/>
<rect x="556.5" y="364" width="177" height="1" fill="#000"/>
<rect x="556.5" y="467" width="177" height="1" fill="#000"/>
<rect x="556.5" y="468.5" width="177" height="0.6" fill="#000"/>
<rect x="556.5" y="472" width="177" height="1" fill="#000"/>
<rect x="556.5" y="547" width="177" height="2" fill="#000"/>
<rect x="556.5" y="560" width="177" height="1" fill="#000"/>
<rect x="556.5" y="568" width="177" height="1" fill="#000"/>
<rect x="556.5" y="576" width="177" height="1" fill="#000"/>
<rect x="556.5" y="585" width="177" height="2.7" fill="#000"/>
<rect x="556.5" y="636" width="177" height="1" fill="#000"/>
<rect x="556.5" y="676" width="177" height="1" fill="#000"/>
<rect x="556.5" y="684" width="177" height="1" fill="#000"/>
<rect x="556.5" y="687" width="177" height="1" fill="#000"/>
<rect x="556.5" y="703" width="177" height="1" fill="#000"/>
<rect x="556.5" y="80.5" width="177" height="640" fill="none" stroke="#000" stroke-width="1"/>
<path d="M597.5 720.5 v-6" stroke="#000" stroke-width="1" fill="none"/><path d="M597.5 81 v6" stroke="#000" stroke-width="1" stroke-opacity=".5" fill="none"/>
<path d="M639.5 720.5 v-6" stroke="#000" stroke-width="1" fill="none"/><path d="M639.5 81 v6" stroke="#000" stroke-width="1" stroke-opacity=".5" fill="none"/>
<path d="M680.5 720.5 v-6" stroke="#000" stroke-width="1" fill="none"/><path d="M680.5 81 v6" stroke="#000" stroke-width="1" stroke-opacity=".5" fill="none"/>
<path d="M722.5 720.5 v-6" stroke="#000" stroke-width="1" fill="none"/><path d="M722.5 81 v6" stroke="#000" stroke-width="1" stroke-opacity=".5" fill="none"/>
<text x="556.5" y="736" font-size="12.4" text-anchor="middle" textLength="21.5" lengthAdjust="spacingAndGlyphs">320</text>
<text x="597.9" y="736" font-size="12.4" text-anchor="middle" textLength="21.5" lengthAdjust="spacingAndGlyphs">335</text>
<text x="639.3" y="736" font-size="12.4" text-anchor="middle" textLength="21.5" lengthAdjust="spacingAndGlyphs">350</text>
<text x="680.8" y="736" font-size="12.4" text-anchor="middle" textLength="21.5" lengthAdjust="spacingAndGlyphs">365</text>
<text x="722.2" y="736" font-size="12.4" text-anchor="middle" textLength="21.5" lengthAdjust="spacingAndGlyphs">380</text>
<text x="551.5" y="723.6" font-size="12.4" text-anchor="end">0</text>
<text x="551.5" y="590.3" font-size="12.4" text-anchor="end">5</text>
<text x="551.5" y="456.9" font-size="12.4" text-anchor="end">10</text>
<text x="551.5" y="323.6" font-size="12.4" text-anchor="end">15</text>
<text x="551.5" y="190.3" font-size="12.4" text-anchor="end">20</text>
<text x="645.2" y="73" font-size="15.8" text-anchor="middle" textLength="184" lengthAdjust="spacingAndGlyphs">XY, V9*V15=EA18*EA26</text>
<g filter="url(#jet3)">
<rect x="767.5" y="79" width="179" height="625.2" fill="#202020"/>
<rect x="767.5" y="127.2" width="179.0" height="2.8" fill="#2b2b2b"/>
<rect x="767.5" y="130" width="179.0" height="3" fill="#454545"/>
<rect x="767.5" y="134" width="179.0" height="5" fill="#4f4f4f"/>
<rect x="767.5" y="140" width="179.0" height="4" fill="#3b3b3b"/>
<rect x="767.5" y="144.7" width="179.0" height="5.3" fill="#292929"/>
<rect x="767.5" y="152" width="179.0" height="2.2" fill="#454545"/>
<rect x="767.5" y="469.4" width="179.0" height="2.6" fill="#333333"/>
<rect x="767.5" y="561" width="179.0" height="2" fill="#333333"/>
<rect x="767.5" y="565" width="179.0" height="3" fill="#2e2e2e"/>
<rect x="767.5" y="587.6" width="179.0" height="2.4" fill="#333333"/>
<rect x="767.5" y="614" width="179.0" height="3" fill="#333333"/>
<rect x="767.5" y="677" width="179.0" height="2" fill="#333333"/>
<rect x="767.5" y="691" width="179.0" height="12.3" fill="#292929"/>
<rect x="767.5" y="636.6" width="179.0" height="27.4" fill="#252525"/>
<rect x="767.5" y="271" width="179.0" height="31" fill="#262626"/>
<rect x="880.4" y="80" width="53.4" height="623.2" fill="url(#p3g)"/>
<rect x="880.4" y="80" width="12" height="623.2" fill="url(#p3b0)"/>
<rect x="894.5" y="80" width="11.6" height="623.2" fill="url(#p3b1)"/>
<rect x="908.1" y="80" width="11.8" height="623.2" fill="url(#p3b2)"/>
<rect x="921.9" y="80" width="11.9" height="623.2" fill="url(#p3b3)"/>
<rect x="809.8" y="119.5" width="22" height="32" fill="url(#halo)" opacity="1"/>
<rect x="813.8" y="151.5" width="14" height="4.5" fill="url(#halo)" opacity="0.45"/>
<rect x="862.5" y="118" width="12" height="10" fill="url(#halo)" opacity="0.8"/>
<rect x="863.5" y="128" width="10" height="22" fill="url(#halo)" opacity="0.35"/>
<rect x="819.5" y="115.5" width="2.6" height="5.5" fill="#5c5c5c"/>
<rect x="819.8" y="119.5" width="2" height="31.5" fill="#a3a3a3"/>
<rect x="819.8" y="130.5" width="2" height="2" fill="#e0e0e0"/>
<rect x="819.8" y="134" width="2" height="1.2" fill="#d1d1d1"/>
<rect x="819.8" y="140" width="2" height="2" fill="#d6d6d6"/>
<rect x="819.8" y="142.7" width="2" height="1.3" fill="#c7c7c7"/>
<rect x="819.8" y="145.3" width="2" height="2.5" fill="#cccccc"/>
<rect x="867.9" y="118.6" width="1.4" height="8.6" fill="#d1d1d1"/>
<rect x="868.0" y="129.5" width="1.2" height="20" fill="#949494"/>
<rect x="829.0" y="88" width="1.35" height="1" fill="#808080"/>
<rect x="829.0" y="99" width="1.35" height="2" fill="#d9d9d9"/>
<rect x="829.0" y="101" width="1.35" height="3" fill="#999999"/>
<rect x="829.0" y="157" width="1.35" height="1" fill="#999999"/>
<rect x="829.0" y="165" width="1.35" height="1" fill="#808080"/>
<rect x="829.0" y="169" width="1.35" height="2" fill="#808080"/>
<rect x="829.0" y="204" width="1.35" height="2" fill="#bfbfbf"/>
<rect x="829.0" y="208" width="1.35" height="1" fill="#a6a6a6"/>
<rect x="829.0" y="215" width="1.35" height="1" fill="#b2b2b2"/>
<rect x="829.0" y="220" width="1.35" height="2" fill="#d9d9d9"/>
<rect x="829.0" y="230" width="1.35" height="2" fill="#d9d9d9"/>
<rect x="810.0" y="108" width="1.35" height="1" fill="#9e9e9e"/>
<rect x="847.0" y="160" width="1.35" height="1" fill="#808080"/>
<rect x="847.0" y="178" width="1.35" height="2" fill="#8c8c8c"/>
<rect x="854.0" y="179" width="1.35" height="1" fill="#a8a8a8"/>
<rect x="854.0" y="182" width="1.35" height="1" fill="#a8a8a8"/>
<rect x="810.0" y="195" width="1.35" height="2" fill="#bfbfbf"/>
<rect x="847.0" y="230" width="1.35" height="1" fill="#999999"/>
<rect x="847.0" y="399" width="1.35" height="1" fill="#808080"/>
<rect x="934.0" y="566" width="6.5" height="1" fill="#5c5c5c"/>
<rect x="935.6" y="566" width="3.2" height="1" fill="#9e9e9e"/>
<rect x="936.0" y="566" width="1.35" height="2" fill="#dbdbdb"/>
<rect x="862.0" y="614" width="1.35" height="1" fill="#737373"/>
<rect x="862.0" y="623" width="1.35" height="1" fill="#808080"/>
<rect x="862.0" y="626" width="1.35" height="2" fill="#808080"/>
<rect x="862.0" y="634" width="1.35" height="1" fill="#808080"/>
<rect x="862.0" y="641" width="1.35" height="1" fill="#808080"/>
<rect x="862.0" y="661" width="1.35" height="1" fill="#8c8c8c"/>
<rect x="862.0" y="667" width="1.35" height="1" fill="#808080"/>
<rect x="862.0" y="672" width="1.35" height="1" fill="#808080"/>
<rect x="862.0" y="696" width="1.35" height="1" fill="#808080"/>
</g>
<rect x="768.5" y="120" width="177" height="1" fill="#fff"/>
<rect x="768.5" y="129" width="177" height="1" fill="#fff"/>
<rect x="768.5" y="133" width="177" height="1" fill="#fff"/>
<rect x="768.5" y="139" width="177" height="1" fill="#fff"/>
<rect x="768.5" y="150" width="177" height="2" fill="#fff"/>
<rect x="768.5" y="162" width="177" height="1" fill="#fff"/>
<rect x="768.5" y="203" width="177" height="1" fill="#fff"/>
<rect x="768.5" y="237" width="177" height="1" fill="#fff"/>
<rect x="768.5" y="240" width="177" height="1" fill="#fff"/>
<rect x="768.5" y="243" width="177" height="1" fill="#fff"/>
<rect x="768.5" y="245" width="177" height="2" fill="#fff"/>
<rect x="768.5" y="249" width="177" height="1" fill="#fff"/>
<rect x="768.5" y="252" width="177" height="1" fill="#fff"/>
<rect x="768.5" y="263" width="177" height="1" fill="#fff"/>
<rect x="768.5" y="266" width="177" height="1" fill="#fff"/>
<rect x="768.5" y="269" width="177" height="2" fill="#fff"/>
<rect x="768.5" y="284" width="177" height="1" fill="#fff"/>
<rect x="768.5" y="289" width="177" height="1" fill="#fff"/>
<rect x="768.5" y="304" width="177" height="1" fill="#fff"/>
<rect x="768.5" y="310" width="177" height="1" fill="#fff"/>
<rect x="768.5" y="313" width="177" height="2" fill="#fff"/>
<rect x="768.5" y="345" width="177" height="1" fill="#fff"/>
<rect x="768.5" y="348" width="177" height="1" fill="#fff"/>
<rect x="768.5" y="371" width="177" height="1" fill="#fff"/>
<rect x="768.5" y="386" width="177" height="1" fill="#fff"/>
<rect x="768.5" y="394" width="177" height="1" fill="#fff"/>
<rect x="768.5" y="405" width="177" height="1" fill="#fff"/>
<rect x="768.5" y="445" width="177" height="1" fill="#fff"/>
<rect x="768.5" y="449" width="177" height="1" fill="#fff"/>
<rect x="768.5" y="462" width="177" height="1" fill="#fff"/>
<rect x="768.5" y="503" width="177" height="1" fill="#fff"/>
<rect x="768.5" y="516" width="177" height="1" fill="#fff"/>
<rect x="768.5" y="529" width="177" height="1" fill="#fff"/>
<rect x="768.5" y="533" width="177" height="1" fill="#fff"/>
<rect x="768.5" y="551" width="177" height="5" fill="#fff"/>
<rect x="768.5" y="563" width="177" height="2" fill="#fff"/>
<rect x="768.5" y="590" width="177" height="1" fill="#fff"/>
<rect x="768.5" y="598" width="177" height="1" fill="#fff"/>
<rect x="768.5" y="603" width="177" height="1" fill="#fff"/>
<rect x="768.5" y="617" width="177" height="2" fill="#fff"/>
<rect x="768.5" y="622" width="177" height="1" fill="#fff"/>
<rect x="768.5" y="625" width="177" height="1" fill="#fff"/>
<rect x="768.5" y="627" width="177" height="1" fill="#fff"/>
<rect x="768.5" y="630" width="177" height="2" fill="#fff"/>
<rect x="768.5" y="664" width="177" height="1" fill="#fff"/>
<rect x="768.5" y="669" width="177" height="2" fill="#fff"/>
<rect x="768.5" y="673" width="177" height="1" fill="#fff"/>
<rect x="768.5" y="679" width="177" height="4" fill="#fff"/>
<rect x="768.5" y="80" width="177" height="2" fill="#000"/>
<rect x="768.5" y="89" width="177" height="1" fill="#000"/>
<rect x="768.5" y="127" width="177" height="2" fill="#000"/>
<rect x="768.5" y="144" width="177" height="1" fill="#000"/>
<rect x="768.5" y="154" width="177" height="1" fill="#000"/>
<rect x="768.5" y="156" width="177" height="1" fill="#000"/>
<rect x="768.5" y="166" width="177" height="2" fill="#000"/>
<rect x="768.5" y="177" width="177" height="1" fill="#000"/>
<rect x="768.5" y="187" width="177" height="2" fill="#000"/>
<rect x="768.5" y="282" width="177" height="1" fill="#000"/>
<rect x="768.5" y="291" width="177" height="1" fill="#000"/>
<rect x="768.5" y="302" width="177" height="1" fill="#000"/>
<rect x="768.5" y="306" width="177" height="1" fill="#000"/>
<rect x="768.5" y="354" width="177" height="2" fill="#000"/>
<rect x="768.5" y="364" width="177" height="1" fill="#000"/>
<rect x="768.5" y="467" width="177" height="1" fill="#000"/>
<rect x="768.5" y="468.5" width="177" height="0.6" fill="#000"/>
<rect x="768.5" y="472" width="177" height="1" fill="#000"/>
<rect x="768.5" y="547" width="177" height="2" fill="#000"/>
<rect x="768.5" y="560" width="177" height="1" fill="#000"/>
<rect x="768.5" y="568" width="177" height="1" fill="#000"/>
<rect x="768.5" y="576" width="177" height="1" fill="#000"/>
<rect x="768.5" y="585" width="177" height="2.7" fill="#000"/>
<rect x="768.5" y="636" width="177" height="1" fill="#000"/>
<rect x="768.5" y="676" width="177" height="1" fill="#000"/>
<rect x="768.5" y="684" width="177" height="1" fill="#000"/>
<rect x="768.5" y="687" width="177" height="1" fill="#000"/>
<rect x="768.5" y="703" width="177" height="1" fill="#000"/>
<rect x="768.5" y="80.5" width="177" height="640" fill="none" stroke="#000" stroke-width="1"/>
<path d="M809.5 720.5 v-6" stroke="#000" stroke-width="1" fill="none"/><path d="M809.5 81 v6" stroke="#000" stroke-width="1" stroke-opacity=".5" fill="none"/>
<path d="M851.5 720.5 v-6" stroke="#000" stroke-width="1" fill="none"/><path d="M851.5 81 v6" stroke="#000" stroke-width="1" stroke-opacity=".5" fill="none"/>
<path d="M892.5 720.5 v-6" stroke="#000" stroke-width="1" fill="none"/><path d="M892.5 81 v6" stroke="#000" stroke-width="1" stroke-opacity=".5" fill="none"/>
<path d="M934.5 720.5 v-6" stroke="#000" stroke-width="1" fill="none"/><path d="M934.5 81 v6" stroke="#000" stroke-width="1" stroke-opacity=".5" fill="none"/>
<text x="768.5" y="736" font-size="12.4" text-anchor="middle" textLength="21.5" lengthAdjust="spacingAndGlyphs">320</text>
<text x="809.9" y="736" font-size="12.4" text-anchor="middle" textLength="21.5" lengthAdjust="spacingAndGlyphs">335</text>
<text x="851.3" y="736" font-size="12.4" text-anchor="middle" textLength="21.5" lengthAdjust="spacingAndGlyphs">350</text>
<text x="892.8" y="736" font-size="12.4" text-anchor="middle" textLength="21.5" lengthAdjust="spacingAndGlyphs">365</text>
<text x="934.2" y="736" font-size="12.4" text-anchor="middle" textLength="21.5" lengthAdjust="spacingAndGlyphs">380</text>
<text x="763.5" y="723.6" font-size="12.4" text-anchor="end">0</text>
<text x="763.5" y="590.3" font-size="12.4" text-anchor="end">5</text>
<text x="763.5" y="456.9" font-size="12.4" text-anchor="end">10</text>
<text x="763.5" y="323.6" font-size="12.4" text-anchor="end">15</text>
<text x="763.5" y="190.3" font-size="12.4" text-anchor="end">20</text>
<text x="856.6" y="73" font-size="15.8" text-anchor="middle" textLength="184" lengthAdjust="spacingAndGlyphs">YX, V9*V15=EA18*EA26</text>
<text x="589.2" y="26" font-size="12.4" text-anchor="middle" textLength="127.5" lengthAdjust="spacingAndGlyphs">2018-01-22 0.0-24.0</text>
<text x="483.3" y="754.3" font-size="12.4" text-anchor="middle" textLength="103" lengthAdjust="spacingAndGlyphs">frequency (MHz)</text>
<text transform="translate(101.2,400) rotate(-90)" font-size="12.4" text-anchor="middle" textLength="63.8" lengthAdjust="spacingAndGlyphs">UT (hours)</text>
<text transform="translate(984.7,400.4) rotate(-90)" font-size="12.4" text-anchor="middle" textLength="94.5" lengthAdjust="spacingAndGlyphs">log<tspan font-size="8.4" dy="2.5">10</tspan><tspan dy="-2.5"> amplitude</tspan></text>
<rect x="1019.5" y="160.5" width="15" height="480" fill="url(#cb)" stroke="#000" stroke-width="1"/>
<path d="M1019.5 160.5 h5.5 M1034.5 160.5 h-5.5" stroke="#000" stroke-width="1"/>
<text x="1013" y="162.9" font-size="10.4" text-anchor="end">1</text>
<path d="M1019.5 256.5 h5.5 M1034.5 256.5 h-5.5" stroke="#000" stroke-width="1"/>
<text x="1013" y="258.9" font-size="10.4" text-anchor="end">0</text>
<path d="M1019.5 352.5 h5.5 M1034.5 352.5 h-5.5" stroke="#000" stroke-width="1"/>
<text x="1013" y="354.9" font-size="10.4" text-anchor="end" textLength="14" lengthAdjust="spacingAndGlyphs">−1</text>
<path d="M1019.5 448.5 h5.5 M1034.5 448.5 h-5.5" stroke="#000" stroke-width="1"/>
<text x="1013" y="450.9" font-size="10.4" text-anchor="end" textLength="14" lengthAdjust="spacingAndGlyphs">−2</text>
<path d="M1019.5 544.5 h5.5 M1034.5 544.5 h-5.5" stroke="#000" stroke-width="1"/>
<text x="1013" y="546.9" font-size="10.4" text-anchor="end" textLength="14" lengthAdjust="spacingAndGlyphs">−3</text>
<path d="M1019.5 640.5 h5.5 M1034.5 640.5 h-5.5" stroke="#000" stroke-width="1"/>
<text x="1013" y="642.9" font-size="10.4" text-anchor="end" textLength="14" lengthAdjust="spacingAndGlyphs">−4</text>
<path d="M1022.5 161v5.5M1025.5 161v5.5M1028.5 161v5.5M1031.5 161v5.5M1022.5 640v-5.5M1025.5 640v-5.5M1028.5 640v-5.5M1031.5 640v-5.5" stroke="#000" stroke-opacity="0.75" stroke-width="0.9"/>
<rect x="1017" y="646" width="1.1" height="1.1" fill="#666"/>
<rect x="1020.9" y="646" width="1.1" height="1.1" fill="#666"/>
<rect x="1024" y="646" width="1.1" height="1.1" fill="#777"/>
<rect x="1027" y="646" width="1.1" height="1.1" fill="#aaa"/>
<rect x="1030.1" y="646" width="1.1" height="1.1" fill="#aaa"/>
<rect x="1033.3" y="646" width="1.1" height="1.1" fill="#c4c4c4"/>
</svg></body></html>
